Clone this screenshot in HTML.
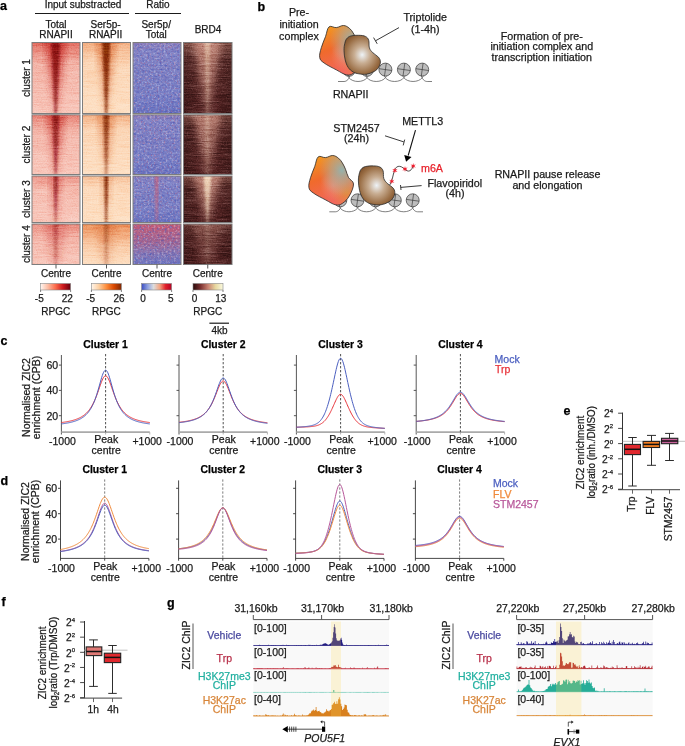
<!DOCTYPE html>
<html><head><meta charset="utf-8"><style>
html,body{margin:0;padding:0;background:#fff;}
svg{display:block;}
text{font-family:"Liberation Sans", sans-serif;stroke:#1a1a1a;stroke-width:0.25px;}
</style></head><body>
<svg width="685" height="746" viewBox="0 0 685 746" font-family='"Liberation Sans", sans-serif' font-size="10" fill="#1a1a1a">
<defs>
<filter id="noiseH" x="0" y="0" width="100%" height="100%">
  <feTurbulence type="fractalNoise" baseFrequency="0.35 1.6" numOctaves="2" seed="3" result="t"/>
  <feColorMatrix type="saturate" values="0"/>
  <feComponentTransfer><feFuncA type="linear" slope="0" intercept="1"/></feComponentTransfer>
</filter>
<filter id="blur1"><feGaussianBlur stdDeviation="1.2"/></filter>
<filter id="blur2"><feGaussianBlur stdDeviation="2"/></filter>
<filter id="blur3"><feGaussianBlur stdDeviation="3"/></filter>

<filter id="streak" x="0" y="0" width="100%" height="100%" color-interpolation-filters="sRGB">
  <feTurbulence type="fractalNoise" baseFrequency="0.06 0.9" numOctaves="3" seed="11"/>
  <feColorMatrix type="matrix" values="0.33 0.33 0.33 0 0  0.33 0.33 0.33 0 0  0.33 0.33 0.33 0 0  0 0 0 0 1"/>
  <feComponentTransfer><feFuncR type="linear" slope="3" intercept="-1"/><feFuncG type="linear" slope="3" intercept="-1"/><feFuncB type="linear" slope="3" intercept="-1"/></feComponentTransfer>
</filter>
<filter id="fine" x="0" y="0" width="100%" height="100%" color-interpolation-filters="sRGB">
  <feTurbulence type="fractalNoise" baseFrequency="0.8 0.9" numOctaves="1" seed="17"/>
  <feColorMatrix type="matrix" values="0.33 0.33 0.33 0 0  0.33 0.33 0.33 0 0  0.33 0.33 0.33 0 0  0 0 0 0 1"/>
  <feComponentTransfer><feFuncR type="linear" slope="2.6" intercept="-0.8"/><feFuncG type="linear" slope="2.6" intercept="-0.8"/><feFuncB type="linear" slope="2.6" intercept="-0.8"/></feComponentTransfer>
</filter>
<filter id="speck" x="0" y="0" width="100%" height="100%" color-interpolation-filters="sRGB">
  <feTurbulence type="fractalNoise" baseFrequency="0.7 0.6" numOctaves="2" seed="4"/>
  <feColorMatrix type="matrix" values="0 0 0 0 0.85  0 0 0 0 0.3  0 0 0 0 0.38  3.4 0 0 0 -1.9"/>
</filter>
<filter id="speck2" x="0" y="0" width="100%" height="100%" color-interpolation-filters="sRGB">
  <feTurbulence type="fractalNoise" baseFrequency="0.4 0.45" numOctaves="2" seed="9"/>
  <feColorMatrix type="matrix" values="0 0 0 0 0.3  0 0 0 0 0.35  0 0 0 0 0.72  0 3.0 0 0 -1.45"/>
</filter>
<filter id="speck3" x="0" y="0" width="100%" height="100%" color-interpolation-filters="sRGB">
  <feTurbulence type="fractalNoise" baseFrequency="0.5 0.55" numOctaves="2" seed="21"/>
  <feColorMatrix type="matrix" values="0 0 0 0 0.86  0 0 0 0 0.87  0 0 0 0 0.95  0 0 3.0 0 -1.45"/>
</filter>
<linearGradient id="ratioV" x1="0" y1="0" x2="0" y2="1"><stop offset="0" stop-color="#9aa0dc" stop-opacity="0.25"/><stop offset="0.5" stop-color="#9aa0dc" stop-opacity="0"/><stop offset="1" stop-color="#4050b0" stop-opacity="0.3"/></linearGradient>
<filter id="hb08"><feGaussianBlur stdDeviation="0.8 0.3"/></filter>
<filter id="hb3"><feGaussianBlur stdDeviation="3.2 1"/></filter>
<linearGradient id="hm00t" x1="0" y1="0" x2="0" y2="1"><stop offset="0" stop-color="#d9483a" stop-opacity="0.75"/><stop offset="0.075" stop-color="#d9483a" stop-opacity="0.525"/><stop offset="0.300" stop-color="#d9483a" stop-opacity="0.150"/><stop offset="1" stop-color="#d9483a" stop-opacity="0"/></linearGradient><linearGradient id="hm00h" x1="0" y1="0" x2="0" y2="1"><stop offset="0" stop-color="#c8302a" stop-opacity="0.75"/><stop offset="1" stop-color="#c8302a" stop-opacity="0.338"/></linearGradient><linearGradient id="hm00c" x1="0" y1="0" x2="0" y2="1"><stop offset="0" stop-color="#8c0a10" stop-opacity="0.95"/><stop offset="1" stop-color="#8c0a10" stop-opacity="0.665"/></linearGradient><linearGradient id="hm10t" x1="0" y1="0" x2="0" y2="1"><stop offset="0" stop-color="#ea8448" stop-opacity="0.55"/><stop offset="0.075" stop-color="#ea8448" stop-opacity="0.385"/><stop offset="0.300" stop-color="#ea8448" stop-opacity="0.110"/><stop offset="1" stop-color="#ea8448" stop-opacity="0"/></linearGradient><linearGradient id="hm10h" x1="0" y1="0" x2="0" y2="1"><stop offset="0" stop-color="#d86a30" stop-opacity="0.65"/><stop offset="1" stop-color="#d86a30" stop-opacity="0.293"/></linearGradient><linearGradient id="hm10c" x1="0" y1="0" x2="0" y2="1"><stop offset="0" stop-color="#862606" stop-opacity="0.95"/><stop offset="1" stop-color="#862606" stop-opacity="0.760"/></linearGradient><linearGradient id="hm20t" x1="0" y1="0" x2="0" y2="1"><stop offset="0" stop-color="#d8404e" stop-opacity="0.2"/><stop offset="0.030" stop-color="#d8404e" stop-opacity="0.140"/><stop offset="0.120" stop-color="#d8404e" stop-opacity="0.040"/><stop offset="1" stop-color="#d8404e" stop-opacity="0"/></linearGradient><linearGradient id="hm30t" x1="0" y1="0" x2="0" y2="1"><stop offset="0" stop-color="#b07868" stop-opacity="0.65"/><stop offset="0.062" stop-color="#b07868" stop-opacity="0.455"/><stop offset="0.250" stop-color="#b07868" stop-opacity="0.130"/><stop offset="1" stop-color="#b07868" stop-opacity="0"/></linearGradient><linearGradient id="hm30e" x1="0" y1="0" x2="1" y2="0"><stop offset="0" stop-color="#2a0e0e" stop-opacity="0.45"/><stop offset="0.35" stop-color="#2a0e0e" stop-opacity="0"/><stop offset="0.65" stop-color="#2a0e0e" stop-opacity="0"/><stop offset="1" stop-color="#2a0e0e" stop-opacity="0.45"/></linearGradient><linearGradient id="hm30h" x1="0" y1="0" x2="0" y2="1"><stop offset="0" stop-color="#c48a7c" stop-opacity="0.95"/><stop offset="1" stop-color="#c48a7c" stop-opacity="0.427"/></linearGradient><linearGradient id="hm30c" x1="0" y1="0" x2="0" y2="1"><stop offset="0" stop-color="#f4dcc0" stop-opacity="0.55"/><stop offset="1" stop-color="#f4dcc0" stop-opacity="0.220"/></linearGradient><linearGradient id="hm01t" x1="0" y1="0" x2="0" y2="1"><stop offset="0" stop-color="#d9483a" stop-opacity="0.6"/><stop offset="0.070" stop-color="#d9483a" stop-opacity="0.420"/><stop offset="0.280" stop-color="#d9483a" stop-opacity="0.120"/><stop offset="1" stop-color="#d9483a" stop-opacity="0"/></linearGradient><linearGradient id="hm01h" x1="0" y1="0" x2="0" y2="1"><stop offset="0" stop-color="#c8302a" stop-opacity="0.6"/><stop offset="1" stop-color="#c8302a" stop-opacity="0.270"/></linearGradient><linearGradient id="hm01c" x1="0" y1="0" x2="0" y2="1"><stop offset="0" stop-color="#8c0a10" stop-opacity="0.85"/><stop offset="1" stop-color="#8c0a10" stop-opacity="0.510"/></linearGradient><linearGradient id="hm11t" x1="0" y1="0" x2="0" y2="1"><stop offset="0" stop-color="#ea8448" stop-opacity="0.55"/><stop offset="0.062" stop-color="#ea8448" stop-opacity="0.385"/><stop offset="0.250" stop-color="#ea8448" stop-opacity="0.110"/><stop offset="1" stop-color="#ea8448" stop-opacity="0"/></linearGradient><linearGradient id="hm11h" x1="0" y1="0" x2="0" y2="1"><stop offset="0" stop-color="#d86a30" stop-opacity="0.5"/><stop offset="1" stop-color="#d86a30" stop-opacity="0.225"/></linearGradient><linearGradient id="hm11c" x1="0" y1="0" x2="0" y2="1"><stop offset="0" stop-color="#862606" stop-opacity="0.85"/><stop offset="1" stop-color="#862606" stop-opacity="0.510"/></linearGradient><linearGradient id="hm21t" x1="0" y1="0" x2="0" y2="1"><stop offset="0" stop-color="#d8404e" stop-opacity="0.25"/><stop offset="0.025" stop-color="#d8404e" stop-opacity="0.175"/><stop offset="0.100" stop-color="#d8404e" stop-opacity="0.050"/><stop offset="1" stop-color="#d8404e" stop-opacity="0"/></linearGradient><linearGradient id="hm21c" x1="0" y1="0" x2="0" y2="1"><stop offset="0" stop-color="#d8505e" stop-opacity="0.05"/><stop offset="1" stop-color="#d8505e" stop-opacity="0.050"/></linearGradient><linearGradient id="hm31t" x1="0" y1="0" x2="0" y2="1"><stop offset="0" stop-color="#b07868" stop-opacity="0.55"/><stop offset="0.062" stop-color="#b07868" stop-opacity="0.385"/><stop offset="0.250" stop-color="#b07868" stop-opacity="0.110"/><stop offset="1" stop-color="#b07868" stop-opacity="0"/></linearGradient><linearGradient id="hm31e" x1="0" y1="0" x2="1" y2="0"><stop offset="0" stop-color="#2a0e0e" stop-opacity="0.45"/><stop offset="0.35" stop-color="#2a0e0e" stop-opacity="0"/><stop offset="0.65" stop-color="#2a0e0e" stop-opacity="0"/><stop offset="1" stop-color="#2a0e0e" stop-opacity="0.45"/></linearGradient><linearGradient id="hm31h" x1="0" y1="0" x2="0" y2="1"><stop offset="0" stop-color="#c48a7c" stop-opacity="0.85"/><stop offset="1" stop-color="#c48a7c" stop-opacity="0.383"/></linearGradient><linearGradient id="hm31c" x1="0" y1="0" x2="0" y2="1"><stop offset="0" stop-color="#f4dcc0" stop-opacity="0.35"/><stop offset="1" stop-color="#f4dcc0" stop-opacity="0.140"/></linearGradient><linearGradient id="hm02t" x1="0" y1="0" x2="0" y2="1"><stop offset="0" stop-color="#d9483a" stop-opacity="0.4"/><stop offset="0.075" stop-color="#d9483a" stop-opacity="0.280"/><stop offset="0.300" stop-color="#d9483a" stop-opacity="0.080"/><stop offset="1" stop-color="#d9483a" stop-opacity="0"/></linearGradient><linearGradient id="hm02h" x1="0" y1="0" x2="0" y2="1"><stop offset="0" stop-color="#c8302a" stop-opacity="0.45"/><stop offset="1" stop-color="#c8302a" stop-opacity="0.203"/></linearGradient><linearGradient id="hm02c" x1="0" y1="0" x2="0" y2="1"><stop offset="0" stop-color="#8c0a10" stop-opacity="0.8"/><stop offset="1" stop-color="#8c0a10" stop-opacity="0.400"/></linearGradient><linearGradient id="hm12t" x1="0" y1="0" x2="0" y2="1"><stop offset="0" stop-color="#ea8448" stop-opacity="0.35"/><stop offset="0.062" stop-color="#ea8448" stop-opacity="0.245"/><stop offset="0.250" stop-color="#ea8448" stop-opacity="0.070"/><stop offset="1" stop-color="#ea8448" stop-opacity="0"/></linearGradient><linearGradient id="hm12h" x1="0" y1="0" x2="0" y2="1"><stop offset="0" stop-color="#d86a30" stop-opacity="0.35"/><stop offset="1" stop-color="#d86a30" stop-opacity="0.158"/></linearGradient><linearGradient id="hm12c" x1="0" y1="0" x2="0" y2="1"><stop offset="0" stop-color="#862606" stop-opacity="0.95"/><stop offset="1" stop-color="#862606" stop-opacity="0.807"/></linearGradient><linearGradient id="hm22t" x1="0" y1="0" x2="0" y2="1"><stop offset="0" stop-color="#d8404e" stop-opacity="0.15"/><stop offset="0.037" stop-color="#d8404e" stop-opacity="0.105"/><stop offset="0.150" stop-color="#d8404e" stop-opacity="0.030"/><stop offset="1" stop-color="#d8404e" stop-opacity="0"/></linearGradient><linearGradient id="hm22h" x1="0" y1="0" x2="0" y2="1"><stop offset="0" stop-color="#d86a78" stop-opacity="0.1"/><stop offset="1" stop-color="#d86a78" stop-opacity="0.045"/></linearGradient><linearGradient id="hm22c" x1="0" y1="0" x2="0" y2="1"><stop offset="0" stop-color="#d8505e" stop-opacity="0.65"/><stop offset="1" stop-color="#d8505e" stop-opacity="0.390"/></linearGradient><linearGradient id="hm32t" x1="0" y1="0" x2="0" y2="1"><stop offset="0" stop-color="#b07868" stop-opacity="0.6"/><stop offset="0.062" stop-color="#b07868" stop-opacity="0.420"/><stop offset="0.250" stop-color="#b07868" stop-opacity="0.120"/><stop offset="1" stop-color="#b07868" stop-opacity="0"/></linearGradient><linearGradient id="hm32e" x1="0" y1="0" x2="1" y2="0"><stop offset="0" stop-color="#2a0e0e" stop-opacity="0.45"/><stop offset="0.35" stop-color="#2a0e0e" stop-opacity="0"/><stop offset="0.65" stop-color="#2a0e0e" stop-opacity="0"/><stop offset="1" stop-color="#2a0e0e" stop-opacity="0.45"/></linearGradient><linearGradient id="hm32h" x1="0" y1="0" x2="0" y2="1"><stop offset="0" stop-color="#c48a7c" stop-opacity="0.9"/><stop offset="1" stop-color="#c48a7c" stop-opacity="0.405"/></linearGradient><linearGradient id="hm32c" x1="0" y1="0" x2="0" y2="1"><stop offset="0" stop-color="#f4dcc0" stop-opacity="0.95"/><stop offset="1" stop-color="#f4dcc0" stop-opacity="0.427"/></linearGradient><linearGradient id="hm03t" x1="0" y1="0" x2="0" y2="1"><stop offset="0" stop-color="#d9483a" stop-opacity="0.45"/><stop offset="0.113" stop-color="#d9483a" stop-opacity="0.315"/><stop offset="0.450" stop-color="#d9483a" stop-opacity="0.090"/><stop offset="1" stop-color="#d9483a" stop-opacity="0"/></linearGradient><linearGradient id="hm03h" x1="0" y1="0" x2="0" y2="1"><stop offset="0" stop-color="#c8302a" stop-opacity="0.35"/><stop offset="1" stop-color="#c8302a" stop-opacity="0.158"/></linearGradient><linearGradient id="hm03c" x1="0" y1="0" x2="0" y2="1"><stop offset="0" stop-color="#8c0a10" stop-opacity="0.4"/><stop offset="1" stop-color="#8c0a10" stop-opacity="0.200"/></linearGradient><linearGradient id="hm13t" x1="0" y1="0" x2="0" y2="1"><stop offset="0" stop-color="#ea8448" stop-opacity="0.95"/><stop offset="0.138" stop-color="#ea8448" stop-opacity="0.665"/><stop offset="0.550" stop-color="#ea8448" stop-opacity="0.190"/><stop offset="1" stop-color="#ea8448" stop-opacity="0"/></linearGradient><linearGradient id="hm13h" x1="0" y1="0" x2="0" y2="1"><stop offset="0" stop-color="#d86a30" stop-opacity="0.4"/><stop offset="1" stop-color="#d86a30" stop-opacity="0.180"/></linearGradient><linearGradient id="hm13c" x1="0" y1="0" x2="0" y2="1"><stop offset="0" stop-color="#862606" stop-opacity="0.4"/><stop offset="1" stop-color="#862606" stop-opacity="0.240"/></linearGradient><linearGradient id="hm23t" x1="0" y1="0" x2="0" y2="1"><stop offset="0" stop-color="#d8404e" stop-opacity="1.0"/><stop offset="0.175" stop-color="#d8404e" stop-opacity="0.700"/><stop offset="0.700" stop-color="#d8404e" stop-opacity="0.200"/><stop offset="1" stop-color="#d8404e" stop-opacity="0"/></linearGradient><linearGradient id="hm33t" x1="0" y1="0" x2="0" y2="1"><stop offset="0" stop-color="#b07868" stop-opacity="0.35"/><stop offset="0.075" stop-color="#b07868" stop-opacity="0.245"/><stop offset="0.300" stop-color="#b07868" stop-opacity="0.070"/><stop offset="1" stop-color="#b07868" stop-opacity="0"/></linearGradient><linearGradient id="hm33e" x1="0" y1="0" x2="1" y2="0"><stop offset="0" stop-color="#2a0e0e" stop-opacity="0.45"/><stop offset="0.35" stop-color="#2a0e0e" stop-opacity="0"/><stop offset="0.65" stop-color="#2a0e0e" stop-opacity="0"/><stop offset="1" stop-color="#2a0e0e" stop-opacity="0.45"/></linearGradient><linearGradient id="hm33h" x1="0" y1="0" x2="0" y2="1"><stop offset="0" stop-color="#c48a7c" stop-opacity="0.35"/><stop offset="1" stop-color="#c48a7c" stop-opacity="0.158"/></linearGradient><linearGradient id="hm33c" x1="0" y1="0" x2="0" y2="1"><stop offset="0" stop-color="#f4dcc0" stop-opacity="0.15"/><stop offset="1" stop-color="#f4dcc0" stop-opacity="0.075"/></linearGradient><linearGradient id="cb0" x1="0" y1="0" x2="1" y2="0"><stop offset="0.000" stop-color="#fff5f0"/><stop offset="0.250" stop-color="#fcbba1"/><stop offset="0.500" stop-color="#fb6a4a"/><stop offset="0.750" stop-color="#cb181d"/><stop offset="1.000" stop-color="#67000d"/></linearGradient><linearGradient id="cb1" x1="0" y1="0" x2="1" y2="0"><stop offset="0.000" stop-color="#fff5eb"/><stop offset="0.250" stop-color="#fdd0a2"/><stop offset="0.500" stop-color="#fd8d3c"/><stop offset="0.750" stop-color="#d94801"/><stop offset="1.000" stop-color="#7f2704"/></linearGradient><linearGradient id="cb2" x1="0" y1="0" x2="1" y2="0"><stop offset="0.000" stop-color="#3b4cc0"/><stop offset="0.200" stop-color="#8da0e0"/><stop offset="0.400" stop-color="#dddddd"/><stop offset="0.600" stop-color="#f4a582"/><stop offset="0.800" stop-color="#e0202a"/><stop offset="1.000" stop-color="#b40426"/></linearGradient><linearGradient id="cb3" x1="0" y1="0" x2="1" y2="0"><stop offset="0.000" stop-color="#2a0a0a"/><stop offset="0.250" stop-color="#7a3030"/><stop offset="0.500" stop-color="#c88070"/><stop offset="0.750" stop-color="#e8d8a0"/><stop offset="1.000" stop-color="#fafae0"/></linearGradient>
<linearGradient id="picG" x1="0" y1="0" x2="0.35" y2="1">
  <stop offset="0" stop-color="#f2a020"/><stop offset="0.5" stop-color="#f06a2c"/><stop offset="1" stop-color="#f2685e"/>
</linearGradient>
<radialGradient id="picT" cx="0.74" cy="0.3" r="0.52">
  <stop offset="0" stop-color="#90b6b4" stop-opacity="0.95"/><stop offset="0.5" stop-color="#a8b2a0" stop-opacity="0.55"/><stop offset="1" stop-color="#c0a890" stop-opacity="0"/>
</radialGradient>
<radialGradient id="picR" cx="0.85" cy="0.75" r="0.35">
  <stop offset="0" stop-color="#e0903c" stop-opacity="0.9"/><stop offset="1" stop-color="#e0903c" stop-opacity="0"/>
</radialGradient>
<radialGradient id="picC" cx="0.55" cy="0.6" r="0.3">
  <stop offset="0" stop-color="#e8a090" stop-opacity="0.6"/><stop offset="1" stop-color="#e8a090" stop-opacity="0"/>
</radialGradient>
<radialGradient id="polG" cx="0.5" cy="0.5" r="0.62" fx="0.5" fy="0.5">
  <stop offset="0" stop-color="#eef3f7"/><stop offset="0.35" stop-color="#c8ad92"/><stop offset="0.75" stop-color="#9a6e45"/><stop offset="1" stop-color="#7a4c26"/>
</radialGradient>
</defs>
<rect width="685" height="746" fill="#fff"/>
<g id="panelA">
<text x="0" y="10" font-weight="bold" fill="#000" style="stroke:#000" font-size="12.5">a</text>
<text x="83" y="8" text-anchor="middle">Input substracted</text>
<line x1="35" y1="13.5" x2="129" y2="13.5" stroke="#1a1a1a" stroke-width="1"/>
<text x="158" y="8" text-anchor="middle">Ratio</text>
<line x1="135" y1="13.5" x2="181" y2="13.5" stroke="#1a1a1a" stroke-width="1"/>
<text x="56" y="27.5" text-anchor="middle">Total</text>
<text x="56" y="37.5" text-anchor="middle">RNAPII</text>
<text x="105.6" y="27.5" text-anchor="middle">Ser5p-</text>
<text x="105.6" y="37.5" text-anchor="middle">RNAPII</text>
<text x="156.2" y="27.5" text-anchor="middle">Ser5p/</text>
<text x="156.2" y="37.5" text-anchor="middle">Total</text>
<text x="208" y="33" text-anchor="middle">BRD4</text>
<svg x="32" y="42.5" width="48" height="71.0" viewBox="32 42.5 48 71.0" overflow="hidden">
<rect x="32" y="42.5" width="48" height="71.0" fill="#f8c8bc"/>
<rect x="32" y="42.5" width="48" height="71.0" fill="url(#hm00t)"/>
<path d="M44.7,40.5 L66.7,40.5 L57.2,115.5 L54.2,115.5Z" fill="url(#hm00h)" filter="url(#hb3)"/>
<path d="M51.2,41.5 L60.2,41.5 L56.8,113.5 L54.6,113.5Z" fill="url(#hm00c)" filter="url(#hb08)"/>
<rect x="32" y="42.5" width="48" height="71.0" filter="url(#streak)" opacity="0.3" style="mix-blend-mode:soft-light"/>
<rect x="32" y="42.5" width="48" height="71.0" filter="url(#fine)" opacity="0.35" style="mix-blend-mode:soft-light"/>
</svg>
<rect x="32" y="42.5" width="48" height="71.0" fill="none" stroke="#7d7d7d" stroke-width="1"/>
<svg x="82.5" y="42.5" width="48.0" height="71.0" viewBox="82.5 42.5 48.0 71.0" overflow="hidden">
<rect x="82.5" y="42.5" width="48.0" height="71.0" fill="#fde0c4"/>
<rect x="82.5" y="42.5" width="48.0" height="71.0" fill="url(#hm10t)"/>
<path d="M96.2,40.5 L116.2,40.5 L107.7,115.5 L104.7,115.5Z" fill="url(#hm10h)" filter="url(#hb3)"/>
<path d="M102.2,41.5 L110.2,41.5 L107.2,113.5 L105.2,113.5Z" fill="url(#hm10c)" filter="url(#hb08)"/>
<rect x="82.5" y="42.5" width="48.0" height="71.0" filter="url(#streak)" opacity="0.3" style="mix-blend-mode:soft-light"/>
<rect x="82.5" y="42.5" width="48.0" height="71.0" filter="url(#fine)" opacity="0.3" style="mix-blend-mode:soft-light"/>
</svg>
<rect x="82.5" y="42.5" width="48.0" height="71.0" fill="none" stroke="#7d7d7d" stroke-width="1"/>
<svg x="133" y="42.5" width="48" height="71.0" viewBox="133 42.5 48 71.0" overflow="hidden">
<rect x="133" y="42.5" width="48" height="71.0" fill="#7880c6"/>
<rect x="133" y="42.5" width="48" height="71.0" fill="url(#hm20t)"/>
<rect x="133" y="42.5" width="48" height="71.0" fill="url(#ratioV)"/>
<rect x="133" y="42.5" width="48" height="71.0" filter="url(#speck2)" opacity="0.65"/>
<rect x="133" y="42.5" width="48" height="71.0" filter="url(#speck3)" opacity="0.45"/>
<rect x="133" y="42.5" width="48" height="71.0" filter="url(#speck)" opacity="0.35"/>
<rect x="133" y="42.5" width="48" height="71.0" filter="url(#streak)" opacity="0.1" style="mix-blend-mode:soft-light"/>
</svg>
<rect x="133" y="42.5" width="48" height="71.0" fill="none" stroke="#7d7d7d" stroke-width="1"/>
<svg x="183.5" y="42.5" width="48.5" height="71.0" viewBox="183.5 42.5 48.5 71.0" overflow="hidden">
<rect x="183.5" y="42.5" width="48.5" height="71.0" fill="#532222"/>
<rect x="183.5" y="42.5" width="48.5" height="71.0" fill="url(#hm30e)"/>
<rect x="183.5" y="42.5" width="48.5" height="71.0" fill="url(#hm30t)"/>
<path d="M193.4,40.5 L221.4,40.5 L208.9,115.5 L205.9,115.5Z" fill="url(#hm30h)" filter="url(#hb3)"/>
<path d="M204.4,41.5 L210.4,41.5 L208.1,113.5 L206.8,113.5Z" fill="url(#hm30c)" filter="url(#hb08)"/>
<rect x="183.5" y="42.5" width="48.5" height="71.0" filter="url(#streak)" opacity="0.4" style="mix-blend-mode:soft-light"/>
<rect x="183.5" y="42.5" width="48.5" height="71.0" filter="url(#fine)" opacity="0.35" style="mix-blend-mode:soft-light"/>
</svg>
<rect x="183.5" y="42.5" width="48.5" height="71.0" fill="none" stroke="#7d7d7d" stroke-width="1"/>
<svg x="32" y="114.8" width="48" height="59.7" viewBox="32 114.8 48 59.7" overflow="hidden">
<rect x="32" y="114.8" width="48" height="59.7" fill="#f8c8bc"/>
<rect x="32" y="114.8" width="48" height="59.7" fill="url(#hm01t)"/>
<path d="M45.7,112.8 L65.7,112.8 L57.2,176.5 L54.2,176.5Z" fill="url(#hm01h)" filter="url(#hb3)"/>
<path d="M52.2,113.8 L59.2,113.8 L56.7,174.5 L54.7,174.5Z" fill="url(#hm01c)" filter="url(#hb08)"/>
<rect x="32" y="114.8" width="48" height="59.7" filter="url(#streak)" opacity="0.3" style="mix-blend-mode:soft-light"/>
<rect x="32" y="114.8" width="48" height="59.7" filter="url(#fine)" opacity="0.35" style="mix-blend-mode:soft-light"/>
</svg>
<rect x="32" y="114.8" width="48" height="59.7" fill="none" stroke="#7d7d7d" stroke-width="1"/>
<svg x="82.5" y="114.8" width="48.0" height="59.7" viewBox="82.5 114.8 48.0 59.7" overflow="hidden">
<rect x="82.5" y="114.8" width="48.0" height="59.7" fill="#fde0c4"/>
<rect x="82.5" y="114.8" width="48.0" height="59.7" fill="url(#hm11t)"/>
<path d="M97.2,112.8 L115.2,112.8 L107.7,176.5 L104.7,176.5Z" fill="url(#hm11h)" filter="url(#hb3)"/>
<path d="M103.2,113.8 L109.2,113.8 L107.1,174.5 L105.3,174.5Z" fill="url(#hm11c)" filter="url(#hb08)"/>
<rect x="82.5" y="114.8" width="48.0" height="59.7" filter="url(#streak)" opacity="0.3" style="mix-blend-mode:soft-light"/>
<rect x="82.5" y="114.8" width="48.0" height="59.7" filter="url(#fine)" opacity="0.3" style="mix-blend-mode:soft-light"/>
</svg>
<rect x="82.5" y="114.8" width="48.0" height="59.7" fill="none" stroke="#7d7d7d" stroke-width="1"/>
<svg x="133" y="114.8" width="48" height="59.7" viewBox="133 114.8 48 59.7" overflow="hidden">
<rect x="133" y="114.8" width="48" height="59.7" fill="#7880c6"/>
<rect x="133" y="114.8" width="48" height="59.7" fill="url(#hm21t)"/>
<rect x="133" y="114.8" width="48" height="59.7" fill="url(#ratioV)"/>
<rect x="133" y="114.8" width="48" height="59.7" filter="url(#speck2)" opacity="0.65"/>
<rect x="133" y="114.8" width="48" height="59.7" filter="url(#speck3)" opacity="0.45"/>
<rect x="133" y="114.8" width="48" height="59.7" filter="url(#speck)" opacity="0.35"/>
<path d="M155.7,113.8 L157.7,113.8 L157.7,174.5 L155.7,174.5Z" fill="url(#hm21c)" filter="url(#hb08)"/>
<rect x="133" y="114.8" width="48" height="59.7" filter="url(#streak)" opacity="0.1" style="mix-blend-mode:soft-light"/>
</svg>
<rect x="133" y="114.8" width="48" height="59.7" fill="none" stroke="#7d7d7d" stroke-width="1"/>
<svg x="183.5" y="114.8" width="48.5" height="59.7" viewBox="183.5 114.8 48.5 59.7" overflow="hidden">
<rect x="183.5" y="114.8" width="48.5" height="59.7" fill="#532222"/>
<rect x="183.5" y="114.8" width="48.5" height="59.7" fill="url(#hm31e)"/>
<rect x="183.5" y="114.8" width="48.5" height="59.7" fill="url(#hm31t)"/>
<path d="M193.4,112.8 L221.4,112.8 L208.9,176.5 L205.9,176.5Z" fill="url(#hm31h)" filter="url(#hb3)"/>
<path d="M204.9,113.8 L209.9,113.8 L208.1,174.5 L206.8,174.5Z" fill="url(#hm31c)" filter="url(#hb08)"/>
<rect x="183.5" y="114.8" width="48.5" height="59.7" filter="url(#streak)" opacity="0.4" style="mix-blend-mode:soft-light"/>
<rect x="183.5" y="114.8" width="48.5" height="59.7" filter="url(#fine)" opacity="0.35" style="mix-blend-mode:soft-light"/>
</svg>
<rect x="183.5" y="114.8" width="48.5" height="59.7" fill="none" stroke="#7d7d7d" stroke-width="1"/>
<svg x="32" y="176" width="48" height="46.5" viewBox="32 176 48 46.5" overflow="hidden">
<rect x="32" y="176" width="48" height="46.5" fill="#f8c8bc"/>
<rect x="32" y="176" width="48" height="46.5" fill="url(#hm02t)"/>
<path d="M48.7,174 L62.7,174 L57.2,224.5 L54.2,224.5Z" fill="url(#hm02h)" filter="url(#hb3)"/>
<path d="M53.5,175 L58.0,175 L56.5,222.5 L54.9,222.5Z" fill="url(#hm02c)" filter="url(#hb08)"/>
<rect x="32" y="176" width="48" height="46.5" filter="url(#streak)" opacity="0.3" style="mix-blend-mode:soft-light"/>
<rect x="32" y="176" width="48" height="46.5" filter="url(#fine)" opacity="0.35" style="mix-blend-mode:soft-light"/>
</svg>
<rect x="32" y="176" width="48" height="46.5" fill="none" stroke="#7d7d7d" stroke-width="1"/>
<svg x="82.5" y="176" width="48.0" height="46.5" viewBox="82.5 176 48.0 46.5" overflow="hidden">
<rect x="82.5" y="176" width="48.0" height="46.5" fill="#fde0c4"/>
<rect x="82.5" y="176" width="48.0" height="46.5" fill="url(#hm12t)"/>
<path d="M100.2,174 L112.2,174 L107.7,224.5 L104.7,224.5Z" fill="url(#hm12h)" filter="url(#hb3)"/>
<path d="M104.2,175 L108.2,175 L107.0,222.5 L105.4,222.5Z" fill="url(#hm12c)" filter="url(#hb08)"/>
<rect x="82.5" y="176" width="48.0" height="46.5" filter="url(#streak)" opacity="0.3" style="mix-blend-mode:soft-light"/>
<rect x="82.5" y="176" width="48.0" height="46.5" filter="url(#fine)" opacity="0.3" style="mix-blend-mode:soft-light"/>
</svg>
<rect x="82.5" y="176" width="48.0" height="46.5" fill="none" stroke="#7d7d7d" stroke-width="1"/>
<svg x="133" y="176" width="48" height="46.5" viewBox="133 176 48 46.5" overflow="hidden">
<rect x="133" y="176" width="48" height="46.5" fill="#7880c6"/>
<rect x="133" y="176" width="48" height="46.5" fill="url(#hm22t)"/>
<path d="M152.7,174 L160.7,174 L159.7,224.5 L153.7,224.5Z" fill="url(#hm22h)" filter="url(#hb3)"/>
<rect x="133" y="176" width="48" height="46.5" fill="url(#ratioV)"/>
<rect x="133" y="176" width="48" height="46.5" filter="url(#speck2)" opacity="0.65"/>
<rect x="133" y="176" width="48" height="46.5" filter="url(#speck3)" opacity="0.45"/>
<rect x="133" y="176" width="48" height="46.5" filter="url(#speck)" opacity="0.35"/>
<path d="M155.2,175 L158.2,175 L157.7,222.5 L155.7,222.5Z" fill="url(#hm22c)" filter="url(#hb08)"/>
<rect x="133" y="176" width="48" height="46.5" filter="url(#streak)" opacity="0.1" style="mix-blend-mode:soft-light"/>
</svg>
<rect x="133" y="176" width="48" height="46.5" fill="none" stroke="#7d7d7d" stroke-width="1"/>
<svg x="183.5" y="176" width="48.5" height="46.5" viewBox="183.5 176 48.5 46.5" overflow="hidden">
<rect x="183.5" y="176" width="48.5" height="46.5" fill="#532222"/>
<rect x="183.5" y="176" width="48.5" height="46.5" fill="url(#hm32e)"/>
<rect x="183.5" y="176" width="48.5" height="46.5" fill="url(#hm32t)"/>
<path d="M193.4,174 L221.4,174 L208.9,224.5 L205.9,224.5Z" fill="url(#hm32h)" filter="url(#hb3)"/>
<path d="M203.4,175 L211.4,175 L208.1,222.5 L206.8,222.5Z" fill="url(#hm32c)" filter="url(#hb08)"/>
<rect x="183.5" y="176" width="48.5" height="46.5" filter="url(#streak)" opacity="0.4" style="mix-blend-mode:soft-light"/>
<rect x="183.5" y="176" width="48.5" height="46.5" filter="url(#fine)" opacity="0.35" style="mix-blend-mode:soft-light"/>
</svg>
<rect x="183.5" y="176" width="48.5" height="46.5" fill="none" stroke="#7d7d7d" stroke-width="1"/>
<svg x="32" y="224" width="48" height="40.5" viewBox="32 224 48 40.5" overflow="hidden">
<rect x="32" y="224" width="48" height="40.5" fill="#f8c8bc"/>
<rect x="32" y="224" width="48" height="40.5" fill="url(#hm03t)"/>
<path d="M44.7,222 L66.7,222 L59.7,266.5 L51.7,266.5Z" fill="url(#hm03h)" filter="url(#hb3)"/>
<path d="M53.2,223 L58.2,223 L57.0,264.5 L54.5,264.5Z" fill="url(#hm03c)" filter="url(#hb08)"/>
<rect x="32" y="224" width="48" height="40.5" filter="url(#streak)" opacity="0.3" style="mix-blend-mode:soft-light"/>
<rect x="32" y="224" width="48" height="40.5" filter="url(#fine)" opacity="0.35" style="mix-blend-mode:soft-light"/>
</svg>
<rect x="32" y="224" width="48" height="40.5" fill="none" stroke="#7d7d7d" stroke-width="1"/>
<svg x="82.5" y="224" width="48.0" height="40.5" viewBox="82.5 224 48.0 40.5" overflow="hidden">
<rect x="82.5" y="224" width="48.0" height="40.5" fill="#fde0c4"/>
<rect x="82.5" y="224" width="48.0" height="40.5" fill="url(#hm13t)"/>
<path d="M95.2,222 L117.2,222 L110.2,266.5 L102.2,266.5Z" fill="url(#hm13h)" filter="url(#hb3)"/>
<path d="M103.7,223 L108.7,223 L107.5,264.5 L105.0,264.5Z" fill="url(#hm13c)" filter="url(#hb08)"/>
<rect x="82.5" y="224" width="48.0" height="40.5" filter="url(#streak)" opacity="0.3" style="mix-blend-mode:soft-light"/>
<rect x="82.5" y="224" width="48.0" height="40.5" filter="url(#fine)" opacity="0.3" style="mix-blend-mode:soft-light"/>
</svg>
<rect x="82.5" y="224" width="48.0" height="40.5" fill="none" stroke="#7d7d7d" stroke-width="1"/>
<svg x="133" y="224" width="48" height="40.5" viewBox="133 224 48 40.5" overflow="hidden">
<rect x="133" y="224" width="48" height="40.5" fill="#7880c6"/>
<rect x="133" y="224" width="48" height="40.5" fill="url(#hm23t)"/>
<rect x="133" y="224" width="48" height="40.5" fill="url(#ratioV)"/>
<rect x="133" y="224" width="48" height="40.5" filter="url(#speck2)" opacity="0.65"/>
<rect x="133" y="224" width="48" height="40.5" filter="url(#speck3)" opacity="0.45"/>
<rect x="133" y="224" width="48" height="40.5" filter="url(#speck)" opacity="0.35"/>
<rect x="133" y="224" width="48" height="40.5" filter="url(#streak)" opacity="0.1" style="mix-blend-mode:soft-light"/>
</svg>
<rect x="133" y="224" width="48" height="40.5" fill="none" stroke="#7d7d7d" stroke-width="1"/>
<svg x="183.5" y="224" width="48.5" height="40.5" viewBox="183.5 224 48.5 40.5" overflow="hidden">
<rect x="183.5" y="224" width="48.5" height="40.5" fill="#532222"/>
<rect x="183.5" y="224" width="48.5" height="40.5" fill="url(#hm33e)"/>
<rect x="183.5" y="224" width="48.5" height="40.5" fill="url(#hm33t)"/>
<path d="M192.4,222 L222.4,222 L212.4,266.5 L202.4,266.5Z" fill="url(#hm33h)" filter="url(#hb3)"/>
<path d="M204.4,223 L210.4,223 L208.9,264.5 L205.9,264.5Z" fill="url(#hm33c)" filter="url(#hb08)"/>
<rect x="183.5" y="224" width="48.5" height="40.5" filter="url(#streak)" opacity="0.4" style="mix-blend-mode:soft-light"/>
<rect x="183.5" y="224" width="48.5" height="40.5" filter="url(#fine)" opacity="0.35" style="mix-blend-mode:soft-light"/>
</svg>
<rect x="183.5" y="224" width="48.5" height="40.5" fill="none" stroke="#7d7d7d" stroke-width="1"/>
<text x="0" y="0" text-anchor="middle" transform="translate(29.5,78.0) rotate(-90)">cluster 1</text>
<text x="0" y="0" text-anchor="middle" transform="translate(29.5,144.7) rotate(-90)">cluster 2</text>
<text x="0" y="0" text-anchor="middle" transform="translate(29.5,199.2) rotate(-90)">cluster 3</text>
<text x="0" y="0" text-anchor="middle" transform="translate(29.5,244.2) rotate(-90)">cluster 4</text>
<line x1="56.0" y1="264.5" x2="56.0" y2="268.5" stroke="#555" stroke-width="1"/>
<text x="56.0" y="277" text-anchor="middle">Centre</text>
<line x1="106.5" y1="264.5" x2="106.5" y2="268.5" stroke="#555" stroke-width="1"/>
<text x="106.5" y="277" text-anchor="middle">Centre</text>
<line x1="157.0" y1="264.5" x2="157.0" y2="268.5" stroke="#555" stroke-width="1"/>
<text x="157.0" y="277" text-anchor="middle">Centre</text>
<line x1="207.75" y1="264.5" x2="207.75" y2="268.5" stroke="#555" stroke-width="1"/>
<text x="207.75" y="277" text-anchor="middle">Centre</text>
<rect x="40.6" y="283.5" width="30" height="6.5" fill="url(#cb0)" stroke="#888" stroke-width="0.6"/>
<line x1="40.6" y1="290" x2="40.6" y2="292" stroke="#555" stroke-width="0.7"/>
<line x1="70.6" y1="290" x2="70.6" y2="292" stroke="#555" stroke-width="0.7"/>
<text x="39.3" y="301.5" text-anchor="middle">-5</text>
<text x="67.2" y="301.5" text-anchor="middle">22</text>
<text x="55.8" y="314.5" text-anchor="middle">RPGC</text>
<rect x="91.4" y="283.5" width="30" height="6.5" fill="url(#cb1)" stroke="#888" stroke-width="0.6"/>
<line x1="91.4" y1="290" x2="91.4" y2="292" stroke="#555" stroke-width="0.7"/>
<line x1="121.4" y1="290" x2="121.4" y2="292" stroke="#555" stroke-width="0.7"/>
<text x="90.6" y="301.5" text-anchor="middle">-5</text>
<text x="119.0" y="301.5" text-anchor="middle">26</text>
<text x="106.4" y="314.5" text-anchor="middle">RPGC</text>
<rect x="141.6" y="283.5" width="30" height="6.5" fill="url(#cb2)" stroke="#888" stroke-width="0.6"/>
<line x1="141.6" y1="290" x2="141.6" y2="292" stroke="#555" stroke-width="0.7"/>
<line x1="171.6" y1="290" x2="171.6" y2="292" stroke="#555" stroke-width="0.7"/>
<text x="143.1" y="301.5" text-anchor="middle">0</text>
<text x="170.8" y="301.5" text-anchor="middle">5</text>
<rect x="193" y="283.5" width="30" height="6.5" fill="url(#cb3)" stroke="#888" stroke-width="0.6"/>
<line x1="193" y1="290" x2="193" y2="292" stroke="#555" stroke-width="0.7"/>
<line x1="223" y1="290" x2="223" y2="292" stroke="#555" stroke-width="0.7"/>
<text x="194.5" y="301.5" text-anchor="middle">0</text>
<text x="220.8" y="301.5" text-anchor="middle">13</text>
<text x="207.7" y="314.5" text-anchor="middle">RPGC</text>
<line x1="209.4" y1="323.2" x2="229" y2="323.2" stroke="#1a1a1a" stroke-width="1.2"/>
<text x="219.5" y="334" text-anchor="middle">4kb</text>
</g>
<g id="panelB" font-size="10.7">
<text x="257.5" y="11.0" font-weight="bold" fill="#000" style="stroke:#000" font-size="12.5">b</text>
<text x="299" y="16" text-anchor="middle" font-size="10.7">Pre-</text>
<text x="299" y="28" text-anchor="middle" font-size="10.7">initiation</text>
<text x="299" y="39.5" text-anchor="middle" font-size="10.7">complex</text>
<text x="350.7" y="97.6" text-anchor="middle" font-size="10.7">RNAPII</text>
<text x="425.2" y="21" text-anchor="middle" font-size="10.7">Triptolide</text>
<text x="425.2" y="32.5" text-anchor="middle" font-size="10.7">(1-4h)</text>
<text x="541.8" y="39.6" text-anchor="middle" font-size="10.7">Formation of pre-</text>
<text x="541.8" y="50.4" text-anchor="middle" font-size="10.7">initiation complex and</text>
<text x="541.8" y="61" text-anchor="middle" font-size="10.7">transcription initiation</text>
<text x="356.5" y="132.4" text-anchor="middle" font-size="10.7">STM2457</text>
<text x="356.5" y="142" text-anchor="middle" font-size="10.7">(24h)</text>
<text x="422.7" y="125" text-anchor="middle" font-size="10.7">METTL3</text>
<text x="421" y="171.6" fill="#e8222b" style="stroke:#e8222b" font-size="10.7">m6A</text>
<text x="454.8" y="187.4" text-anchor="middle" font-size="10.7">Flavopiridol</text>
<text x="455" y="197" text-anchor="middle" font-size="10.7">(4h)</text>
<text x="547.5" y="178.4" text-anchor="middle" font-size="10.7">RNAPII pause release</text>
<text x="547.5" y="188.6" text-anchor="middle" font-size="10.7">and elongation</text>
</g>
<path d="M338,81.5 L344,81.5 C346.5,81.5 349.5,79.5 350.5,73.0 M347.5,73.0 C347.0,84.3 369.0,84.3 368.5,73.0 M365.5,73.0 C365.0,84.3 387.4,84.3 386.9,73.0 M383.9,73.0 C383.4,84.3 405.9,84.3 405.4,73.0 M402.4,73.0 C401.9,84.3 424.2,84.3 423.7,73.0 M420.7,73.0 C421.7,79.5 424.7,81.5 427.2,81.5 L432,81.5" stroke="#555" fill="none" stroke-width="0.75"/>
<circle cx="349" cy="69.8" r="6.5" fill="#bdbdbd" stroke="#3a3a3a" stroke-width="0.7"/>
<line x1="342.56" y1="68.9" x2="355.44" y2="70.7" stroke="#333" stroke-width="0.65"/>
<line x1="349.9" y1="63.36" x2="348.1" y2="76.24" stroke="#333" stroke-width="0.65"/>
<circle cx="367" cy="69.8" r="6.5" fill="#bdbdbd" stroke="#3a3a3a" stroke-width="0.7"/>
<line x1="360.56" y1="68.9" x2="373.44" y2="70.7" stroke="#333" stroke-width="0.65"/>
<line x1="367.9" y1="63.36" x2="366.1" y2="76.24" stroke="#333" stroke-width="0.65"/>
<path d="M329.00,26.90 C330.98,25.25 333.64,27.86 336.30,27.60 C338.96,27.34 341.12,25.39 343.50,25.50 C345.88,25.61 347.52,26.82 349.30,28.20 C351.08,29.57 351.90,30.93 353.20,33.00 C354.50,35.07 355.28,36.84 356.40,39.50 C357.52,42.16 357.85,44.84 359.30,47.50 C360.75,50.16 364.13,50.64 364.30,54.00 C364.47,57.36 362.24,62.24 360.20,65.80 C358.16,69.36 355.75,71.75 353.20,73.40 C350.65,75.05 349.34,75.42 346.30,74.80 C343.26,74.18 340.67,72.16 336.60,70.00 C332.53,67.84 327.20,65.31 324.10,63.00 C321.00,60.69 320.21,60.21 319.70,57.40 C319.19,54.60 320.24,51.51 321.30,47.70 C322.36,43.89 324.09,40.41 325.50,36.60 C326.91,32.79 327.02,28.55 329.00,26.90Z" stroke="none" fill="url(#picG)" stroke-width="0.8"/>
<path d="M329.00,26.90 C330.98,25.25 333.64,27.86 336.30,27.60 C338.96,27.34 341.12,25.39 343.50,25.50 C345.88,25.61 347.52,26.82 349.30,28.20 C351.08,29.57 351.90,30.93 353.20,33.00 C354.50,35.07 355.28,36.84 356.40,39.50 C357.52,42.16 357.85,44.84 359.30,47.50 C360.75,50.16 364.13,50.64 364.30,54.00 C364.47,57.36 362.24,62.24 360.20,65.80 C358.16,69.36 355.75,71.75 353.20,73.40 C350.65,75.05 349.34,75.42 346.30,74.80 C343.26,74.18 340.67,72.16 336.60,70.00 C332.53,67.84 327.20,65.31 324.10,63.00 C321.00,60.69 320.21,60.21 319.70,57.40 C319.19,54.60 320.24,51.51 321.30,47.70 C322.36,43.89 324.09,40.41 325.50,36.60 C326.91,32.79 327.02,28.55 329.00,26.90Z" stroke="none" fill="url(#picR)" stroke-width="0.8"/>
<path d="M329.00,26.90 C330.98,25.25 333.64,27.86 336.30,27.60 C338.96,27.34 341.12,25.39 343.50,25.50 C345.88,25.61 347.52,26.82 349.30,28.20 C351.08,29.57 351.90,30.93 353.20,33.00 C354.50,35.07 355.28,36.84 356.40,39.50 C357.52,42.16 357.85,44.84 359.30,47.50 C360.75,50.16 364.13,50.64 364.30,54.00 C364.47,57.36 362.24,62.24 360.20,65.80 C358.16,69.36 355.75,71.75 353.20,73.40 C350.65,75.05 349.34,75.42 346.30,74.80 C343.26,74.18 340.67,72.16 336.60,70.00 C332.53,67.84 327.20,65.31 324.10,63.00 C321.00,60.69 320.21,60.21 319.70,57.40 C319.19,54.60 320.24,51.51 321.30,47.70 C322.36,43.89 324.09,40.41 325.50,36.60 C326.91,32.79 327.02,28.55 329.00,26.90Z" stroke="none" fill="url(#picC)" stroke-width="0.8"/>
<path d="M329.00,26.90 C330.98,25.25 333.64,27.86 336.30,27.60 C338.96,27.34 341.12,25.39 343.50,25.50 C345.88,25.61 347.52,26.82 349.30,28.20 C351.08,29.57 351.90,30.93 353.20,33.00 C354.50,35.07 355.28,36.84 356.40,39.50 C357.52,42.16 357.85,44.84 359.30,47.50 C360.75,50.16 364.13,50.64 364.30,54.00 C364.47,57.36 362.24,62.24 360.20,65.80 C358.16,69.36 355.75,71.75 353.20,73.40 C350.65,75.05 349.34,75.42 346.30,74.80 C343.26,74.18 340.67,72.16 336.60,70.00 C332.53,67.84 327.20,65.31 324.10,63.00 C321.00,60.69 320.21,60.21 319.70,57.40 C319.19,54.60 320.24,51.51 321.30,47.70 C322.36,43.89 324.09,40.41 325.50,36.60 C326.91,32.79 327.02,28.55 329.00,26.90Z" stroke="#2a2a2a" fill="url(#picT)" stroke-width="0.8"/>
<path d="M346.80,38.60 C347.96,37.22 348.90,36.51 351.10,35.90 C353.30,35.30 356.18,35.21 358.80,35.30 C361.42,35.39 363.59,35.48 365.40,36.40 C367.22,37.32 367.97,38.19 368.70,40.30 C369.43,42.41 368.61,45.59 369.40,47.90 C370.19,50.21 371.33,51.20 373.00,52.90 C374.67,54.61 377.14,55.55 378.50,57.20 C379.86,58.85 380.38,60.03 380.40,61.90 C380.42,63.77 379.76,65.64 378.60,67.40 C377.44,69.16 376.32,70.25 374.10,71.50 C371.88,72.75 369.31,73.78 366.50,74.20 C363.69,74.62 361.24,74.20 358.80,73.80 C356.36,73.40 355.14,73.17 353.20,72.00 C351.26,70.83 349.67,69.62 348.20,67.40 C346.73,65.18 345.97,63.02 345.20,59.90 C344.43,56.78 344.07,53.43 344.00,50.40 C343.93,47.38 344.29,45.56 344.80,43.40 C345.31,41.24 345.64,39.97 346.80,38.60Z" stroke="#2a2a2a" fill="url(#polG)" stroke-width="0.8"/>
<circle cx="385.4" cy="69.6" r="6.5" fill="#bdbdbd" stroke="#3a3a3a" stroke-width="0.7"/>
<line x1="378.96" y1="68.7" x2="391.84" y2="70.5" stroke="#333" stroke-width="0.65"/>
<line x1="386.3" y1="63.16" x2="384.5" y2="76.04" stroke="#333" stroke-width="0.65"/>
<circle cx="403.9" cy="69.6" r="6.5" fill="#bdbdbd" stroke="#3a3a3a" stroke-width="0.7"/>
<line x1="397.46" y1="68.7" x2="410.34" y2="70.5" stroke="#333" stroke-width="0.65"/>
<line x1="404.8" y1="63.16" x2="403" y2="76.04" stroke="#333" stroke-width="0.65"/>
<circle cx="422.2" cy="69.6" r="6.5" fill="#bdbdbd" stroke="#3a3a3a" stroke-width="0.7"/>
<line x1="415.76" y1="68.7" x2="428.64" y2="70.5" stroke="#333" stroke-width="0.65"/>
<line x1="423.1" y1="63.16" x2="421.3" y2="76.04" stroke="#333" stroke-width="0.65"/>
<line x1="399" y1="27.6" x2="375.5" y2="40.8" stroke="#222" stroke-width="0.9"/>
<line x1="373.6" y1="37.6" x2="377.2" y2="43.8" stroke="#222" stroke-width="0.9"/>
<path d="M329.3,211.8 L335.3,211.8 C337.8,211.8 340.8,209.8 341.8,203.3 M338.8,203.3 C338.3,214.60000000000002 359.5,214.60000000000002 359.0,203.3 M356.0,203.3 C355.5,214.60000000000002 377.6,214.60000000000002 377.1,203.3 M374.1,203.3 C373.6,214.60000000000002 396.8,214.60000000000002 396.3,203.3 M393.3,203.3 C392.8,214.60000000000002 414.7,214.60000000000002 414.2,203.3 M411.2,203.3 C412.2,209.8 415.2,211.8 417.7,211.8 L423,211.8" stroke="#555" fill="none" stroke-width="0.75"/>
<circle cx="340.3" cy="200.3" r="6.5" fill="#bdbdbd" stroke="#3a3a3a" stroke-width="0.7"/>
<line x1="333.86" y1="199.4" x2="346.74" y2="201.2" stroke="#333" stroke-width="0.65"/>
<line x1="341.2" y1="193.86" x2="339.4" y2="206.74" stroke="#333" stroke-width="0.65"/>
<circle cx="357.5" cy="200.3" r="6.5" fill="#bdbdbd" stroke="#3a3a3a" stroke-width="0.7"/>
<line x1="351.06" y1="199.4" x2="363.94" y2="201.2" stroke="#333" stroke-width="0.65"/>
<line x1="358.4" y1="193.86" x2="356.6" y2="206.74" stroke="#333" stroke-width="0.65"/>
<circle cx="375.6" cy="200.3" r="6.5" fill="#bdbdbd" stroke="#3a3a3a" stroke-width="0.7"/>
<line x1="369.16" y1="199.4" x2="382.04" y2="201.2" stroke="#333" stroke-width="0.65"/>
<line x1="376.5" y1="193.86" x2="374.7" y2="206.74" stroke="#333" stroke-width="0.65"/>
<path d="M318.20,156.90 C320.18,155.25 322.84,157.86 325.50,157.60 C328.16,157.34 330.32,155.39 332.70,155.50 C335.08,155.61 336.72,156.82 338.50,158.20 C340.28,159.57 341.10,160.93 342.40,163.00 C343.70,165.07 344.48,166.84 345.60,169.50 C346.72,172.16 347.05,174.84 348.50,177.50 C349.95,180.16 353.33,180.65 353.50,184.00 C353.67,187.35 351.44,192.24 349.40,195.80 C347.36,199.36 344.95,201.75 342.40,203.40 C339.85,205.05 338.54,205.42 335.50,204.80 C332.46,204.18 329.87,202.16 325.80,200.00 C321.73,197.84 316.40,195.31 313.30,193.00 C310.20,190.69 309.41,190.21 308.90,187.40 C308.39,184.59 309.44,181.51 310.50,177.70 C311.56,173.89 313.29,170.41 314.70,166.60 C316.11,162.79 316.22,158.55 318.20,156.90Z" stroke="none" fill="url(#picG)" stroke-width="0.8"/>
<path d="M318.20,156.90 C320.18,155.25 322.84,157.86 325.50,157.60 C328.16,157.34 330.32,155.39 332.70,155.50 C335.08,155.61 336.72,156.82 338.50,158.20 C340.28,159.57 341.10,160.93 342.40,163.00 C343.70,165.07 344.48,166.84 345.60,169.50 C346.72,172.16 347.05,174.84 348.50,177.50 C349.95,180.16 353.33,180.65 353.50,184.00 C353.67,187.35 351.44,192.24 349.40,195.80 C347.36,199.36 344.95,201.75 342.40,203.40 C339.85,205.05 338.54,205.42 335.50,204.80 C332.46,204.18 329.87,202.16 325.80,200.00 C321.73,197.84 316.40,195.31 313.30,193.00 C310.20,190.69 309.41,190.21 308.90,187.40 C308.39,184.59 309.44,181.51 310.50,177.70 C311.56,173.89 313.29,170.41 314.70,166.60 C316.11,162.79 316.22,158.55 318.20,156.90Z" stroke="none" fill="url(#picR)" stroke-width="0.8"/>
<path d="M318.20,156.90 C320.18,155.25 322.84,157.86 325.50,157.60 C328.16,157.34 330.32,155.39 332.70,155.50 C335.08,155.61 336.72,156.82 338.50,158.20 C340.28,159.57 341.10,160.93 342.40,163.00 C343.70,165.07 344.48,166.84 345.60,169.50 C346.72,172.16 347.05,174.84 348.50,177.50 C349.95,180.16 353.33,180.65 353.50,184.00 C353.67,187.35 351.44,192.24 349.40,195.80 C347.36,199.36 344.95,201.75 342.40,203.40 C339.85,205.05 338.54,205.42 335.50,204.80 C332.46,204.18 329.87,202.16 325.80,200.00 C321.73,197.84 316.40,195.31 313.30,193.00 C310.20,190.69 309.41,190.21 308.90,187.40 C308.39,184.59 309.44,181.51 310.50,177.70 C311.56,173.89 313.29,170.41 314.70,166.60 C316.11,162.79 316.22,158.55 318.20,156.90Z" stroke="none" fill="url(#picC)" stroke-width="0.8"/>
<path d="M318.20,156.90 C320.18,155.25 322.84,157.86 325.50,157.60 C328.16,157.34 330.32,155.39 332.70,155.50 C335.08,155.61 336.72,156.82 338.50,158.20 C340.28,159.57 341.10,160.93 342.40,163.00 C343.70,165.07 344.48,166.84 345.60,169.50 C346.72,172.16 347.05,174.84 348.50,177.50 C349.95,180.16 353.33,180.65 353.50,184.00 C353.67,187.35 351.44,192.24 349.40,195.80 C347.36,199.36 344.95,201.75 342.40,203.40 C339.85,205.05 338.54,205.42 335.50,204.80 C332.46,204.18 329.87,202.16 325.80,200.00 C321.73,197.84 316.40,195.31 313.30,193.00 C310.20,190.69 309.41,190.21 308.90,187.40 C308.39,184.59 309.44,181.51 310.50,177.70 C311.56,173.89 313.29,170.41 314.70,166.60 C316.11,162.79 316.22,158.55 318.20,156.90Z" stroke="#2a2a2a" fill="url(#picT)" stroke-width="0.8"/>
<circle cx="394.8" cy="200.3" r="6.5" fill="#bdbdbd" stroke="#3a3a3a" stroke-width="0.7"/>
<line x1="388.36" y1="199.4" x2="401.24" y2="201.2" stroke="#333" stroke-width="0.65"/>
<line x1="395.7" y1="193.86" x2="393.9" y2="206.74" stroke="#333" stroke-width="0.65"/>
<circle cx="412.7" cy="200.3" r="6.5" fill="#bdbdbd" stroke="#3a3a3a" stroke-width="0.7"/>
<line x1="406.26" y1="199.4" x2="419.14" y2="201.2" stroke="#333" stroke-width="0.65"/>
<line x1="413.6" y1="193.86" x2="411.8" y2="206.74" stroke="#333" stroke-width="0.65"/>
<path d="M361.20,169.20 C362.36,167.82 363.30,167.10 365.50,166.50 C367.70,165.90 370.58,165.81 373.20,165.90 C375.82,165.99 377.99,166.08 379.80,167.00 C381.62,167.92 382.37,168.79 383.10,170.90 C383.83,173.01 383.01,176.19 383.80,178.50 C384.59,180.81 385.73,181.79 387.40,183.50 C389.07,185.21 391.54,186.15 392.90,187.80 C394.26,189.45 394.78,190.63 394.80,192.50 C394.82,194.37 394.16,196.24 393.00,198.00 C391.84,199.76 390.72,200.85 388.50,202.10 C386.28,203.35 383.70,204.38 380.90,204.80 C378.09,205.22 375.64,204.80 373.20,204.40 C370.76,204.00 369.54,203.77 367.60,202.60 C365.66,201.43 364.07,200.22 362.60,198.00 C361.13,195.78 360.37,193.62 359.60,190.50 C358.83,187.38 358.47,184.03 358.40,181.00 C358.33,177.97 358.69,176.16 359.20,174.00 C359.71,171.84 360.04,170.57 361.20,169.20Z" stroke="#2a2a2a" fill="url(#polG)" stroke-width="0.8"/>
<line x1="385" y1="135.8" x2="403.8" y2="141.9" stroke="#222" stroke-width="0.9"/>
<line x1="404.7" y1="139.6" x2="403.2" y2="145.4" stroke="#222" stroke-width="0.9"/>
<line x1="415.5" y1="130.2" x2="408.2" y2="155.5" stroke="#111" stroke-width="1.1"/>
<path d="M404.2,155 L411.5,157 L406.1,161.8Z" stroke="none" fill="#000" stroke-width="1"/>
<path d="M389.7,185.1 C391,183 392.4,179 393.2,175 C393.9,171.5 395,168.5 396.5,167.2 C398.5,165.6 401,166.3 403,167.8 C405,169.5 406.5,171 408.5,171.1 C410.5,171.1 412,169 413.2,166.3" stroke="#222" fill="none" stroke-width="0.8"/>
<polygon points="391.80,178.30 392.32,180.39 394.40,179.80 392.85,181.30 394.40,182.80 392.32,182.21 391.80,184.30 391.28,182.21 389.20,182.80 390.75,181.30 389.20,179.80 391.28,180.39" fill="#ee2030"/>
<polygon points="394.90,167.50 395.42,169.59 397.50,169.00 395.95,170.50 397.50,172.00 395.42,171.41 394.90,173.50 394.38,171.41 392.30,172.00 393.85,170.50 392.30,169.00 394.38,169.59" fill="#ee2030"/>
<polygon points="405.00,166.00 405.52,168.09 407.60,167.50 406.05,169.00 407.60,170.50 405.52,169.91 405.00,172.00 404.48,169.91 402.40,170.50 403.95,169.00 402.40,167.50 404.48,168.09" fill="#ee2030"/>
<polygon points="413.20,163.00 413.72,165.09 415.80,164.50 414.25,166.00 415.80,167.50 413.72,166.91 413.20,169.00 412.68,166.91 410.60,167.50 412.15,166.00 410.60,164.50 412.68,165.09" fill="#ee2030"/>
<line x1="421.6" y1="185.6" x2="400.8" y2="187.4" stroke="#222" stroke-width="0.9"/>
<line x1="400.5" y1="185" x2="401" y2="190" stroke="#222" stroke-width="0.9"/>
<text x="0.5" y="344.5" font-weight="bold" fill="#000" style="stroke:#000" font-size="12.5">c</text>
<line x1="61.4" y1="355" x2="61.4" y2="434.5" stroke="#444" stroke-width="0.9"/>
<line x1="61.4" y1="432.2" x2="149.8" y2="432.2" stroke="#aaa" stroke-width="1.7"/>
<line x1="58.9" y1="415.7" x2="61.4" y2="415.7" stroke="#444" stroke-width="0.9"/>
<text x="58.1" y="419.5" text-anchor="end" font-size="10.5">20</text>
<line x1="58.9" y1="390.4" x2="61.4" y2="390.4" stroke="#444" stroke-width="0.9"/>
<text x="58.1" y="394.2" text-anchor="end" font-size="10.5">40</text>
<line x1="58.9" y1="365.1" x2="61.4" y2="365.1" stroke="#444" stroke-width="0.9"/>
<text x="58.1" y="368.90000000000003" text-anchor="end" font-size="10.5">60</text>
<line x1="105.6" y1="432.2" x2="105.6" y2="434.5" stroke="#aaa" stroke-width="0.9"/>
<line x1="149.8" y1="432.2" x2="149.8" y2="434.5" stroke="#aaa" stroke-width="0.9"/>
<line x1="105.6" y1="354" x2="105.6" y2="432.2" stroke="#333" stroke-width="0.85" stroke-dasharray="2.3,1.7"/>
<path d="M61.40,422.53 L61.95,422.46 L62.51,422.39 L63.06,422.31 L63.61,422.24 L64.16,422.16 L64.72,422.07 L65.27,421.99 L65.82,421.90 L66.37,421.80 L66.92,421.71 L67.48,421.60 L68.03,421.50 L68.58,421.39 L69.14,421.28 L69.69,421.16 L70.24,421.04 L70.79,420.91 L71.34,420.77 L71.90,420.63 L72.45,420.49 L73.00,420.34 L73.56,420.18 L74.11,420.01 L74.66,419.84 L75.21,419.66 L75.77,419.47 L76.32,419.27 L76.87,419.06 L77.42,418.84 L77.97,418.61 L78.53,418.37 L79.08,418.11 L79.63,417.84 L80.19,417.56 L80.74,417.27 L81.29,416.96 L81.84,416.63 L82.39,416.28 L82.95,415.92 L83.50,415.53 L84.05,415.12 L84.61,414.69 L85.16,414.23 L85.71,413.75 L86.26,413.24 L86.81,412.70 L87.37,412.13 L87.92,411.52 L88.47,410.87 L89.03,410.19 L89.58,409.46 L90.13,408.69 L90.68,407.88 L91.23,407.01 L91.79,406.09 L92.34,405.12 L92.89,404.09 L93.44,403.01 L94.00,401.86 L94.55,400.65 L95.10,399.38 L95.66,398.05 L96.21,396.66 L96.76,395.21 L97.31,393.71 L97.87,392.16 L98.42,390.58 L98.97,388.98 L99.52,387.37 L100.08,385.77 L100.63,384.20 L101.18,382.69 L101.73,381.26 L102.28,379.95 L102.84,378.77 L103.39,377.76 L103.94,376.94 L104.50,376.34 L105.05,375.98 L105.60,375.85 L106.15,375.98 L106.70,376.34 L107.26,376.94 L107.81,377.76 L108.36,378.77 L108.91,379.95 L109.47,381.26 L110.02,382.69 L110.57,384.20 L111.12,385.77 L111.68,387.37 L112.23,388.98 L112.78,390.58 L113.34,392.16 L113.89,393.71 L114.44,395.21 L114.99,396.66 L115.55,398.05 L116.10,399.38 L116.65,400.65 L117.20,401.86 L117.75,403.01 L118.31,404.09 L118.86,405.12 L119.41,406.09 L119.97,407.01 L120.52,407.88 L121.07,408.69 L121.62,409.46 L122.18,410.19 L122.73,410.87 L123.28,411.52 L123.83,412.13 L124.39,412.70 L124.94,413.24 L125.49,413.75 L126.04,414.23 L126.59,414.69 L127.15,415.12 L127.70,415.53 L128.25,415.92 L128.81,416.28 L129.36,416.63 L129.91,416.96 L130.46,417.27 L131.02,417.56 L131.57,417.84 L132.12,418.11 L132.67,418.37 L133.22,418.61 L133.78,418.84 L134.33,419.06 L134.88,419.27 L135.44,419.47 L135.99,419.66 L136.54,419.84 L137.09,420.01 L137.65,420.18 L138.20,420.34 L138.75,420.49 L139.30,420.63 L139.85,420.77 L140.41,420.91 L140.96,421.04 L141.51,421.16 L142.06,421.28 L142.62,421.39 L143.17,421.50 L143.72,421.60 L144.28,421.71 L144.83,421.80 L145.38,421.90 L145.93,421.99 L146.49,422.07 L147.04,422.16 L147.59,422.24 L148.14,422.31 L148.70,422.39 L149.25,422.46 L149.80,422.53" stroke="#e8333a" fill="none" stroke-width="1.0"/>
<path d="M61.40,423.92 L61.95,423.85 L62.51,423.78 L63.06,423.71 L63.61,423.63 L64.16,423.55 L64.72,423.47 L65.27,423.39 L65.82,423.30 L66.37,423.20 L66.92,423.11 L67.48,423.01 L68.03,422.90 L68.58,422.80 L69.14,422.68 L69.69,422.57 L70.24,422.44 L70.79,422.32 L71.34,422.18 L71.90,422.05 L72.45,421.90 L73.00,421.75 L73.56,421.59 L74.11,421.42 L74.66,421.25 L75.21,421.07 L75.77,420.88 L76.32,420.68 L76.87,420.47 L77.42,420.25 L77.97,420.01 L78.53,419.77 L79.08,419.51 L79.63,419.24 L80.19,418.96 L80.74,418.66 L81.29,418.34 L81.84,418.01 L82.39,417.65 L82.95,417.28 L83.50,416.88 L84.05,416.46 L84.61,416.02 L85.16,415.54 L85.71,415.04 L86.26,414.51 L86.81,413.94 L87.37,413.34 L87.92,412.70 L88.47,412.02 L89.03,411.29 L89.58,410.52 L90.13,409.69 L90.68,408.81 L91.23,407.88 L91.79,406.88 L92.34,405.81 L92.89,404.68 L93.44,403.47 L94.00,402.18 L94.55,400.82 L95.10,399.37 L95.66,397.84 L96.21,396.23 L96.76,394.53 L97.31,392.76 L97.87,390.92 L98.42,389.01 L98.97,387.05 L99.52,385.06 L100.08,383.07 L100.63,381.09 L101.18,379.16 L101.73,377.32 L102.28,375.60 L102.84,374.05 L103.39,372.71 L103.94,371.63 L104.50,370.82 L105.05,370.33 L105.60,370.16 L106.15,370.33 L106.70,370.82 L107.26,371.63 L107.81,372.71 L108.36,374.05 L108.91,375.60 L109.47,377.32 L110.02,379.16 L110.57,381.09 L111.12,383.07 L111.68,385.06 L112.23,387.05 L112.78,389.01 L113.34,390.92 L113.89,392.76 L114.44,394.53 L114.99,396.23 L115.55,397.84 L116.10,399.37 L116.65,400.82 L117.20,402.18 L117.75,403.47 L118.31,404.68 L118.86,405.81 L119.41,406.88 L119.97,407.88 L120.52,408.81 L121.07,409.69 L121.62,410.52 L122.18,411.29 L122.73,412.02 L123.28,412.70 L123.83,413.34 L124.39,413.94 L124.94,414.51 L125.49,415.04 L126.04,415.54 L126.59,416.02 L127.15,416.46 L127.70,416.88 L128.25,417.28 L128.81,417.65 L129.36,418.01 L129.91,418.34 L130.46,418.66 L131.02,418.96 L131.57,419.24 L132.12,419.51 L132.67,419.77 L133.22,420.01 L133.78,420.25 L134.33,420.47 L134.88,420.68 L135.44,420.88 L135.99,421.07 L136.54,421.25 L137.09,421.42 L137.65,421.59 L138.20,421.75 L138.75,421.90 L139.30,422.05 L139.85,422.18 L140.41,422.32 L140.96,422.44 L141.51,422.57 L142.06,422.68 L142.62,422.80 L143.17,422.90 L143.72,423.01 L144.28,423.11 L144.83,423.20 L145.38,423.30 L145.93,423.39 L146.49,423.47 L147.04,423.55 L147.59,423.63 L148.14,423.71 L148.70,423.78 L149.25,423.85 L149.80,423.92" stroke="#4b5fc0" fill="none" stroke-width="1.0"/>
<text x="62.4" y="444.8" text-anchor="middle" font-size="10.5">-1000</text>
<text x="147.20000000000002" y="444.8" text-anchor="middle" font-size="10.5">+1000</text>
<text x="106.19999999999999" y="443.3" text-anchor="middle" font-size="10.5">Peak</text>
<text x="106.19999999999999" y="454.3" text-anchor="middle" font-size="10.5">centre</text>
<text x="105.6" y="348" text-anchor="middle" font-weight="bold" fill="#000" style="stroke:#000" font-size="10.4">Cluster 1</text>
<line x1="179.0" y1="355" x2="179.0" y2="434.5" stroke="#444" stroke-width="0.9"/>
<line x1="179.0" y1="432.2" x2="267.4" y2="432.2" stroke="#aaa" stroke-width="1.7"/>
<line x1="176.5" y1="415.7" x2="179.0" y2="415.7" stroke="#444" stroke-width="0.9"/>
<line x1="176.5" y1="390.4" x2="179.0" y2="390.4" stroke="#444" stroke-width="0.9"/>
<line x1="176.5" y1="365.1" x2="179.0" y2="365.1" stroke="#444" stroke-width="0.9"/>
<line x1="223.2" y1="432.2" x2="223.2" y2="434.5" stroke="#aaa" stroke-width="0.9"/>
<line x1="267.4" y1="432.2" x2="267.4" y2="434.5" stroke="#aaa" stroke-width="0.9"/>
<line x1="223.2" y1="354" x2="223.2" y2="432.2" stroke="#333" stroke-width="0.85" stroke-dasharray="2.3,1.7"/>
<path d="M179.00,422.28 L179.55,422.22 L180.10,422.16 L180.66,422.09 L181.21,422.03 L181.76,421.96 L182.31,421.89 L182.87,421.82 L183.42,421.74 L183.97,421.66 L184.53,421.58 L185.08,421.49 L185.63,421.40 L186.18,421.31 L186.74,421.21 L187.29,421.11 L187.84,421.00 L188.39,420.89 L188.94,420.77 L189.50,420.65 L190.05,420.53 L190.60,420.39 L191.16,420.26 L191.71,420.11 L192.26,419.96 L192.81,419.80 L193.37,419.64 L193.92,419.46 L194.47,419.28 L195.02,419.09 L195.57,418.89 L196.13,418.67 L196.68,418.45 L197.23,418.22 L197.78,417.97 L198.34,417.71 L198.89,417.44 L199.44,417.15 L200.00,416.84 L200.55,416.52 L201.10,416.18 L201.65,415.82 L202.21,415.44 L202.76,415.04 L203.31,414.61 L203.86,414.16 L204.41,413.68 L204.97,413.18 L205.52,412.64 L206.07,412.07 L206.62,411.46 L207.18,410.82 L207.73,410.14 L208.28,409.42 L208.84,408.65 L209.39,407.84 L209.94,406.98 L210.49,406.07 L211.05,405.11 L211.60,404.09 L212.15,403.02 L212.70,401.89 L213.25,400.71 L213.81,399.48 L214.36,398.19 L214.91,396.86 L215.47,395.49 L216.02,394.09 L216.57,392.67 L217.12,391.24 L217.68,389.82 L218.23,388.43 L218.78,387.09 L219.33,385.83 L219.88,384.66 L220.44,383.62 L220.99,382.72 L221.54,382.00 L222.09,381.47 L222.65,381.15 L223.20,381.04 L223.75,381.15 L224.31,381.48 L224.86,382.02 L225.41,382.75 L225.96,383.65 L226.51,384.70 L227.07,385.87 L227.62,387.15 L228.17,388.49 L228.72,389.89 L229.28,391.31 L229.83,392.75 L230.38,394.17 L230.94,395.58 L231.49,396.96 L232.04,398.29 L232.59,399.58 L233.15,400.82 L233.70,402.01 L234.25,403.14 L234.80,404.22 L235.35,405.25 L235.91,406.22 L236.46,407.13 L237.01,408.00 L237.56,408.82 L238.12,409.59 L238.67,410.32 L239.22,411.01 L239.78,411.65 L240.33,412.27 L240.88,412.84 L241.43,413.39 L241.99,413.90 L242.54,414.38 L243.09,414.84 L243.64,415.27 L244.19,415.68 L244.75,416.07 L245.30,416.43 L245.85,416.78 L246.41,417.11 L246.96,417.42 L247.51,417.71 L248.06,417.99 L248.62,418.26 L249.17,418.51 L249.72,418.75 L250.27,418.98 L250.82,419.20 L251.38,419.41 L251.93,419.61 L252.48,419.80 L253.04,419.98 L253.59,420.15 L254.14,420.31 L254.69,420.47 L255.25,420.62 L255.80,420.77 L256.35,420.91 L256.90,421.04 L257.45,421.17 L258.01,421.29 L258.56,421.40 L259.11,421.52 L259.67,421.63 L260.22,421.73 L260.77,421.83 L261.32,421.93 L261.88,422.02 L262.43,422.11 L262.98,422.19 L263.53,422.28 L264.09,422.36 L264.64,422.43 L265.19,422.51 L265.74,422.58 L266.30,422.65 L266.85,422.72 L267.40,422.78" stroke="#e8333a" fill="none" stroke-width="1.0"/>
<path d="M179.00,422.66 L179.55,422.60 L180.10,422.54 L180.66,422.48 L181.21,422.41 L181.76,422.34 L182.31,422.27 L182.87,422.20 L183.42,422.12 L183.97,422.04 L184.53,421.96 L185.08,421.87 L185.63,421.78 L186.18,421.69 L186.74,421.59 L187.29,421.49 L187.84,421.38 L188.39,421.27 L188.94,421.16 L189.50,421.04 L190.05,420.91 L190.60,420.78 L191.16,420.64 L191.71,420.49 L192.26,420.34 L192.81,420.18 L193.37,420.01 L193.92,419.84 L194.47,419.65 L195.02,419.46 L195.57,419.25 L196.13,419.04 L196.68,418.81 L197.23,418.58 L197.78,418.33 L198.34,418.06 L198.89,417.78 L199.44,417.49 L200.00,417.18 L200.55,416.85 L201.10,416.50 L201.65,416.13 L202.21,415.74 L202.76,415.33 L203.31,414.89 L203.86,414.42 L204.41,413.93 L204.97,413.41 L205.52,412.85 L206.07,412.26 L206.62,411.63 L207.18,410.96 L207.73,410.24 L208.28,409.48 L208.84,408.68 L209.39,407.82 L209.94,406.91 L210.49,405.94 L211.05,404.91 L211.60,403.83 L212.15,402.67 L212.70,401.46 L213.25,400.18 L213.81,398.84 L214.36,397.43 L214.91,395.97 L215.47,394.46 L216.02,392.90 L216.57,391.32 L217.12,389.71 L217.68,388.11 L218.23,386.54 L218.78,385.01 L219.33,383.56 L219.88,382.21 L220.44,381.00 L220.99,379.97 L221.54,379.12 L222.09,378.51 L222.65,378.13 L223.20,378.00 L223.75,378.14 L224.31,378.52 L224.86,379.15 L225.41,380.00 L225.96,381.04 L226.51,382.26 L227.07,383.61 L227.62,385.07 L228.17,386.61 L228.72,388.19 L229.28,389.80 L229.83,391.41 L230.38,393.00 L230.94,394.57 L231.49,396.09 L232.04,397.56 L232.59,398.97 L233.15,400.32 L233.70,401.61 L234.25,402.83 L234.80,403.99 L235.35,405.09 L235.91,406.12 L236.46,407.10 L237.01,408.02 L237.56,408.88 L238.12,409.70 L238.67,410.46 L239.22,411.18 L239.78,411.86 L240.33,412.50 L240.88,413.10 L241.43,413.67 L241.99,414.20 L242.54,414.70 L243.09,415.17 L243.64,415.62 L244.19,416.04 L244.75,416.44 L245.30,416.82 L245.85,417.17 L246.41,417.51 L246.96,417.83 L247.51,418.13 L248.06,418.42 L248.62,418.69 L249.17,418.95 L249.72,419.19 L250.27,419.43 L250.82,419.65 L251.38,419.86 L251.93,420.06 L252.48,420.26 L253.04,420.44 L253.59,420.62 L254.14,420.78 L254.69,420.94 L255.25,421.10 L255.80,421.24 L256.35,421.38 L256.90,421.52 L257.45,421.65 L258.01,421.77 L258.56,421.89 L259.11,422.00 L259.67,422.11 L260.22,422.22 L260.77,422.32 L261.32,422.42 L261.88,422.51 L262.43,422.60 L262.98,422.69 L263.53,422.78 L264.09,422.86 L264.64,422.94 L265.19,423.01 L265.74,423.08 L266.30,423.16 L266.85,423.22 L267.40,423.29" stroke="#4b5fc0" fill="none" stroke-width="1.0"/>
<text x="180.0" y="444.8" text-anchor="middle" font-size="10.5">-1000</text>
<text x="264.79999999999995" y="444.8" text-anchor="middle" font-size="10.5">+1000</text>
<text x="223.79999999999998" y="443.3" text-anchor="middle" font-size="10.5">Peak</text>
<text x="223.79999999999998" y="454.3" text-anchor="middle" font-size="10.5">centre</text>
<text x="223.2" y="348" text-anchor="middle" font-weight="bold" fill="#000" style="stroke:#000" font-size="10.4">Cluster 2</text>
<line x1="296.4" y1="355" x2="296.4" y2="434.5" stroke="#444" stroke-width="0.9"/>
<line x1="296.4" y1="432.2" x2="384.79999999999995" y2="432.2" stroke="#aaa" stroke-width="1.7"/>
<line x1="293.9" y1="415.7" x2="296.4" y2="415.7" stroke="#444" stroke-width="0.9"/>
<line x1="293.9" y1="390.4" x2="296.4" y2="390.4" stroke="#444" stroke-width="0.9"/>
<line x1="293.9" y1="365.1" x2="296.4" y2="365.1" stroke="#444" stroke-width="0.9"/>
<line x1="340.59999999999997" y1="432.2" x2="340.59999999999997" y2="434.5" stroke="#aaa" stroke-width="0.9"/>
<line x1="384.79999999999995" y1="432.2" x2="384.79999999999995" y2="434.5" stroke="#aaa" stroke-width="0.9"/>
<line x1="340.59999999999997" y1="354" x2="340.59999999999997" y2="432.2" stroke="#333" stroke-width="0.85" stroke-dasharray="2.3,1.7"/>
<path d="M296.40,427.21 L296.95,427.20 L297.50,427.19 L298.06,427.18 L298.61,427.17 L299.16,427.16 L299.71,427.15 L300.27,427.14 L300.82,427.12 L301.37,427.11 L301.92,427.09 L302.48,427.07 L303.03,427.06 L303.58,427.04 L304.13,427.02 L304.69,427.00 L305.24,426.97 L305.79,426.95 L306.34,426.92 L306.90,426.89 L307.45,426.86 L308.00,426.83 L308.55,426.79 L309.11,426.76 L309.66,426.71 L310.21,426.67 L310.76,426.62 L311.32,426.56 L311.87,426.50 L312.42,426.44 L312.97,426.37 L313.53,426.29 L314.08,426.20 L314.63,426.10 L315.19,426.00 L315.74,425.88 L316.29,425.74 L316.84,425.60 L317.39,425.43 L317.95,425.25 L318.50,425.05 L319.05,424.83 L319.60,424.58 L320.16,424.31 L320.71,424.01 L321.26,423.68 L321.81,423.32 L322.37,422.92 L322.92,422.49 L323.47,422.02 L324.02,421.50 L324.58,420.95 L325.13,420.35 L325.68,419.70 L326.23,419.01 L326.79,418.27 L327.34,417.48 L327.89,416.64 L328.44,415.75 L329.00,414.81 L329.55,413.83 L330.10,412.80 L330.65,411.72 L331.21,410.60 L331.76,409.45 L332.31,408.26 L332.87,407.04 L333.42,405.81 L333.97,404.56 L334.52,403.31 L335.07,402.07 L335.63,400.85 L336.18,399.68 L336.73,398.57 L337.28,397.54 L337.84,396.62 L338.39,395.82 L338.94,395.18 L339.50,394.70 L340.05,394.41 L340.60,394.32 L341.15,394.43 L341.70,394.73 L342.26,395.22 L342.81,395.88 L343.36,396.69 L343.91,397.63 L344.47,398.67 L345.02,399.79 L345.57,400.98 L346.12,402.21 L346.68,403.46 L347.23,404.73 L347.78,405.99 L348.33,407.24 L348.89,408.47 L349.44,409.68 L349.99,410.85 L350.54,411.98 L351.10,413.07 L351.65,414.11 L352.20,415.11 L352.75,416.06 L353.31,416.97 L353.86,417.82 L354.41,418.63 L354.96,419.38 L355.52,420.09 L356.07,420.75 L356.62,421.36 L357.17,421.93 L357.73,422.46 L358.28,422.94 L358.83,423.39 L359.38,423.80 L359.94,424.18 L360.49,424.52 L361.04,424.84 L361.59,425.12 L362.15,425.38 L362.70,425.62 L363.25,425.83 L363.80,426.03 L364.36,426.21 L364.91,426.37 L365.46,426.52 L366.01,426.65 L366.57,426.77 L367.12,426.88 L367.67,426.99 L368.22,427.08 L368.78,427.17 L369.33,427.24 L369.88,427.32 L370.44,427.39 L370.99,427.45 L371.54,427.51 L372.09,427.57 L372.64,427.62 L373.20,427.67 L373.75,427.72 L374.30,427.76 L374.85,427.80 L375.41,427.84 L375.96,427.88 L376.51,427.92 L377.06,427.96 L377.62,427.99 L378.17,428.02 L378.72,428.06 L379.27,428.09 L379.83,428.12 L380.38,428.15 L380.93,428.17 L381.49,428.20 L382.04,428.23 L382.59,428.25 L383.14,428.28 L383.69,428.30 L384.25,428.33 L384.80,428.35" stroke="#e8333a" fill="none" stroke-width="1.0"/>
<path d="M296.40,427.21 L296.95,427.19 L297.50,427.16 L298.06,427.13 L298.61,427.10 L299.16,427.07 L299.71,427.03 L300.27,427.00 L300.82,426.96 L301.37,426.92 L301.92,426.88 L302.48,426.84 L303.03,426.80 L303.58,426.75 L304.13,426.70 L304.69,426.65 L305.24,426.59 L305.79,426.53 L306.34,426.47 L306.90,426.40 L307.45,426.33 L308.00,426.26 L308.55,426.18 L309.11,426.09 L309.66,425.99 L310.21,425.89 L310.76,425.78 L311.32,425.66 L311.87,425.53 L312.42,425.39 L312.97,425.23 L313.53,425.06 L314.08,424.86 L314.63,424.66 L315.19,424.42 L315.74,424.17 L316.29,423.88 L316.84,423.57 L317.39,423.22 L317.95,422.84 L318.50,422.41 L319.05,421.94 L319.60,421.43 L320.16,420.85 L320.71,420.22 L321.26,419.53 L321.81,418.77 L322.37,417.94 L322.92,417.03 L323.47,416.04 L324.02,414.97 L324.58,413.81 L325.13,412.56 L325.68,411.21 L326.23,409.76 L326.79,408.21 L327.34,406.56 L327.89,404.81 L328.44,402.96 L329.00,401.00 L329.55,398.95 L330.10,396.80 L330.65,394.55 L331.21,392.22 L331.76,389.82 L332.31,387.34 L332.87,384.81 L333.42,382.23 L333.97,379.63 L334.52,377.02 L335.07,374.44 L335.63,371.91 L336.18,369.46 L336.73,367.15 L337.28,365.00 L337.84,363.07 L338.39,361.42 L338.94,360.07 L339.50,359.08 L340.05,358.47 L340.60,358.27 L341.15,358.48 L341.70,359.10 L342.26,360.11 L342.81,361.47 L343.36,363.15 L343.91,365.09 L344.47,367.25 L345.02,369.58 L345.57,372.04 L346.12,374.58 L346.68,377.18 L347.23,379.80 L347.78,382.42 L348.33,385.01 L348.89,387.55 L349.44,390.05 L349.99,392.47 L350.54,394.81 L351.10,397.07 L351.65,399.23 L352.20,401.30 L352.75,403.27 L353.31,405.14 L353.86,406.91 L354.41,408.57 L354.96,410.13 L355.52,411.59 L356.07,412.96 L356.62,414.22 L357.17,415.40 L357.73,416.49 L358.28,417.49 L358.83,418.41 L359.38,419.25 L359.94,420.03 L360.49,420.74 L361.04,421.38 L361.59,421.97 L362.15,422.50 L362.70,422.98 L363.25,423.42 L363.80,423.82 L364.36,424.18 L364.91,424.51 L365.46,424.81 L366.01,425.08 L366.57,425.32 L367.12,425.55 L367.67,425.75 L368.22,425.94 L368.78,426.11 L369.33,426.27 L369.88,426.41 L370.44,426.55 L370.99,426.67 L371.54,426.79 L372.09,426.90 L372.64,427.00 L373.20,427.10 L373.75,427.19 L374.30,427.27 L374.85,427.35 L375.41,427.43 L375.96,427.50 L376.51,427.57 L377.06,427.64 L377.62,427.70 L378.17,427.76 L378.72,427.82 L379.27,427.88 L379.83,427.93 L380.38,427.99 L380.93,428.04 L381.49,428.09 L382.04,428.13 L382.59,428.18 L383.14,428.22 L383.69,428.27 L384.25,428.31 L384.80,428.35" stroke="#4b5fc0" fill="none" stroke-width="1.0"/>
<text x="297.4" y="444.8" text-anchor="middle" font-size="10.5">-1000</text>
<text x="382.19999999999993" y="444.8" text-anchor="middle" font-size="10.5">+1000</text>
<text x="341.2" y="443.3" text-anchor="middle" font-size="10.5">Peak</text>
<text x="341.2" y="454.3" text-anchor="middle" font-size="10.5">centre</text>
<text x="340.59999999999997" y="348" text-anchor="middle" font-weight="bold" fill="#000" style="stroke:#000" font-size="10.4">Cluster 3</text>
<line x1="416.2" y1="355" x2="416.2" y2="434.5" stroke="#444" stroke-width="0.9"/>
<line x1="416.2" y1="432.2" x2="504.6" y2="432.2" stroke="#aaa" stroke-width="1.7"/>
<line x1="413.7" y1="415.7" x2="416.2" y2="415.7" stroke="#444" stroke-width="0.9"/>
<line x1="413.7" y1="390.4" x2="416.2" y2="390.4" stroke="#444" stroke-width="0.9"/>
<line x1="413.7" y1="365.1" x2="416.2" y2="365.1" stroke="#444" stroke-width="0.9"/>
<line x1="460.4" y1="432.2" x2="460.4" y2="434.5" stroke="#aaa" stroke-width="0.9"/>
<line x1="504.6" y1="432.2" x2="504.6" y2="434.5" stroke="#aaa" stroke-width="0.9"/>
<line x1="460.4" y1="354" x2="460.4" y2="432.2" stroke="#333" stroke-width="0.85" stroke-dasharray="2.3,1.7"/>
<path d="M416.20,421.39 L416.75,421.35 L417.31,421.30 L417.86,421.26 L418.41,421.21 L418.96,421.16 L419.51,421.11 L420.07,421.05 L420.62,420.99 L421.17,420.94 L421.72,420.87 L422.28,420.81 L422.83,420.74 L423.38,420.68 L423.94,420.60 L424.49,420.53 L425.04,420.45 L425.59,420.37 L426.14,420.29 L426.70,420.20 L427.25,420.11 L427.80,420.01 L428.36,419.91 L428.91,419.80 L429.46,419.69 L430.01,419.58 L430.56,419.46 L431.12,419.33 L431.67,419.20 L432.22,419.06 L432.77,418.92 L433.33,418.76 L433.88,418.60 L434.43,418.43 L434.99,418.26 L435.54,418.07 L436.09,417.87 L436.64,417.66 L437.19,417.45 L437.75,417.22 L438.30,416.97 L438.85,416.72 L439.40,416.45 L439.96,416.16 L440.51,415.86 L441.06,415.54 L441.62,415.20 L442.17,414.84 L442.72,414.46 L443.27,414.06 L443.82,413.64 L444.38,413.19 L444.93,412.71 L445.48,412.21 L446.03,411.68 L446.59,411.11 L447.14,410.52 L447.69,409.89 L448.25,409.23 L448.80,408.54 L449.35,407.81 L449.90,407.04 L450.45,406.25 L451.01,405.42 L451.56,404.56 L452.11,403.67 L452.66,402.76 L453.22,401.84 L453.77,400.90 L454.32,399.97 L454.88,399.05 L455.43,398.15 L455.98,397.29 L456.53,396.48 L457.08,395.73 L457.64,395.07 L458.19,394.50 L458.74,394.04 L459.29,393.71 L459.85,393.50 L460.40,393.44 L460.95,393.51 L461.50,393.71 L462.06,394.05 L462.61,394.51 L463.16,395.08 L463.71,395.75 L464.27,396.50 L464.82,397.31 L465.37,398.18 L465.93,399.08 L466.48,400.01 L467.03,400.94 L467.58,401.88 L468.13,402.81 L468.69,403.72 L469.24,404.61 L469.79,405.47 L470.35,406.30 L470.90,407.10 L471.45,407.87 L472.00,408.60 L472.56,409.30 L473.11,409.97 L473.66,410.60 L474.21,411.19 L474.76,411.76 L475.32,412.29 L475.87,412.80 L476.42,413.28 L476.98,413.73 L477.53,414.16 L478.08,414.56 L478.63,414.95 L479.19,415.31 L479.74,415.65 L480.29,415.97 L480.84,416.28 L481.39,416.57 L481.95,416.84 L482.50,417.10 L483.05,417.35 L483.61,417.58 L484.16,417.80 L484.71,418.01 L485.26,418.21 L485.81,418.40 L486.37,418.58 L486.92,418.75 L487.47,418.92 L488.02,419.07 L488.58,419.22 L489.13,419.36 L489.68,419.50 L490.24,419.63 L490.79,419.75 L491.34,419.87 L491.89,419.98 L492.44,420.09 L493.00,420.20 L493.55,420.30 L494.10,420.39 L494.65,420.48 L495.21,420.57 L495.76,420.65 L496.31,420.74 L496.87,420.81 L497.42,420.89 L497.97,420.96 L498.52,421.03 L499.07,421.10 L499.63,421.16 L500.18,421.22 L500.73,421.28 L501.28,421.34 L501.84,421.39 L502.39,421.45 L502.94,421.50 L503.50,421.55 L504.05,421.60 L504.60,421.65" stroke="#e8333a" fill="none" stroke-width="1.0"/>
<path d="M416.20,421.39 L416.75,421.34 L417.31,421.29 L417.86,421.24 L418.41,421.18 L418.96,421.12 L419.51,421.06 L420.07,421.00 L420.62,420.93 L421.17,420.87 L421.72,420.80 L422.28,420.72 L422.83,420.65 L423.38,420.57 L423.94,420.49 L424.49,420.40 L425.04,420.32 L425.59,420.22 L426.14,420.13 L426.70,420.03 L427.25,419.93 L427.80,419.82 L428.36,419.70 L428.91,419.59 L429.46,419.46 L430.01,419.33 L430.56,419.20 L431.12,419.06 L431.67,418.91 L432.22,418.75 L432.77,418.59 L433.33,418.42 L433.88,418.24 L434.43,418.06 L434.99,417.86 L435.54,417.65 L436.09,417.43 L436.64,417.21 L437.19,416.96 L437.75,416.71 L438.30,416.44 L438.85,416.16 L439.40,415.87 L439.96,415.55 L440.51,415.22 L441.06,414.88 L441.62,414.51 L442.17,414.12 L442.72,413.71 L443.27,413.28 L443.82,412.82 L444.38,412.34 L444.93,411.83 L445.48,411.29 L446.03,410.72 L446.59,410.12 L447.14,409.49 L447.69,408.83 L448.25,408.13 L448.80,407.41 L449.35,406.64 L449.90,405.85 L450.45,405.02 L451.01,404.16 L451.56,403.28 L452.11,402.37 L452.66,401.45 L453.22,400.51 L453.77,399.57 L454.32,398.63 L454.88,397.70 L455.43,396.81 L455.98,395.95 L456.53,395.15 L457.08,394.42 L457.64,393.77 L458.19,393.21 L458.74,392.76 L459.29,392.44 L459.85,392.24 L460.40,392.17 L460.95,392.24 L461.50,392.44 L462.06,392.76 L462.61,393.21 L463.16,393.77 L463.71,394.42 L464.27,395.15 L464.82,395.95 L465.37,396.81 L465.93,397.70 L466.48,398.63 L467.03,399.57 L467.58,400.51 L468.13,401.45 L468.69,402.37 L469.24,403.28 L469.79,404.16 L470.35,405.02 L470.90,405.85 L471.45,406.64 L472.00,407.41 L472.56,408.13 L473.11,408.83 L473.66,409.49 L474.21,410.12 L474.76,410.72 L475.32,411.29 L475.87,411.83 L476.42,412.34 L476.98,412.82 L477.53,413.28 L478.08,413.71 L478.63,414.12 L479.19,414.51 L479.74,414.88 L480.29,415.22 L480.84,415.55 L481.39,415.87 L481.95,416.16 L482.50,416.44 L483.05,416.71 L483.61,416.96 L484.16,417.21 L484.71,417.43 L485.26,417.65 L485.81,417.86 L486.37,418.06 L486.92,418.24 L487.47,418.42 L488.02,418.59 L488.58,418.75 L489.13,418.91 L489.68,419.06 L490.24,419.20 L490.79,419.33 L491.34,419.46 L491.89,419.59 L492.44,419.70 L493.00,419.82 L493.55,419.93 L494.10,420.03 L494.65,420.13 L495.21,420.22 L495.76,420.32 L496.31,420.40 L496.87,420.49 L497.42,420.57 L497.97,420.65 L498.52,420.72 L499.07,420.80 L499.63,420.87 L500.18,420.93 L500.73,421.00 L501.28,421.06 L501.84,421.12 L502.39,421.18 L502.94,421.24 L503.50,421.29 L504.05,421.34 L504.60,421.39" stroke="#4b5fc0" fill="none" stroke-width="1.0"/>
<text x="417.2" y="444.8" text-anchor="middle" font-size="10.5">-1000</text>
<text x="502.0" y="444.8" text-anchor="middle" font-size="10.5">+1000</text>
<text x="461.0" y="443.3" text-anchor="middle" font-size="10.5">Peak</text>
<text x="461.0" y="454.3" text-anchor="middle" font-size="10.5">centre</text>
<text x="460.4" y="348" text-anchor="middle" font-weight="bold" fill="#000" style="stroke:#000" font-size="10.4">Cluster 4</text>
<text x="494.6" y="363" fill="#4b5fc0" style="stroke:#4b5fc0" font-size="10.5">Mock</text>
<text x="495" y="373" fill="#e8333a" style="stroke:#e8333a" font-size="10.5">Trp</text>
<text x="0" y="0" text-anchor="middle" font-size="10.5" transform="translate(29.8,397.5) rotate(-90)">Normalised ZIC2</text>
<text x="0" y="0" text-anchor="middle" font-size="10.5" transform="translate(39.8,397.5) rotate(-90)">enrichment (CPB)</text>
<text x="0.5" y="484.5" font-weight="bold" fill="#000" style="stroke:#000" font-size="12.5">d</text>
<line x1="60.5" y1="480.4" x2="60.5" y2="560.6999999999999" stroke="#333" stroke-width="0.9"/>
<line x1="60.5" y1="558.4" x2="148.9" y2="558.4" stroke="#333" stroke-width="0.9"/>
<line x1="58.0" y1="539.1" x2="60.5" y2="539.1" stroke="#333" stroke-width="0.9"/>
<text x="57.2" y="542.9" text-anchor="end" font-size="10.5">20</text>
<line x1="58.0" y1="513.7" x2="60.5" y2="513.7" stroke="#333" stroke-width="0.9"/>
<text x="57.2" y="517.5" text-anchor="end" font-size="10.5">40</text>
<line x1="58.0" y1="488.3" x2="60.5" y2="488.3" stroke="#333" stroke-width="0.9"/>
<text x="57.2" y="492.1" text-anchor="end" font-size="10.5">60</text>
<line x1="104.7" y1="558.4" x2="104.7" y2="560.6999999999999" stroke="#333" stroke-width="0.9"/>
<line x1="148.9" y1="558.4" x2="148.9" y2="560.6999999999999" stroke="#333" stroke-width="0.9"/>
<line x1="104.7" y1="479.4" x2="104.7" y2="558.4" stroke="#666" stroke-width="0.85" stroke-dasharray="2.3,1.7"/>
<path d="M60.50,551.29 L61.05,551.22 L61.61,551.14 L62.16,551.06 L62.71,550.97 L63.26,550.89 L63.81,550.80 L64.37,550.71 L64.92,550.61 L65.47,550.51 L66.03,550.41 L66.58,550.30 L67.13,550.19 L67.68,550.07 L68.23,549.95 L68.79,549.83 L69.34,549.70 L69.89,549.56 L70.44,549.42 L71.00,549.27 L71.55,549.12 L72.10,548.96 L72.66,548.79 L73.21,548.62 L73.76,548.44 L74.31,548.25 L74.86,548.05 L75.42,547.84 L75.97,547.62 L76.52,547.39 L77.08,547.15 L77.63,546.90 L78.18,546.64 L78.73,546.36 L79.28,546.07 L79.84,545.76 L80.39,545.44 L80.94,545.10 L81.50,544.74 L82.05,544.36 L82.60,543.96 L83.15,543.54 L83.70,543.09 L84.26,542.62 L84.81,542.12 L85.36,541.60 L85.91,541.04 L86.47,540.45 L87.02,539.82 L87.57,539.15 L88.12,538.45 L88.68,537.70 L89.23,536.91 L89.78,536.07 L90.34,535.18 L90.89,534.24 L91.44,533.24 L91.99,532.18 L92.55,531.06 L93.10,529.88 L93.65,528.64 L94.20,527.33 L94.75,525.97 L95.31,524.54 L95.86,523.05 L96.41,521.51 L96.97,519.92 L97.52,518.30 L98.07,516.65 L98.62,515.00 L99.18,513.36 L99.73,511.75 L100.28,510.20 L100.83,508.73 L101.39,507.38 L101.94,506.17 L102.49,505.13 L103.04,504.29 L103.59,503.67 L104.15,503.29 L104.70,503.16 L105.25,503.28 L105.81,503.65 L106.36,504.27 L106.91,505.10 L107.46,506.13 L108.02,507.33 L108.57,508.68 L109.12,510.13 L109.67,511.68 L110.22,513.28 L110.78,514.91 L111.33,516.56 L111.88,518.20 L112.44,519.81 L112.99,521.39 L113.54,522.92 L114.09,524.40 L114.65,525.82 L115.20,527.18 L115.75,528.48 L116.30,529.72 L116.85,530.89 L117.41,532.00 L117.96,533.05 L118.51,534.04 L119.06,534.97 L119.62,535.86 L120.17,536.69 L120.72,537.47 L121.28,538.21 L121.83,538.91 L122.38,539.57 L122.93,540.18 L123.49,540.77 L124.04,541.32 L124.59,541.84 L125.14,542.33 L125.70,542.79 L126.25,543.23 L126.80,543.64 L127.35,544.03 L127.91,544.41 L128.46,544.76 L129.01,545.09 L129.56,545.40 L130.12,545.70 L130.67,545.99 L131.22,546.26 L131.77,546.51 L132.32,546.76 L132.88,546.99 L133.43,547.21 L133.98,547.42 L134.54,547.62 L135.09,547.81 L135.64,547.99 L136.19,548.17 L136.75,548.33 L137.30,548.49 L137.85,548.64 L138.40,548.79 L138.95,548.93 L139.51,549.06 L140.06,549.19 L140.61,549.31 L141.17,549.43 L141.72,549.54 L142.27,549.65 L142.82,549.75 L143.38,549.85 L143.93,549.95 L144.48,550.04 L145.03,550.13 L145.59,550.21 L146.14,550.29 L146.69,550.37 L147.24,550.45 L147.80,550.52 L148.35,550.59 L148.90,550.66" stroke="#b8589a" fill="none" stroke-width="1.0"/>
<path d="M60.50,551.55 L61.05,551.47 L61.61,551.40 L62.16,551.32 L62.71,551.24 L63.26,551.16 L63.81,551.07 L64.37,550.98 L64.92,550.89 L65.47,550.79 L66.03,550.69 L66.58,550.59 L67.13,550.48 L67.68,550.37 L68.23,550.25 L68.79,550.13 L69.34,550.01 L69.89,549.88 L70.44,549.74 L71.00,549.60 L71.55,549.45 L72.10,549.30 L72.66,549.14 L73.21,548.97 L73.76,548.79 L74.31,548.61 L74.86,548.42 L75.42,548.22 L75.97,548.01 L76.52,547.79 L77.08,547.56 L77.63,547.31 L78.18,547.06 L78.73,546.79 L79.28,546.51 L79.84,546.22 L80.39,545.90 L80.94,545.58 L81.50,545.23 L82.05,544.87 L82.60,544.48 L83.15,544.08 L83.70,543.65 L84.26,543.19 L84.81,542.71 L85.36,542.20 L85.91,541.67 L86.47,541.10 L87.02,540.49 L87.57,539.85 L88.12,539.17 L88.68,538.45 L89.23,537.69 L89.78,536.88 L90.34,536.03 L90.89,535.12 L91.44,534.15 L91.99,533.14 L92.55,532.06 L93.10,530.92 L93.65,529.73 L94.20,528.47 L94.75,527.15 L95.31,525.78 L95.86,524.34 L96.41,522.86 L96.97,521.33 L97.52,519.77 L98.07,518.19 L98.62,516.59 L99.18,515.01 L99.73,513.46 L100.28,511.97 L100.83,510.56 L101.39,509.25 L101.94,508.09 L102.49,507.09 L103.04,506.28 L103.59,505.68 L104.15,505.32 L104.70,505.19 L105.25,505.31 L105.81,505.67 L106.36,506.26 L106.91,507.06 L107.46,508.05 L108.02,509.21 L108.57,510.50 L109.12,511.91 L109.67,513.39 L110.22,514.93 L110.78,516.51 L111.33,518.09 L111.88,519.67 L112.44,521.22 L112.99,522.74 L113.54,524.22 L114.09,525.64 L114.65,527.01 L115.20,528.32 L115.75,529.57 L116.30,530.76 L116.85,531.89 L117.41,532.95 L117.96,533.96 L118.51,534.92 L119.06,535.82 L119.62,536.67 L120.17,537.47 L120.72,538.22 L121.28,538.94 L121.83,539.61 L122.38,540.24 L122.93,540.83 L123.49,541.40 L124.04,541.93 L124.59,542.43 L125.14,542.90 L125.70,543.34 L126.25,543.77 L126.80,544.16 L127.35,544.54 L127.91,544.90 L128.46,545.24 L129.01,545.56 L129.56,545.86 L130.12,546.15 L130.67,546.42 L131.22,546.68 L131.77,546.93 L132.32,547.16 L132.88,547.38 L133.43,547.60 L133.98,547.80 L134.54,547.99 L135.09,548.17 L135.64,548.35 L136.19,548.52 L136.75,548.68 L137.30,548.83 L137.85,548.98 L138.40,549.12 L138.95,549.25 L139.51,549.38 L140.06,549.50 L140.61,549.62 L141.17,549.73 L141.72,549.84 L142.27,549.94 L142.82,550.04 L143.38,550.14 L143.93,550.23 L144.48,550.32 L145.03,550.40 L145.59,550.48 L146.14,550.56 L146.69,550.64 L147.24,550.71 L147.80,550.78 L148.35,550.85 L148.90,550.91" stroke="#4b5fc0" fill="none" stroke-width="1.0"/>
<path d="M60.50,549.51 L61.05,549.41 L61.61,549.31 L62.16,549.20 L62.71,549.09 L63.26,548.97 L63.81,548.85 L64.37,548.73 L64.92,548.60 L65.47,548.47 L66.03,548.33 L66.58,548.19 L67.13,548.04 L67.68,547.88 L68.23,547.72 L68.79,547.56 L69.34,547.39 L69.89,547.21 L70.44,547.02 L71.00,546.83 L71.55,546.63 L72.10,546.42 L72.66,546.20 L73.21,545.97 L73.76,545.73 L74.31,545.48 L74.86,545.22 L75.42,544.95 L75.97,544.67 L76.52,544.37 L77.08,544.06 L77.63,543.74 L78.18,543.40 L78.73,543.04 L79.28,542.67 L79.84,542.28 L80.39,541.87 L80.94,541.43 L81.50,540.98 L82.05,540.50 L82.60,540.00 L83.15,539.48 L83.70,538.92 L84.26,538.34 L84.81,537.72 L85.36,537.07 L85.91,536.39 L86.47,535.67 L87.02,534.92 L87.57,534.12 L88.12,533.28 L88.68,532.39 L89.23,531.46 L89.78,530.48 L90.34,529.45 L90.89,528.36 L91.44,527.22 L91.99,526.03 L92.55,524.78 L93.10,523.48 L93.65,522.12 L94.20,520.71 L94.75,519.24 L95.31,517.73 L95.86,516.18 L96.41,514.59 L96.97,512.98 L97.52,511.36 L98.07,509.73 L98.62,508.12 L99.18,506.54 L99.73,505.02 L100.28,503.56 L100.83,502.21 L101.39,500.97 L101.94,499.87 L102.49,498.94 L103.04,498.19 L103.59,497.64 L104.15,497.31 L104.70,497.19 L105.25,497.30 L105.81,497.62 L106.36,498.16 L106.91,498.90 L107.46,499.82 L108.02,500.90 L108.57,502.13 L109.12,503.47 L109.67,504.92 L110.22,506.43 L110.78,508.00 L111.33,509.60 L111.88,511.21 L112.44,512.83 L112.99,514.43 L113.54,516.00 L114.09,517.54 L114.65,519.04 L115.20,520.49 L115.75,521.90 L116.30,523.24 L116.85,524.54 L117.41,525.77 L117.96,526.96 L118.51,528.08 L119.06,529.16 L119.62,530.18 L120.17,531.15 L120.72,532.07 L121.28,532.94 L121.83,533.77 L122.38,534.56 L122.93,535.31 L123.49,536.01 L124.04,536.69 L124.59,537.32 L125.14,537.93 L125.70,538.50 L126.25,539.04 L126.80,539.56 L127.35,540.05 L127.91,540.51 L128.46,540.96 L129.01,541.38 L129.56,541.78 L130.12,542.16 L130.67,542.52 L131.22,542.87 L131.77,543.19 L132.32,543.51 L132.88,543.81 L133.43,544.09 L133.98,544.36 L134.54,544.62 L135.09,544.87 L135.64,545.11 L136.19,545.34 L136.75,545.55 L137.30,545.76 L137.85,545.96 L138.40,546.15 L138.95,546.33 L139.51,546.51 L140.06,546.68 L140.61,546.84 L141.17,546.99 L141.72,547.14 L142.27,547.28 L142.82,547.42 L143.38,547.55 L143.93,547.68 L144.48,547.80 L145.03,547.92 L145.59,548.03 L146.14,548.14 L146.69,548.24 L147.24,548.34 L147.80,548.44 L148.35,548.53 L148.90,548.62" stroke="#f08a3c" fill="none" stroke-width="1.0"/>
<text x="61.5" y="571.5" text-anchor="middle" font-size="10.5">-1000</text>
<text x="146.3" y="571.5" text-anchor="middle" font-size="10.5">+1000</text>
<text x="105.3" y="569.9" text-anchor="middle" font-size="10.5">Peak</text>
<text x="105.3" y="580.9" text-anchor="middle" font-size="10.5">centre</text>
<text x="104.7" y="473" text-anchor="middle" font-weight="bold" fill="#000" style="stroke:#000" font-size="10.4">Cluster 1</text>
<line x1="178.6" y1="480.4" x2="178.6" y2="560.6999999999999" stroke="#333" stroke-width="0.9"/>
<line x1="178.6" y1="558.4" x2="267.0" y2="558.4" stroke="#333" stroke-width="0.9"/>
<line x1="176.1" y1="539.1" x2="178.6" y2="539.1" stroke="#333" stroke-width="0.9"/>
<line x1="176.1" y1="513.7" x2="178.6" y2="513.7" stroke="#333" stroke-width="0.9"/>
<line x1="176.1" y1="488.3" x2="178.6" y2="488.3" stroke="#333" stroke-width="0.9"/>
<line x1="222.8" y1="558.4" x2="222.8" y2="560.6999999999999" stroke="#333" stroke-width="0.9"/>
<line x1="267.0" y1="558.4" x2="267.0" y2="560.6999999999999" stroke="#333" stroke-width="0.9"/>
<line x1="222.8" y1="479.4" x2="222.8" y2="558.4" stroke="#666" stroke-width="0.85" stroke-dasharray="2.3,1.7"/>
<path d="M178.60,548.75 L179.15,548.70 L179.70,548.64 L180.26,548.58 L180.81,548.52 L181.36,548.46 L181.91,548.40 L182.47,548.33 L183.02,548.26 L183.57,548.18 L184.12,548.10 L184.68,548.02 L185.23,547.94 L185.78,547.85 L186.34,547.76 L186.89,547.66 L187.44,547.56 L187.99,547.45 L188.54,547.34 L189.10,547.23 L189.65,547.11 L190.20,546.98 L190.75,546.85 L191.31,546.71 L191.86,546.56 L192.41,546.41 L192.97,546.25 L193.52,546.08 L194.07,545.90 L194.62,545.71 L195.18,545.52 L195.73,545.31 L196.28,545.09 L196.83,544.86 L197.38,544.62 L197.94,544.37 L198.49,544.10 L199.04,543.81 L199.59,543.51 L200.15,543.20 L200.70,542.86 L201.25,542.51 L201.81,542.13 L202.36,541.73 L202.91,541.31 L203.46,540.87 L204.01,540.39 L204.57,539.89 L205.12,539.36 L205.67,538.79 L206.22,538.19 L206.78,537.55 L207.33,536.88 L207.88,536.16 L208.44,535.39 L208.99,534.59 L209.54,533.73 L210.09,532.82 L210.64,531.86 L211.20,530.85 L211.75,529.78 L212.30,528.66 L212.85,527.48 L213.41,526.25 L213.96,524.96 L214.51,523.64 L215.06,522.27 L215.62,520.87 L216.17,519.45 L216.72,518.03 L217.28,516.61 L217.83,515.22 L218.38,513.88 L218.93,512.62 L219.49,511.45 L220.04,510.41 L220.59,509.52 L221.14,508.80 L221.69,508.28 L222.25,507.96 L222.80,507.86 L223.35,507.98 L223.91,508.31 L224.46,508.86 L225.01,509.59 L225.56,510.50 L226.12,511.56 L226.67,512.74 L227.22,514.02 L227.77,515.38 L228.32,516.78 L228.88,518.22 L229.43,519.66 L229.98,521.10 L230.53,522.51 L231.09,523.90 L231.64,525.24 L232.19,526.54 L232.75,527.79 L233.30,528.99 L233.85,530.13 L234.40,531.21 L234.95,532.25 L235.51,533.22 L236.06,534.15 L236.61,535.02 L237.16,535.85 L237.72,536.63 L238.27,537.36 L238.82,538.06 L239.38,538.71 L239.93,539.33 L240.48,539.92 L241.03,540.47 L241.59,540.99 L242.14,541.48 L242.69,541.94 L243.24,542.38 L243.80,542.80 L244.35,543.19 L244.90,543.56 L245.45,543.91 L246.00,544.25 L246.56,544.57 L247.11,544.87 L247.66,545.15 L248.22,545.43 L248.77,545.69 L249.32,545.93 L249.87,546.17 L250.43,546.39 L250.98,546.61 L251.53,546.81 L252.08,547.00 L252.63,547.19 L253.19,547.37 L253.74,547.54 L254.29,547.70 L254.84,547.86 L255.40,548.01 L255.95,548.15 L256.50,548.29 L257.06,548.43 L257.61,548.55 L258.16,548.68 L258.71,548.80 L259.26,548.91 L259.82,549.02 L260.37,549.13 L260.92,549.23 L261.48,549.33 L262.03,549.42 L262.58,549.51 L263.13,549.60 L263.69,549.69 L264.24,549.77 L264.79,549.85 L265.34,549.93 L265.89,550.00 L266.45,550.08 L267.00,550.15" stroke="#4b5fc0" fill="none" stroke-width="1.0"/>
<path d="M178.60,548.75 L179.15,548.69 L179.70,548.62 L180.26,548.55 L180.81,548.48 L181.36,548.40 L181.91,548.32 L182.47,548.24 L183.02,548.16 L183.57,548.07 L184.12,547.98 L184.68,547.88 L185.23,547.78 L185.78,547.68 L186.34,547.57 L186.89,547.46 L187.44,547.34 L187.99,547.22 L188.54,547.09 L189.10,546.95 L189.65,546.81 L190.20,546.67 L190.75,546.51 L191.31,546.35 L191.86,546.18 L192.41,546.01 L192.97,545.82 L193.52,545.63 L194.07,545.43 L194.62,545.22 L195.18,544.99 L195.73,544.76 L196.28,544.51 L196.83,544.25 L197.38,543.98 L197.94,543.69 L198.49,543.39 L199.04,543.08 L199.59,542.74 L200.15,542.39 L200.70,542.02 L201.25,541.62 L201.81,541.21 L202.36,540.77 L202.91,540.31 L203.46,539.83 L204.01,539.31 L204.57,538.77 L205.12,538.19 L205.67,537.59 L206.22,536.94 L206.78,536.26 L207.33,535.55 L207.88,534.79 L208.44,533.99 L208.99,533.15 L209.54,532.27 L210.09,531.33 L210.64,530.35 L211.20,529.33 L211.75,528.25 L212.30,527.13 L212.85,525.96 L213.41,524.75 L213.96,523.51 L214.51,522.23 L215.06,520.92 L215.62,519.59 L216.17,518.26 L216.72,516.94 L217.28,515.64 L217.83,514.37 L218.38,513.17 L218.93,512.04 L219.49,511.00 L220.04,510.08 L220.59,509.30 L221.14,508.68 L221.69,508.22 L222.25,507.95 L222.80,507.86 L223.35,507.96 L223.91,508.25 L224.46,508.72 L225.01,509.36 L225.56,510.16 L226.12,511.09 L226.67,512.14 L227.22,513.28 L227.77,514.50 L228.32,515.78 L228.88,517.10 L229.43,518.44 L229.98,519.78 L230.53,521.12 L231.09,522.44 L231.64,523.73 L232.19,525.00 L232.75,526.22 L233.30,527.40 L233.85,528.54 L234.40,529.63 L234.95,530.67 L235.51,531.66 L236.06,532.61 L236.61,533.51 L237.16,534.37 L237.72,535.18 L238.27,535.95 L238.82,536.68 L239.38,537.37 L239.93,538.03 L240.48,538.65 L241.03,539.24 L241.59,539.80 L242.14,540.33 L242.69,540.83 L243.24,541.30 L243.80,541.75 L244.35,542.18 L244.90,542.59 L245.45,542.97 L246.00,543.34 L246.56,543.69 L247.11,544.02 L247.66,544.34 L248.22,544.64 L248.77,544.92 L249.32,545.20 L249.87,545.46 L250.43,545.71 L250.98,545.94 L251.53,546.17 L252.08,546.39 L252.63,546.60 L253.19,546.79 L253.74,546.98 L254.29,547.17 L254.84,547.34 L255.40,547.51 L255.95,547.67 L256.50,547.83 L257.06,547.97 L257.61,548.12 L258.16,548.25 L258.71,548.39 L259.26,548.51 L259.82,548.64 L260.37,548.75 L260.92,548.87 L261.48,548.98 L262.03,549.08 L262.58,549.19 L263.13,549.29 L263.69,549.38 L264.24,549.47 L264.79,549.56 L265.34,549.65 L265.89,549.73 L266.45,549.82 L267.00,549.89" stroke="#f08a3c" fill="none" stroke-width="1.0"/>
<path d="M178.60,549.26 L179.15,549.21 L179.70,549.16 L180.26,549.10 L180.81,549.05 L181.36,548.99 L181.91,548.92 L182.47,548.86 L183.02,548.79 L183.57,548.72 L184.12,548.65 L184.68,548.57 L185.23,548.49 L185.78,548.41 L186.34,548.32 L186.89,548.23 L187.44,548.14 L187.99,548.04 L188.54,547.93 L189.10,547.82 L189.65,547.71 L190.20,547.59 L190.75,547.47 L191.31,547.33 L191.86,547.20 L192.41,547.05 L192.97,546.90 L193.52,546.74 L194.07,546.57 L194.62,546.39 L195.18,546.21 L195.73,546.01 L196.28,545.80 L196.83,545.59 L197.38,545.36 L197.94,545.11 L198.49,544.86 L199.04,544.58 L199.59,544.30 L200.15,543.99 L200.70,543.67 L201.25,543.33 L201.81,542.97 L202.36,542.59 L202.91,542.19 L203.46,541.75 L204.01,541.30 L204.57,540.81 L205.12,540.29 L205.67,539.74 L206.22,539.16 L206.78,538.54 L207.33,537.88 L207.88,537.17 L208.44,536.42 L208.99,535.62 L209.54,534.78 L210.09,533.88 L210.64,532.92 L211.20,531.91 L211.75,530.84 L212.30,529.70 L212.85,528.51 L213.41,527.26 L213.96,525.95 L214.51,524.59 L215.06,523.18 L215.62,521.73 L216.17,520.25 L216.72,518.76 L217.28,517.27 L217.83,515.80 L218.38,514.37 L218.93,513.02 L219.49,511.77 L220.04,510.64 L220.59,509.68 L221.14,508.89 L221.69,508.32 L222.25,507.97 L222.80,507.86 L223.35,507.99 L223.91,508.35 L224.46,508.94 L225.01,509.74 L225.56,510.72 L226.12,511.86 L226.67,513.13 L227.22,514.50 L227.77,515.94 L228.32,517.42 L228.88,518.93 L229.43,520.44 L229.98,521.94 L230.53,523.40 L231.09,524.83 L231.64,526.21 L232.19,527.53 L232.75,528.80 L233.30,530.01 L233.85,531.15 L234.40,532.24 L234.95,533.27 L235.51,534.24 L236.06,535.16 L236.61,536.02 L237.16,536.83 L237.72,537.60 L238.27,538.32 L238.82,539.00 L239.38,539.64 L239.93,540.24 L240.48,540.80 L241.03,541.33 L241.59,541.84 L242.14,542.31 L242.69,542.76 L243.24,543.18 L243.80,543.58 L244.35,543.95 L244.90,544.31 L245.45,544.65 L246.00,544.96 L246.56,545.27 L247.11,545.55 L247.66,545.83 L248.22,546.09 L248.77,546.33 L249.32,546.57 L249.87,546.79 L250.43,547.00 L250.98,547.20 L251.53,547.40 L252.08,547.58 L252.63,547.76 L253.19,547.92 L253.74,548.08 L254.29,548.24 L254.84,548.39 L255.40,548.53 L255.95,548.66 L256.50,548.79 L257.06,548.92 L257.61,549.04 L258.16,549.15 L258.71,549.26 L259.26,549.37 L259.82,549.47 L260.37,549.57 L260.92,549.67 L261.48,549.76 L262.03,549.85 L262.58,549.94 L263.13,550.02 L263.69,550.10 L264.24,550.18 L264.79,550.25 L265.34,550.33 L265.89,550.40 L266.45,550.46 L267.00,550.53" stroke="#b8589a" fill="none" stroke-width="1.0"/>
<text x="179.6" y="571.5" text-anchor="middle" font-size="10.5">-1000</text>
<text x="264.4" y="571.5" text-anchor="middle" font-size="10.5">+1000</text>
<text x="223.4" y="569.9" text-anchor="middle" font-size="10.5">Peak</text>
<text x="223.4" y="580.9" text-anchor="middle" font-size="10.5">centre</text>
<text x="222.8" y="473" text-anchor="middle" font-weight="bold" fill="#000" style="stroke:#000" font-size="10.4">Cluster 2</text>
<line x1="295.6" y1="480.4" x2="295.6" y2="560.6999999999999" stroke="#333" stroke-width="0.9"/>
<line x1="295.6" y1="558.4" x2="384.0" y2="558.4" stroke="#333" stroke-width="0.9"/>
<line x1="293.1" y1="539.1" x2="295.6" y2="539.1" stroke="#333" stroke-width="0.9"/>
<line x1="293.1" y1="513.7" x2="295.6" y2="513.7" stroke="#333" stroke-width="0.9"/>
<line x1="293.1" y1="488.3" x2="295.6" y2="488.3" stroke="#333" stroke-width="0.9"/>
<line x1="339.8" y1="558.4" x2="339.8" y2="560.6999999999999" stroke="#333" stroke-width="0.9"/>
<line x1="384.0" y1="558.4" x2="384.0" y2="560.6999999999999" stroke="#333" stroke-width="0.9"/>
<line x1="339.8" y1="479.4" x2="339.8" y2="558.4" stroke="#666" stroke-width="0.85" stroke-dasharray="2.3,1.7"/>
<path d="M295.60,553.07 L296.15,553.05 L296.71,553.03 L297.26,553.01 L297.81,552.99 L298.36,552.97 L298.92,552.95 L299.47,552.93 L300.02,552.90 L300.57,552.87 L301.12,552.85 L301.68,552.82 L302.23,552.79 L302.78,552.75 L303.34,552.72 L303.89,552.68 L304.44,552.64 L304.99,552.60 L305.55,552.55 L306.10,552.51 L306.65,552.45 L307.20,552.40 L307.75,552.34 L308.31,552.28 L308.86,552.21 L309.41,552.13 L309.97,552.05 L310.52,551.96 L311.07,551.87 L311.62,551.76 L312.18,551.64 L312.73,551.51 L313.28,551.37 L313.83,551.22 L314.39,551.04 L314.94,550.85 L315.49,550.64 L316.04,550.40 L316.60,550.14 L317.15,549.85 L317.70,549.53 L318.25,549.18 L318.81,548.79 L319.36,548.36 L319.91,547.88 L320.46,547.36 L321.02,546.79 L321.57,546.16 L322.12,545.47 L322.67,544.73 L323.23,543.92 L323.78,543.04 L324.33,542.09 L324.88,541.07 L325.44,539.98 L325.99,538.81 L326.54,537.56 L327.09,536.23 L327.65,534.83 L328.20,533.35 L328.75,531.79 L329.30,530.16 L329.86,528.47 L330.41,526.70 L330.96,524.88 L331.51,523.00 L332.07,521.09 L332.62,519.14 L333.17,517.16 L333.72,515.19 L334.28,513.24 L334.83,511.32 L335.38,509.47 L335.93,507.71 L336.49,506.09 L337.04,504.63 L337.59,503.38 L338.14,502.36 L338.70,501.61 L339.25,501.15 L339.80,501.00 L340.35,501.16 L340.91,501.64 L341.46,502.40 L342.01,503.44 L342.56,504.71 L343.12,506.18 L343.67,507.82 L344.22,509.59 L344.77,511.46 L345.33,513.39 L345.88,515.37 L346.43,517.36 L346.98,519.34 L347.54,521.31 L348.09,523.24 L348.64,525.13 L349.19,526.97 L349.75,528.75 L350.30,530.47 L350.85,532.11 L351.40,533.68 L351.96,535.18 L352.51,536.60 L353.06,537.94 L353.61,539.20 L354.17,540.39 L354.72,541.50 L355.27,542.54 L355.82,543.50 L356.38,544.39 L356.93,545.22 L357.48,545.98 L358.03,546.68 L358.59,547.33 L359.14,547.92 L359.69,548.45 L360.24,548.95 L360.80,549.39 L361.35,549.80 L361.90,550.17 L362.45,550.51 L363.00,550.81 L363.56,551.09 L364.11,551.34 L364.66,551.57 L365.22,551.77 L365.77,551.96 L366.32,552.13 L366.87,552.29 L367.43,552.44 L367.98,552.57 L368.53,552.69 L369.08,552.80 L369.64,552.91 L370.19,553.01 L370.74,553.10 L371.29,553.18 L371.85,553.26 L372.40,553.34 L372.95,553.41 L373.50,553.47 L374.06,553.54 L374.61,553.60 L375.16,553.66 L375.71,553.71 L376.27,553.77 L376.82,553.82 L377.37,553.87 L377.92,553.91 L378.48,553.96 L379.03,554.00 L379.58,554.04 L380.13,554.09 L380.69,554.13 L381.24,554.16 L381.79,554.20 L382.34,554.24 L382.90,554.27 L383.45,554.31 L384.00,554.34" stroke="#4b5fc0" fill="none" stroke-width="1.0"/>
<path d="M295.60,553.07 L296.15,553.05 L296.71,553.04 L297.26,553.02 L297.81,553.00 L298.36,552.98 L298.92,552.96 L299.47,552.94 L300.02,552.92 L300.57,552.90 L301.12,552.87 L301.68,552.84 L302.23,552.82 L302.78,552.79 L303.34,552.75 L303.89,552.72 L304.44,552.69 L304.99,552.65 L305.55,552.61 L306.10,552.56 L306.65,552.52 L307.20,552.47 L307.75,552.41 L308.31,552.35 L308.86,552.29 L309.41,552.22 L309.97,552.15 L310.52,552.07 L311.07,551.98 L311.62,551.88 L312.18,551.77 L312.73,551.66 L313.28,551.53 L313.83,551.38 L314.39,551.23 L314.94,551.05 L315.49,550.85 L316.04,550.64 L316.60,550.40 L317.15,550.13 L317.70,549.84 L318.25,549.52 L318.81,549.16 L319.36,548.76 L319.91,548.32 L320.46,547.84 L321.02,547.32 L321.57,546.74 L322.12,546.11 L322.67,545.42 L323.23,544.68 L323.78,543.87 L324.33,543.00 L324.88,542.06 L325.44,541.05 L325.99,539.97 L326.54,538.83 L327.09,537.61 L327.65,536.32 L328.20,534.95 L328.75,533.52 L329.30,532.02 L329.86,530.46 L330.41,528.84 L330.96,527.16 L331.51,525.44 L332.07,523.67 L332.62,521.88 L333.17,520.06 L333.72,518.25 L334.28,516.45 L334.83,514.68 L335.38,512.98 L335.93,511.37 L336.49,509.87 L337.04,508.53 L337.59,507.38 L338.14,506.44 L338.70,505.75 L339.25,505.33 L339.80,505.19 L340.35,505.34 L340.91,505.78 L341.46,506.49 L342.01,507.44 L342.56,508.61 L343.12,509.97 L343.67,511.48 L344.22,513.11 L344.77,514.83 L345.33,516.61 L345.88,518.42 L346.43,520.25 L346.98,522.08 L347.54,523.89 L348.09,525.67 L348.64,527.42 L349.19,529.11 L349.75,530.75 L350.30,532.33 L350.85,533.84 L351.40,535.29 L351.96,536.66 L352.51,537.97 L353.06,539.21 L353.61,540.37 L354.17,541.46 L354.72,542.49 L355.27,543.44 L355.82,544.33 L356.38,545.15 L356.93,545.91 L357.48,546.62 L358.03,547.26 L358.59,547.86 L359.14,548.40 L359.69,548.89 L360.24,549.35 L360.80,549.76 L361.35,550.13 L361.90,550.48 L362.45,550.79 L363.00,551.07 L363.56,551.32 L364.11,551.55 L364.66,551.76 L365.22,551.96 L365.77,552.13 L366.32,552.29 L366.87,552.43 L367.43,552.57 L367.98,552.69 L368.53,552.80 L369.08,552.91 L369.64,553.01 L370.19,553.10 L370.74,553.18 L371.29,553.26 L371.85,553.33 L372.40,553.40 L372.95,553.47 L373.50,553.53 L374.06,553.59 L374.61,553.65 L375.16,553.70 L375.71,553.75 L376.27,553.80 L376.82,553.85 L377.37,553.90 L377.92,553.94 L378.48,553.98 L379.03,554.02 L379.58,554.06 L380.13,554.10 L380.69,554.14 L381.24,554.17 L381.79,554.21 L382.34,554.24 L382.90,554.28 L383.45,554.31 L384.00,554.34" stroke="#f08a3c" fill="none" stroke-width="1.0"/>
<path d="M295.60,553.58 L296.15,553.55 L296.71,553.53 L297.26,553.50 L297.81,553.47 L298.36,553.44 L298.92,553.41 L299.47,553.37 L300.02,553.34 L300.57,553.30 L301.12,553.26 L301.68,553.22 L302.23,553.18 L302.78,553.14 L303.34,553.09 L303.89,553.04 L304.44,552.99 L304.99,552.94 L305.55,552.88 L306.10,552.82 L306.65,552.76 L307.20,552.69 L307.75,552.62 L308.31,552.54 L308.86,552.46 L309.41,552.37 L309.97,552.27 L310.52,552.17 L311.07,552.06 L311.62,551.94 L312.18,551.80 L312.73,551.66 L313.28,551.50 L313.83,551.32 L314.39,551.13 L314.94,550.91 L315.49,550.68 L316.04,550.41 L316.60,550.12 L317.15,549.79 L317.70,549.43 L318.25,549.03 L318.81,548.58 L319.36,548.08 L319.91,547.53 L320.46,546.92 L321.02,546.24 L321.57,545.50 L322.12,544.68 L322.67,543.77 L323.23,542.79 L323.78,541.71 L324.33,540.53 L324.88,539.26 L325.44,537.88 L325.99,536.39 L326.54,534.79 L327.09,533.08 L327.65,531.26 L328.20,529.33 L328.75,527.28 L329.30,525.12 L329.86,522.86 L330.41,520.49 L330.96,518.03 L331.51,515.49 L332.07,512.87 L332.62,510.19 L333.17,507.47 L333.72,504.73 L334.28,502.00 L334.83,499.31 L335.38,496.69 L335.93,494.20 L336.49,491.88 L337.04,489.78 L337.59,487.96 L338.14,486.48 L338.70,485.39 L339.25,484.71 L339.80,484.49 L340.35,484.72 L340.91,485.41 L341.46,486.51 L342.01,488.00 L342.56,489.83 L343.12,491.93 L343.67,494.27 L344.22,496.77 L344.77,499.39 L345.33,502.10 L345.88,504.84 L346.43,507.59 L346.98,510.31 L347.54,513.00 L348.09,515.63 L348.64,518.18 L349.19,520.65 L349.75,523.03 L350.30,525.30 L350.85,527.47 L351.40,529.53 L351.96,531.47 L352.51,533.30 L353.06,535.02 L353.61,536.63 L354.17,538.12 L354.72,539.51 L355.27,540.80 L355.82,541.98 L356.38,543.07 L356.93,544.07 L357.48,544.98 L358.03,545.81 L358.59,546.57 L359.14,547.25 L359.69,547.87 L360.24,548.44 L360.80,548.94 L361.35,549.40 L361.90,549.81 L362.45,550.18 L363.00,550.52 L363.56,550.82 L364.11,551.10 L364.66,551.34 L365.22,551.57 L365.77,551.77 L366.32,551.96 L366.87,552.13 L367.43,552.28 L367.98,552.42 L368.53,552.55 L369.08,552.68 L369.64,552.79 L370.19,552.89 L370.74,552.99 L371.29,553.08 L371.85,553.17 L372.40,553.25 L372.95,553.33 L373.50,553.40 L374.06,553.47 L374.61,553.54 L375.16,553.60 L375.71,553.66 L376.27,553.72 L376.82,553.78 L377.37,553.83 L377.92,553.88 L378.48,553.93 L379.03,553.98 L379.58,554.02 L380.13,554.07 L380.69,554.11 L381.24,554.15 L381.79,554.19 L382.34,554.23 L382.90,554.27 L383.45,554.30 L384.00,554.34" stroke="#b8589a" fill="none" stroke-width="1.0"/>
<text x="296.6" y="571.5" text-anchor="middle" font-size="10.5">-1000</text>
<text x="381.4" y="571.5" text-anchor="middle" font-size="10.5">+1000</text>
<text x="340.40000000000003" y="569.9" text-anchor="middle" font-size="10.5">Peak</text>
<text x="340.40000000000003" y="580.9" text-anchor="middle" font-size="10.5">centre</text>
<text x="339.8" y="473" text-anchor="middle" font-weight="bold" fill="#000" style="stroke:#000" font-size="10.4">Cluster 3</text>
<line x1="415.4" y1="480.4" x2="415.4" y2="560.6999999999999" stroke="#333" stroke-width="0.9"/>
<line x1="415.4" y1="558.4" x2="503.79999999999995" y2="558.4" stroke="#333" stroke-width="0.9"/>
<line x1="412.9" y1="539.1" x2="415.4" y2="539.1" stroke="#333" stroke-width="0.9"/>
<line x1="412.9" y1="513.7" x2="415.4" y2="513.7" stroke="#333" stroke-width="0.9"/>
<line x1="412.9" y1="488.3" x2="415.4" y2="488.3" stroke="#333" stroke-width="0.9"/>
<line x1="459.59999999999997" y1="558.4" x2="459.59999999999997" y2="560.6999999999999" stroke="#333" stroke-width="0.9"/>
<line x1="503.79999999999995" y1="558.4" x2="503.79999999999995" y2="560.6999999999999" stroke="#333" stroke-width="0.9"/>
<line x1="459.59999999999997" y1="479.4" x2="459.59999999999997" y2="558.4" stroke="#666" stroke-width="0.85" stroke-dasharray="2.3,1.7"/>
<path d="M415.40,545.45 L415.95,545.40 L416.50,545.36 L417.06,545.31 L417.61,545.26 L418.16,545.21 L418.71,545.15 L419.27,545.09 L419.82,545.03 L420.37,544.97 L420.92,544.91 L421.48,544.84 L422.03,544.77 L422.58,544.70 L423.13,544.62 L423.69,544.54 L424.24,544.46 L424.79,544.37 L425.34,544.28 L425.90,544.18 L426.45,544.09 L427.00,543.98 L427.55,543.87 L428.11,543.76 L428.66,543.64 L429.21,543.51 L429.76,543.38 L430.32,543.25 L430.87,543.10 L431.42,542.95 L431.97,542.79 L432.53,542.63 L433.08,542.45 L433.63,542.27 L434.19,542.07 L434.74,541.87 L435.29,541.65 L435.84,541.43 L436.39,541.19 L436.95,540.94 L437.50,540.67 L438.05,540.39 L438.60,540.10 L439.16,539.79 L439.71,539.46 L440.26,539.11 L440.81,538.74 L441.37,538.35 L441.92,537.94 L442.47,537.51 L443.02,537.05 L443.58,536.56 L444.13,536.05 L444.68,535.51 L445.23,534.94 L445.79,534.34 L446.34,533.70 L446.89,533.04 L447.44,532.34 L448.00,531.60 L448.55,530.83 L449.10,530.03 L449.65,529.19 L450.21,528.33 L450.76,527.43 L451.31,526.52 L451.87,525.58 L452.42,524.64 L452.97,523.68 L453.52,522.74 L454.07,521.80 L454.63,520.90 L455.18,520.04 L455.73,519.23 L456.28,518.49 L456.84,517.83 L457.39,517.27 L457.94,516.82 L458.50,516.50 L459.05,516.30 L459.60,516.24 L460.15,516.31 L460.70,516.52 L461.26,516.86 L461.81,517.32 L462.36,517.89 L462.91,518.56 L463.47,519.31 L464.02,520.14 L464.57,521.01 L465.12,521.93 L465.68,522.88 L466.23,523.84 L466.78,524.80 L467.33,525.76 L467.89,526.71 L468.44,527.64 L468.99,528.54 L469.54,529.42 L470.10,530.27 L470.65,531.08 L471.20,531.87 L471.75,532.61 L472.31,533.33 L472.86,534.01 L473.41,534.65 L473.96,535.27 L474.52,535.85 L475.07,536.41 L475.62,536.93 L476.17,537.43 L476.73,537.90 L477.28,538.35 L477.83,538.77 L478.38,539.17 L478.94,539.55 L479.49,539.91 L480.04,540.26 L480.59,540.58 L481.15,540.89 L481.70,541.18 L482.25,541.46 L482.80,541.72 L483.36,541.97 L483.91,542.21 L484.46,542.44 L485.01,542.66 L485.57,542.86 L486.12,543.06 L486.67,543.25 L487.22,543.43 L487.78,543.60 L488.33,543.76 L488.88,543.92 L489.44,544.07 L489.99,544.21 L490.54,544.35 L491.09,544.48 L491.64,544.61 L492.20,544.73 L492.75,544.85 L493.30,544.96 L493.85,545.07 L494.41,545.17 L494.96,545.27 L495.51,545.37 L496.06,545.46 L496.62,545.55 L497.17,545.63 L497.72,545.72 L498.27,545.80 L498.83,545.87 L499.38,545.95 L499.93,546.02 L500.49,546.09 L501.04,546.16 L501.59,546.22 L502.14,546.29 L502.69,546.35 L503.25,546.41 L503.80,546.47" stroke="#4b5fc0" fill="none" stroke-width="1.0"/>
<path d="M415.40,546.72 L415.95,546.67 L416.50,546.62 L417.06,546.57 L417.61,546.52 L418.16,546.47 L418.71,546.41 L419.27,546.35 L419.82,546.29 L420.37,546.23 L420.92,546.16 L421.48,546.10 L422.03,546.02 L422.58,545.95 L423.13,545.87 L423.69,545.79 L424.24,545.71 L424.79,545.62 L425.34,545.53 L425.90,545.44 L426.45,545.34 L427.00,545.23 L427.55,545.12 L428.11,545.01 L428.66,544.89 L429.21,544.77 L429.76,544.64 L430.32,544.50 L430.87,544.36 L431.42,544.21 L431.97,544.05 L432.53,543.89 L433.08,543.71 L433.63,543.53 L434.19,543.34 L434.74,543.14 L435.29,542.93 L435.84,542.71 L436.39,542.47 L436.95,542.23 L437.50,541.97 L438.05,541.69 L438.60,541.40 L439.16,541.10 L439.71,540.77 L440.26,540.43 L440.81,540.07 L441.37,539.69 L441.92,539.29 L442.47,538.87 L443.02,538.42 L443.58,537.95 L444.13,537.45 L444.68,536.92 L445.23,536.36 L445.79,535.78 L446.34,535.16 L446.89,534.51 L447.44,533.82 L448.00,533.11 L448.55,532.36 L449.10,531.58 L449.65,530.76 L450.21,529.92 L450.76,529.05 L451.31,528.16 L451.87,527.25 L452.42,526.33 L452.97,525.40 L453.52,524.48 L454.07,523.57 L454.63,522.69 L455.18,521.85 L455.73,521.06 L456.28,520.34 L456.84,519.70 L457.39,519.16 L457.94,518.72 L458.50,518.40 L459.05,518.21 L459.60,518.14 L460.15,518.21 L460.70,518.41 L461.26,518.74 L461.81,519.18 L462.36,519.73 L462.91,520.38 L463.47,521.11 L464.02,521.90 L464.57,522.75 L465.12,523.64 L465.68,524.55 L466.23,525.48 L466.78,526.41 L467.33,527.34 L467.89,528.26 L468.44,529.15 L468.99,530.03 L469.54,530.88 L470.10,531.70 L470.65,532.49 L471.20,533.24 L471.75,533.96 L472.31,534.65 L472.86,535.31 L473.41,535.93 L473.96,536.53 L474.52,537.09 L475.07,537.62 L475.62,538.13 L476.17,538.61 L476.73,539.07 L477.28,539.50 L477.83,539.90 L478.38,540.29 L478.94,540.66 L479.49,541.00 L480.04,541.33 L480.59,541.64 L481.15,541.94 L481.70,542.22 L482.25,542.49 L482.80,542.74 L483.36,542.98 L483.91,543.21 L484.46,543.43 L485.01,543.63 L485.57,543.83 L486.12,544.02 L486.67,544.20 L487.22,544.37 L487.78,544.53 L488.33,544.69 L488.88,544.84 L489.44,544.98 L489.99,545.12 L490.54,545.25 L491.09,545.37 L491.64,545.49 L492.20,545.61 L492.75,545.72 L493.30,545.82 L493.85,545.92 L494.41,546.02 L494.96,546.12 L495.51,546.21 L496.06,546.29 L496.62,546.38 L497.17,546.46 L497.72,546.53 L498.27,546.61 L498.83,546.68 L499.38,546.75 L499.93,546.82 L500.49,546.88 L501.04,546.94 L501.59,547.01 L502.14,547.06 L502.69,547.12 L503.25,547.18 L503.80,547.23" stroke="#f08a3c" fill="none" stroke-width="1.0"/>
<path d="M415.40,546.09 L415.95,546.04 L416.50,545.99 L417.06,545.94 L417.61,545.89 L418.16,545.83 L418.71,545.78 L419.27,545.72 L419.82,545.66 L420.37,545.59 L420.92,545.53 L421.48,545.46 L422.03,545.38 L422.58,545.31 L423.13,545.23 L423.69,545.15 L424.24,545.07 L424.79,544.98 L425.34,544.89 L425.90,544.79 L426.45,544.69 L427.00,544.58 L427.55,544.47 L428.11,544.36 L428.66,544.24 L429.21,544.11 L429.76,543.98 L430.32,543.84 L430.87,543.70 L431.42,543.55 L431.97,543.39 L432.53,543.22 L433.08,543.04 L433.63,542.86 L434.19,542.66 L434.74,542.46 L435.29,542.25 L435.84,542.02 L436.39,541.78 L436.95,541.53 L437.50,541.27 L438.05,540.99 L438.60,540.69 L439.16,540.38 L439.71,540.05 L440.26,539.71 L440.81,539.34 L441.37,538.95 L441.92,538.55 L442.47,538.11 L443.02,537.66 L443.58,537.18 L444.13,536.67 L444.68,536.13 L445.23,535.56 L445.79,534.96 L446.34,534.33 L446.89,533.67 L447.44,532.98 L448.00,532.25 L448.55,531.48 L449.10,530.69 L449.65,529.86 L450.21,529.00 L450.76,528.11 L451.31,527.21 L451.87,526.28 L452.42,525.34 L452.97,524.39 L453.52,523.45 L454.07,522.53 L454.63,521.63 L455.18,520.78 L455.73,519.97 L456.28,519.24 L456.84,518.59 L457.39,518.03 L457.94,517.59 L458.50,517.26 L459.05,517.07 L459.60,517.00 L460.15,517.07 L460.70,517.28 L461.26,517.61 L461.81,518.06 L462.36,518.63 L462.91,519.29 L463.47,520.03 L464.02,520.84 L464.57,521.70 L465.12,522.61 L465.68,523.54 L466.23,524.49 L466.78,525.44 L467.33,526.39 L467.89,527.32 L468.44,528.24 L468.99,529.13 L469.54,530.00 L470.10,530.84 L470.65,531.64 L471.20,532.41 L471.75,533.15 L472.31,533.85 L472.86,534.52 L473.41,535.16 L473.96,535.77 L474.52,536.34 L475.07,536.89 L475.62,537.41 L476.17,537.90 L476.73,538.36 L477.28,538.80 L477.83,539.22 L478.38,539.61 L478.94,539.98 L479.49,540.34 L480.04,540.67 L480.59,540.99 L481.15,541.30 L481.70,541.58 L482.25,541.86 L482.80,542.11 L483.36,542.36 L483.91,542.59 L484.46,542.82 L485.01,543.03 L485.57,543.23 L486.12,543.42 L486.67,543.61 L487.22,543.78 L487.78,543.95 L488.33,544.11 L488.88,544.26 L489.44,544.41 L489.99,544.55 L490.54,544.68 L491.09,544.81 L491.64,544.93 L492.20,545.05 L492.75,545.16 L493.30,545.27 L493.85,545.38 L494.41,545.48 L494.96,545.57 L495.51,545.67 L496.06,545.76 L496.62,545.84 L497.17,545.92 L497.72,546.00 L498.27,546.08 L498.83,546.16 L499.38,546.23 L499.93,546.30 L500.49,546.36 L501.04,546.43 L501.59,546.49 L502.14,546.55 L502.69,546.61 L503.25,546.67 L503.80,546.72" stroke="#b8589a" fill="none" stroke-width="1.0"/>
<text x="416.4" y="571.5" text-anchor="middle" font-size="10.5">-1000</text>
<text x="501.19999999999993" y="571.5" text-anchor="middle" font-size="10.5">+1000</text>
<text x="460.2" y="569.9" text-anchor="middle" font-size="10.5">Peak</text>
<text x="460.2" y="580.9" text-anchor="middle" font-size="10.5">centre</text>
<text x="459.59999999999997" y="473" text-anchor="middle" font-weight="bold" fill="#000" style="stroke:#000" font-size="10.4">Cluster 4</text>
<text x="493" y="487" fill="#4b5fc0" style="stroke:#4b5fc0" font-size="10.5">Mock</text>
<text x="493" y="497.6" fill="#f08a3c" style="stroke:#f08a3c" font-size="10.5">FLV</text>
<text x="493" y="508.4" fill="#b8589a" style="stroke:#b8589a" font-size="10.5">STM2457</text>
<text x="0" y="0" text-anchor="middle" font-size="10.5" transform="translate(28.8,521.5) rotate(-90)">Normalised ZIC2</text>
<text x="0" y="0" text-anchor="middle" font-size="10.5" transform="translate(38.8,521.5) rotate(-90)">enrichment (CPB)</text>
<text x="563.5" y="414.5" font-weight="bold" fill="#000" style="stroke:#000" font-size="12.5">e</text>
<line x1="622.5" y1="412.6" x2="622.5" y2="489.7" stroke="#333" stroke-width="1.0"/>
<line x1="618.1" y1="489.7" x2="680" y2="489.7" stroke="#666" stroke-width="1.3"/>
<line x1="622.7" y1="441.3" x2="685" y2="441.3" stroke="#b0b0b0" stroke-width="0.8"/>
<line x1="618.1" y1="413.20000000000005" x2="622.5" y2="413.20000000000005" stroke="#333" stroke-width="0.9"/>
<text x="613.1" y="417.40000000000003" text-anchor="end" font-size="10.3">2<tspan font-size="6" dy="-4.2">4</tspan></text>
<line x1="618.1" y1="428.40000000000003" x2="622.5" y2="428.40000000000003" stroke="#333" stroke-width="0.9"/>
<text x="613.1" y="432.6" text-anchor="end" font-size="10.3">2<tspan font-size="6" dy="-4.2">2</tspan></text>
<line x1="618.1" y1="443.6" x2="622.5" y2="443.6" stroke="#333" stroke-width="0.9"/>
<text x="613.1" y="447.8" text-anchor="end" font-size="10.3">2<tspan font-size="6" dy="-4.2">0</tspan></text>
<line x1="618.1" y1="458.8" x2="622.5" y2="458.8" stroke="#333" stroke-width="0.9"/>
<text x="613.1" y="463.0" text-anchor="end" font-size="10.3">2<tspan font-size="6" dy="-4.2">-2</tspan></text>
<line x1="618.1" y1="474.0" x2="622.5" y2="474.0" stroke="#333" stroke-width="0.9"/>
<text x="613.1" y="478.2" text-anchor="end" font-size="10.3">2<tspan font-size="6" dy="-4.2">-4</tspan></text>
<line x1="618.1" y1="489.20000000000005" x2="622.5" y2="489.20000000000005" stroke="#333" stroke-width="0.9"/>
<text x="613.1" y="493.40000000000003" text-anchor="end" font-size="10.3">2<tspan font-size="6" dy="-4.2">-6</tspan></text>
<line x1="632.5" y1="437.5" x2="632.5" y2="444.4" stroke="#222" stroke-width="0.95"/>
<line x1="632.5" y1="454.6" x2="632.5" y2="486.0" stroke="#222" stroke-width="0.95"/>
<line x1="628.25" y1="437.5" x2="636.75" y2="437.5" stroke="#222" stroke-width="0.95"/>
<line x1="628.25" y1="486.0" x2="636.75" y2="486.0" stroke="#222" stroke-width="0.95"/>
<rect x="624.4" y="444.4" width="16.10" height="10.20" fill="#e0282e" stroke="#222" stroke-width="1.1"/>
<line x1="624.4" y1="449.3" x2="640.5" y2="449.3" stroke="#111" stroke-width="1.5"/>
<line x1="632.5" y1="489.7" x2="632.5" y2="493.7" stroke="#555" stroke-width="0.9"/>
<line x1="651.5" y1="435.4" x2="651.5" y2="441.4" stroke="#222" stroke-width="0.95"/>
<line x1="651.5" y1="447.5" x2="651.5" y2="465.3" stroke="#222" stroke-width="0.95"/>
<line x1="647.0" y1="435.4" x2="656.0" y2="435.4" stroke="#222" stroke-width="0.95"/>
<line x1="647.0" y1="465.3" x2="656.0" y2="465.3" stroke="#222" stroke-width="0.95"/>
<rect x="643.1" y="441.4" width="16.50" height="6.10" fill="#f47f22" stroke="#222" stroke-width="1.1"/>
<line x1="643.1" y1="444.4" x2="659.6" y2="444.4" stroke="#111" stroke-width="1.5"/>
<line x1="651.5" y1="489.7" x2="651.5" y2="493.7" stroke="#555" stroke-width="0.9"/>
<line x1="669.5" y1="433.4" x2="669.5" y2="438.3" stroke="#222" stroke-width="0.95"/>
<line x1="669.5" y1="443.7" x2="669.5" y2="460.5" stroke="#222" stroke-width="0.95"/>
<line x1="665.1" y1="433.4" x2="673.9" y2="433.4" stroke="#222" stroke-width="0.95"/>
<line x1="665.1" y1="460.5" x2="673.9" y2="460.5" stroke="#222" stroke-width="0.95"/>
<rect x="661.5" y="438.3" width="16.30" height="5.40" fill="#c8609a" stroke="#222" stroke-width="1.1"/>
<line x1="661.5" y1="441.0" x2="677.8" y2="441.0" stroke="#111" stroke-width="1.5"/>
<line x1="669.5" y1="489.7" x2="669.5" y2="493.7" stroke="#555" stroke-width="0.9"/>
<text x="0" y="0" text-anchor="middle" font-size="10.8" textLength="73.3" lengthAdjust="spacingAndGlyphs" transform="translate(583.9,452.5) rotate(-90)">ZIC2 enrichment</text>
<text x="0" y="0" text-anchor="middle" font-size="10.8" textLength="92.5" lengthAdjust="spacingAndGlyphs" transform="translate(594.9,452.3) rotate(-90)">log<tspan font-size="6.8" dy="2.4">2</tspan><tspan dy="-2.4">ratio (inh./DMSO)</tspan></text>
<text x="0" y="0" text-anchor="end" font-size="10.3" transform="translate(634.8,496.6) rotate(-90)">Trp</text>
<text x="0" y="0" text-anchor="end" font-size="10.3" transform="translate(653.7,496.6) rotate(-90)">FLV</text>
<text x="0" y="0" text-anchor="end" font-size="10.3" transform="translate(672.3,496.6) rotate(-90)">STM2457</text>
<text x="1.5" y="606" font-weight="bold" fill="#000" style="stroke:#000" font-size="12.5">f</text>
<line x1="84.5" y1="621.0" x2="84.5" y2="698.1" stroke="#333" stroke-width="1.0"/>
<line x1="80.1" y1="698.1" x2="122.1" y2="698.1" stroke="#666" stroke-width="1.3"/>
<line x1="84.1" y1="650.2" x2="127.5" y2="650.2" stroke="#b0b0b0" stroke-width="0.8"/>
<line x1="80.1" y1="622.02" x2="84.5" y2="622.02" stroke="#333" stroke-width="0.9"/>
<text x="75.1" y="626.22" text-anchor="end" font-size="10.3">2<tspan font-size="6" dy="-4.2">4</tspan></text>
<line x1="80.1" y1="637.16" x2="84.5" y2="637.16" stroke="#333" stroke-width="0.9"/>
<text x="75.1" y="641.36" text-anchor="end" font-size="10.3">2<tspan font-size="6" dy="-4.2">2</tspan></text>
<line x1="80.1" y1="652.3" x2="84.5" y2="652.3" stroke="#333" stroke-width="0.9"/>
<text x="75.1" y="656.5" text-anchor="end" font-size="10.3">2<tspan font-size="6" dy="-4.2">0</tspan></text>
<line x1="80.1" y1="667.4399999999999" x2="84.5" y2="667.4399999999999" stroke="#333" stroke-width="0.9"/>
<text x="75.1" y="671.64" text-anchor="end" font-size="10.3">2<tspan font-size="6" dy="-4.2">-2</tspan></text>
<line x1="80.1" y1="682.5799999999999" x2="84.5" y2="682.5799999999999" stroke="#333" stroke-width="0.9"/>
<text x="75.1" y="686.78" text-anchor="end" font-size="10.3">2<tspan font-size="6" dy="-4.2">-4</tspan></text>
<line x1="80.1" y1="697.7199999999999" x2="84.5" y2="697.7199999999999" stroke="#333" stroke-width="0.9"/>
<text x="75.1" y="701.92" text-anchor="end" font-size="10.3">2<tspan font-size="6" dy="-4.2">-6</tspan></text>
<line x1="93.5" y1="639.9" x2="93.5" y2="646.9" stroke="#222" stroke-width="0.95"/>
<line x1="93.5" y1="655.6" x2="93.5" y2="686.4" stroke="#222" stroke-width="0.95"/>
<line x1="89.15" y1="639.9" x2="97.85" y2="639.9" stroke="#222" stroke-width="0.95"/>
<line x1="89.15" y1="686.4" x2="97.85" y2="686.4" stroke="#222" stroke-width="0.95"/>
<rect x="86.2" y="646.9" width="15.60" height="8.70" fill="#e07a76" stroke="#222" stroke-width="1.1"/>
<line x1="86.2" y1="651.5" x2="101.8" y2="651.5" stroke="#111" stroke-width="1.5"/>
<line x1="93.5" y1="698.1" x2="93.5" y2="702.1" stroke="#555" stroke-width="0.9"/>
<line x1="112.5" y1="645.5" x2="112.5" y2="653.2" stroke="#222" stroke-width="0.95"/>
<line x1="112.5" y1="662.6" x2="112.5" y2="693.4" stroke="#222" stroke-width="0.95"/>
<line x1="108.25" y1="645.5" x2="116.75" y2="645.5" stroke="#222" stroke-width="0.95"/>
<line x1="108.25" y1="693.4" x2="116.75" y2="693.4" stroke="#222" stroke-width="0.95"/>
<rect x="104.3" y="653.2" width="16.40" height="9.40" fill="#e0282e" stroke="#222" stroke-width="1.1"/>
<line x1="104.3" y1="657.4" x2="120.7" y2="657.4" stroke="#111" stroke-width="1.5"/>
<line x1="112.5" y1="698.1" x2="112.5" y2="702.1" stroke="#555" stroke-width="0.9"/>
<text x="0" y="0" text-anchor="middle" font-size="10.8" textLength="72.7" lengthAdjust="spacingAndGlyphs" transform="translate(45.8,662.9) rotate(-90)">ZIC2 enrichment</text>
<text x="0" y="0" text-anchor="middle" font-size="10.8" textLength="91.9" lengthAdjust="spacingAndGlyphs" transform="translate(56.6,662.6) rotate(-90)">log<tspan font-size="6.8" dy="2.4">2</tspan><tspan dy="-2.4">ratio (Trp/DMSO)</tspan></text>
<text x="93.2" y="713.1" text-anchor="middle" font-size="10.3">1h</text>
<text x="113.0" y="713.1" text-anchor="middle" font-size="10.3">4h</text>
<text x="167" y="607" font-weight="bold" fill="#000" style="stroke:#000" font-size="12.5">g</text>
<text x="224.3" y="639" text-anchor="middle" fill="#4a4aa0" style="stroke:#4a4aa0" font-size="10.5">Vehicle</text>
<text x="224.3" y="662" text-anchor="middle" fill="#b8304a" style="stroke:#b8304a" font-size="10.5">Trp</text>
<text x="224.3" y="680.4" text-anchor="middle" fill="#22b0a0" style="stroke:#22b0a0" font-size="10.5">H3K27me3</text>
<text x="224.3" y="689" text-anchor="middle" fill="#22b0a0" style="stroke:#22b0a0" font-size="10.5">ChIP</text>
<text x="224.3" y="704" text-anchor="middle" fill="#d8863a" style="stroke:#d8863a" font-size="10.5">H3K27ac</text>
<text x="224.3" y="712.5" text-anchor="middle" fill="#d8863a" style="stroke:#d8863a" font-size="10.5">ChIP</text>
<text x="0" y="0" text-anchor="middle" font-size="10.5" transform="translate(190,645) rotate(-90)">ZIC2 ChIP</text>
<line x1="193" y1="623.5" x2="193" y2="669" stroke="#444" stroke-width="0.9"/>
<rect x="253.3" y="621.5" width="135.7" height="95" fill="#f9f9f9"/>
<line x1="253.3" y1="619.6" x2="389" y2="619.6" stroke="#555" stroke-width="1"/>
<line x1="253.3" y1="615" x2="253.3" y2="619.6" stroke="#555" stroke-width="1"/>
<text x="256.0" y="611.6" text-anchor="middle" font-size="10.5">31,160kb</text>
<line x1="321.6" y1="615" x2="321.6" y2="619.6" stroke="#555" stroke-width="1"/>
<text x="322.5" y="611.6" text-anchor="middle" font-size="10.5">31,170kb</text>
<line x1="389" y1="615" x2="389" y2="619.6" stroke="#555" stroke-width="1"/>
<text x="391.2" y="611.6" text-anchor="middle" font-size="10.5">31,180kb</text>
<path d="M253.3,645.5 V645.41 H253.90 V645.27 H254.50 V645.33 H255.10 V645.49 H255.70 V645.49 H256.30 V645.48 H256.90 V645.38 H257.50 V645.47 H258.10 V645.28 H258.70 V645.31 H259.30 V644.68 H259.90 V645.07 H260.50 V645.47 H261.10 V645.42 H261.70 V645.46 H262.30 V645.28 H262.90 V645.33 H263.50 V645.49 H264.10 V645.25 H264.70 V645.42 H265.30 V645.37 H265.90 V645.15 H266.50 V645.44 H267.10 V645.34 H267.70 V645.21 H268.30 V644.64 H268.90 V645.38 H269.50 V645.46 H270.10 V645.49 H270.70 V645.18 H271.30 V645.04 H271.90 V645.24 H272.50 V645.31 H273.10 V645.10 H273.70 V645.36 H274.30 V645.49 H274.90 V645.27 H275.50 V645.12 H276.10 V645.39 H276.70 V645.49 H277.30 V645.46 H277.90 V645.49 H278.50 V645.47 H279.10 V645.39 H279.70 V645.48 H280.30 V645.32 H280.90 V645.12 H281.50 V645.43 H282.10 V645.40 H282.70 V644.80 H283.30 V645.46 H283.90 V645.44 H284.50 V645.30 H285.10 V645.50 H285.70 V645.40 H286.30 V644.83 H286.90 V645.34 H287.50 V645.25 H288.10 V644.99 H288.70 V645.04 H289.30 V645.39 H289.90 V645.48 H290.50 V645.49 H291.10 V645.45 H291.70 V645.41 H292.30 V645.50 H292.90 V645.48 H293.50 V645.49 H294.10 V645.29 H294.70 V645.44 H295.30 V645.40 H295.90 V645.08 H296.50 V645.36 H297.10 V645.48 H297.70 V645.41 H298.30 V645.11 H298.90 V645.49 H299.50 V645.33 H300.10 V645.33 H300.70 V645.33 H301.30 V645.06 H301.90 V645.43 H302.50 V645.46 H303.10 V645.33 H303.70 V645.41 H304.30 V645.13 H304.90 V645.08 H305.50 V645.12 H306.10 V645.44 H306.70 V645.40 H307.30 V645.49 H307.90 V645.43 H308.50 V644.81 H309.10 V644.89 H309.70 V644.82 H310.30 V645.45 H310.90 V645.45 H311.50 V645.28 H312.10 V645.10 H312.70 V645.27 H313.30 V645.48 H313.90 V644.97 H314.50 V645.19 H315.10 V645.46 H315.70 V645.41 H316.30 V644.72 H316.90 V645.39 H317.50 V645.22 H318.10 V645.47 H318.70 V644.97 H319.30 V645.44 H319.90 V644.57 H320.50 V645.26 H321.10 V645.19 H321.70 V644.17 H322.30 V644.39 H322.90 V643.99 H323.50 V643.40 H324.10 V643.40 H324.70 V643.22 H325.30 V643.37 H325.90 V643.62 H326.50 V644.05 H327.10 V644.30 H327.70 V644.65 H328.30 V644.70 H328.90 V644.50 H329.50 V644.06 H330.10 V643.57 H330.70 V643.16 H331.30 V642.35 H331.90 V641.20 H332.50 V637.66 H333.10 V632.32 H333.70 V626.88 H334.30 V624.19 H334.90 V627.47 H335.50 V633.62 H336.10 V638.35 H336.70 V640.24 H337.30 V640.78 H337.90 V640.67 H338.50 V640.80 H339.10 V640.75 H339.70 V639.95 H340.30 V638.41 H340.90 V637.85 H341.50 V639.75 H342.10 V642.45 H342.70 V644.15 H343.30 V645.25 H343.90 V645.23 H344.50 V645.03 H345.10 V645.45 H345.70 V645.39 H346.30 V644.49 H346.90 V645.46 H347.50 V645.34 H348.10 V645.45 H348.70 V645.22 H349.30 V645.32 H349.90 V645.50 H350.50 V645.28 H351.10 V645.49 H351.70 V645.16 H352.30 V645.48 H352.90 V645.49 H353.50 V645.43 H354.10 V645.38 H354.70 V645.12 H355.30 V645.46 H355.90 V645.31 H356.50 V645.48 H357.10 V645.24 H357.70 V645.48 H358.30 V645.28 H358.90 V645.48 H359.50 V645.48 H360.10 V645.37 H360.70 V645.32 H361.30 V645.43 H361.90 V645.34 H362.50 V645.47 H363.10 V645.49 H363.70 V645.42 H364.30 V645.19 H364.90 V645.35 H365.50 V645.41 H366.10 V645.44 H366.70 V645.21 H367.30 V645.45 H367.90 V644.90 H368.50 V645.12 H369.10 V645.35 H369.70 V645.39 H370.30 V645.24 H370.90 V645.41 H371.50 V645.23 H372.10 V645.39 H372.70 V645.49 H373.30 V645.48 H373.90 V645.44 H374.50 V645.48 H375.10 V645.05 H375.70 V645.43 H376.30 V645.42 H376.90 V645.46 H377.50 V645.43 H378.10 V644.71 H378.70 V645.44 H379.30 V645.42 H379.90 V645.50 H380.50 V645.36 H381.10 V645.45 H381.70 V645.50 H382.30 V645.48 H382.90 V645.49 H383.50 V645.42 H384.10 V645.31 H384.70 V645.19 H385.30 V645.22 H385.90 V645.39 H386.50 V644.58 H387.10 V645.22 H387.70 V645.49 H388.30 V645.01 H388.90 V645.5Z" stroke="none" fill="#231d82" stroke-width="1"/>
<line x1="253.3" y1="645.5" x2="389" y2="645.5" stroke="#231d82" stroke-width="0.8"/>
<path d="M253.3,668.8 V668.27 H254.10 V668.13 H254.90 V668.74 H255.70 V668.50 H256.50 V668.52 H257.30 V668.08 H258.10 V668.15 H258.90 V668.10 H259.70 V668.45 H260.50 V667.91 H261.30 V668.34 H262.10 V668.33 H262.90 V668.70 H263.70 V668.79 H264.50 V668.74 H265.30 V668.62 H266.10 V668.76 H266.90 V668.08 H267.70 V668.47 H268.50 V668.40 H269.30 V668.41 H270.10 V668.34 H270.90 V668.53 H271.70 V668.80 H272.50 V668.16 H273.30 V668.25 H274.10 V668.52 H274.90 V668.49 H275.70 V668.37 H276.50 V668.77 H277.30 V668.27 H278.10 V668.68 H278.90 V668.77 H279.70 V668.68 H280.50 V668.28 H281.30 V668.71 H282.10 V668.26 H282.90 V667.31 H283.70 V668.53 H284.50 V668.61 H285.30 V668.54 H286.10 V668.34 H286.90 V668.22 H287.70 V668.42 H288.50 V668.39 H289.30 V668.77 H290.10 V668.74 H290.90 V668.68 H291.70 V668.26 H292.50 V668.65 H293.30 V668.46 H294.10 V668.79 H294.90 V668.77 H295.70 V668.67 H296.50 V668.35 H297.30 V668.33 H298.10 V668.35 H298.90 V668.66 H299.70 V668.51 H300.50 V668.55 H301.30 V668.55 H302.10 V668.75 H302.90 V667.90 H303.70 V668.71 H304.50 V667.27 H305.30 V667.70 H306.10 V668.79 H306.90 V668.55 H307.70 V668.11 H308.50 V667.42 H309.30 V668.56 H310.10 V668.67 H310.90 V668.71 H311.70 V667.64 H312.50 V668.71 H313.30 V668.45 H314.10 V668.74 H314.90 V668.50 H315.70 V667.58 H316.50 V668.74 H317.30 V668.11 H318.10 V668.52 H318.90 V667.93 H319.70 V668.31 H320.50 V668.69 H321.30 V667.89 H322.10 V668.53 H322.90 V668.79 H323.70 V668.80 H324.50 V668.53 H325.30 V668.56 H326.10 V668.66 H326.90 V668.74 H327.70 V668.63 H328.50 V668.61 H329.30 V667.90 H330.10 V668.31 H330.90 V667.27 H331.70 V666.64 H332.50 V666.94 H333.30 V665.47 H334.10 V665.53 H334.90 V665.08 H335.70 V666.41 H336.50 V667.02 H337.30 V667.32 H338.10 V664.73 H338.90 V666.91 H339.70 V667.23 H340.50 V667.60 H341.30 V668.16 H342.10 V668.58 H342.90 V668.70 H343.70 V668.07 H344.50 V668.66 H345.30 V667.70 H346.10 V668.69 H346.90 V668.68 H347.70 V668.51 H348.50 V668.72 H349.30 V668.61 H350.10 V667.55 H350.90 V667.94 H351.70 V668.13 H352.50 V668.40 H353.30 V667.82 H354.10 V667.67 H354.90 V668.48 H355.70 V668.29 H356.50 V668.78 H357.30 V668.27 H358.10 V668.56 H358.90 V668.24 H359.70 V668.39 H360.50 V668.67 H361.30 V668.78 H362.10 V667.75 H362.90 V668.75 H363.70 V668.54 H364.50 V668.63 H365.30 V668.66 H366.10 V668.26 H366.90 V667.30 H367.70 V668.68 H368.50 V668.37 H369.30 V668.66 H370.10 V668.47 H370.90 V668.60 H371.70 V668.73 H372.50 V668.73 H373.30 V668.71 H374.10 V667.85 H374.90 V668.53 H375.70 V668.70 H376.50 V667.85 H377.30 V666.54 H378.10 V668.56 H378.90 V668.74 H379.70 V668.71 H380.50 V668.76 H381.30 V668.63 H382.10 V668.76 H382.90 V668.69 H383.70 V668.68 H384.50 V668.46 H385.30 V667.93 H386.10 V668.25 H386.90 V668.59 H387.70 V668.59 H388.50 V668.8Z" stroke="none" fill="#b3262e" stroke-width="1"/>
<line x1="253.3" y1="668.8" x2="389" y2="668.8" stroke="#c84050" stroke-width="1.1"/>
<path d="M253.3,692.4 V692.34 H254.30 V692.37 H255.30 V692.37 H256.30 V692.39 H257.30 V692.32 H258.30 V692.38 H259.30 V692.38 H260.30 V692.35 H261.30 V692.25 H262.30 V692.40 H263.30 V692.30 H264.30 V692.35 H265.30 V692.40 H266.30 V692.19 H267.30 V692.25 H268.30 V692.38 H269.30 V692.39 H270.30 V692.31 H271.30 V692.30 H272.30 V692.28 H273.30 V692.34 H274.30 V692.28 H275.30 V692.20 H276.30 V692.37 H277.30 V692.38 H278.30 V692.30 H279.30 V692.39 H280.30 V692.33 H281.30 V692.38 H282.30 V692.40 H283.30 V692.35 H284.30 V692.32 H285.30 V692.35 H286.30 V692.38 H287.30 V692.30 H288.30 V692.40 H289.30 V692.31 H290.30 V692.38 H291.30 V692.19 H292.30 V692.40 H293.30 V692.36 H294.30 V692.38 H295.30 V692.29 H296.30 V692.38 H297.30 V692.37 H298.30 V692.38 H299.30 V692.29 H300.30 V692.16 H301.30 V692.38 H302.30 V692.36 H303.30 V692.16 H304.30 V692.36 H305.30 V692.11 H306.30 V692.40 H307.30 V692.36 H308.30 V692.23 H309.30 V691.92 H310.30 V692.37 H311.30 V692.18 H312.30 V692.40 H313.30 V692.36 H314.30 V692.37 H315.30 V692.40 H316.30 V692.37 H317.30 V692.39 H318.30 V692.38 H319.30 V692.26 H320.30 V692.35 H321.30 V692.35 H322.30 V692.20 H323.30 V692.36 H324.30 V692.40 H325.30 V692.27 H326.30 V692.40 H327.30 V692.39 H328.30 V692.38 H329.30 V692.22 H330.30 V692.37 H331.30 V692.32 H332.30 V692.30 H333.30 V689.91 H334.30 V692.20 H335.30 V692.17 H336.30 V692.38 H337.30 V692.15 H338.30 V692.36 H339.30 V692.36 H340.30 V692.19 H341.30 V692.27 H342.30 V692.26 H343.30 V692.33 H344.30 V692.37 H345.30 V692.28 H346.30 V692.38 H347.30 V692.38 H348.30 V692.40 H349.30 V692.37 H350.30 V692.23 H351.30 V692.38 H352.30 V692.39 H353.30 V692.30 H354.30 V692.38 H355.30 V692.32 H356.30 V692.29 H357.30 V692.31 H358.30 V692.25 H359.30 V692.33 H360.30 V692.29 H361.30 V692.38 H362.30 V692.39 H363.30 V692.33 H364.30 V692.36 H365.30 V692.34 H366.30 V692.27 H367.30 V692.02 H368.30 V692.35 H369.30 V692.25 H370.30 V692.40 H371.30 V692.39 H372.30 V692.11 H373.30 V692.19 H374.30 V692.24 H375.30 V692.38 H376.30 V692.17 H377.30 V692.33 H378.30 V692.38 H379.30 V692.39 H380.30 V692.38 H381.30 V692.32 H382.30 V692.40 H383.30 V692.31 H384.30 V692.37 H385.30 V692.27 H386.30 V692.39 H387.30 V692.36 H388.30 V692.4Z" stroke="none" fill="#26ad98" stroke-width="1"/>
<line x1="253.3" y1="692.4" x2="389" y2="692.4" stroke="#7ccfc0" stroke-width="0.6"/>
<path d="M253.3,716 V715.54 H254.10 V715.47 H254.90 V715.83 H255.70 V715.62 H256.50 V715.10 H257.30 V715.90 H258.10 V716.00 H258.90 V715.23 H259.70 V715.72 H260.50 V715.64 H261.30 V715.96 H262.10 V715.68 H262.90 V715.67 H263.70 V715.70 H264.50 V715.90 H265.30 V714.33 H266.10 V714.83 H266.90 V715.56 H267.70 V715.31 H268.50 V715.16 H269.30 V715.89 H270.10 V715.78 H270.90 V715.42 H271.70 V715.63 H272.50 V715.18 H273.30 V715.64 H274.10 V715.75 H274.90 V715.52 H275.70 V715.99 H276.50 V715.88 H277.30 V715.72 H278.10 V715.95 H278.90 V715.96 H279.70 V715.98 H280.50 V715.40 H281.30 V715.97 H282.10 V714.64 H282.90 V713.50 H283.70 V715.90 H284.50 V714.59 H285.30 V715.30 H286.10 V715.81 H286.90 V714.98 H287.70 V715.93 H288.50 V715.89 H289.30 V715.83 H290.10 V715.92 H290.90 V714.98 H291.70 V715.94 H292.50 V715.80 H293.30 V715.61 H294.10 V713.77 H294.90 V715.28 H295.70 V715.61 H296.50 V715.74 H297.30 V715.98 H298.10 V715.54 H298.90 V715.51 H299.70 V715.98 H300.50 V715.75 H301.30 V715.94 H302.10 V714.41 H302.90 V715.80 H303.70 V715.60 H304.50 V715.70 H305.30 V715.85 H306.10 V715.46 H306.90 V715.59 H307.70 V715.06 H308.50 V714.33 H309.30 V713.29 H310.10 V713.20 H310.90 V711.58 H311.70 V710.47 H312.50 V710.39 H313.30 V709.48 H314.10 V710.70 H314.90 V709.98 H315.70 V707.11 H316.50 V710.84 H317.30 V711.57 H318.10 V710.96 H318.90 V710.70 H319.70 V711.90 H320.50 V712.17 H321.30 V713.14 H322.10 V713.13 H322.90 V713.60 H323.70 V712.71 H324.50 V712.28 H325.30 V711.46 H326.10 V709.31 H326.90 V710.84 H327.70 V710.85 H328.50 V711.60 H329.30 V710.45 H330.10 V709.94 H330.90 V709.10 H331.70 V705.05 H332.50 V704.31 H333.30 V703.12 H334.10 V701.73 H334.90 V703.73 H335.70 V704.00 H336.50 V701.26 H337.30 V703.65 H338.10 V699.20 H338.90 V697.37 H339.70 V699.38 H340.50 V703.84 H341.30 V706.36 H342.10 V709.96 H342.90 V709.01 H343.70 V707.44 H344.50 V704.51 H345.30 V705.11 H346.10 V705.21 H346.90 V709.77 H347.70 V712.28 H348.50 V712.63 H349.30 V714.49 H350.10 V715.07 H350.90 V715.33 H351.70 V715.78 H352.50 V715.00 H353.30 V715.99 H354.10 V714.96 H354.90 V715.03 H355.70 V715.66 H356.50 V715.53 H357.30 V715.92 H358.10 V715.39 H358.90 V715.33 H359.70 V715.72 H360.50 V715.90 H361.30 V715.16 H362.10 V715.87 H362.90 V715.92 H363.70 V714.34 H364.50 V714.52 H365.30 V714.14 H366.10 V715.74 H366.90 V715.95 H367.70 V715.98 H368.50 V715.47 H369.30 V715.72 H370.10 V715.77 H370.90 V715.75 H371.70 V715.75 H372.50 V715.05 H373.30 V715.14 H374.10 V715.73 H374.90 V715.95 H375.70 V715.44 H376.50 V715.75 H377.30 V715.76 H378.10 V715.91 H378.90 V715.78 H379.70 V715.98 H380.50 V715.31 H381.30 V715.95 H382.10 V715.43 H382.90 V715.21 H383.70 V714.67 H384.50 V715.78 H385.30 V714.13 H386.10 V715.86 H386.90 V715.76 H387.70 V715.80 H388.50 V716Z" stroke="none" fill="#d8801e" stroke-width="1"/>
<line x1="253.3" y1="716" x2="389" y2="716" stroke="#d8801e" stroke-width="0.8"/>
<rect x="331" y="621.5" width="10" height="95" fill="#ffda56" opacity="0.22"/>
<text x="254.10000000000002" y="631.6" font-size="10.5">[0-100]</text>
<text x="254.10000000000002" y="655.5" font-size="10.5">[0-100]</text>
<text x="254.10000000000002" y="679.3" font-size="10.5">[0-100]</text>
<text x="254.10000000000002" y="702.6" font-size="10.5">[0-40]</text>
<line x1="284" y1="729.2" x2="324" y2="729.2" stroke="#222" stroke-width="0.8"/>
<path d="M282.3,729.2 L287.8,725.9 L287.8,732.5Z" stroke="none" fill="#000" stroke-width="1" stroke="#000" stroke-width="0.6" stroke-linejoin="round"/>
<line x1="289.6" y1="726.6" x2="289.6" y2="731.8" stroke="#111" stroke-width="0.75"/>
<line x1="291.7" y1="726.6" x2="291.7" y2="731.8" stroke="#111" stroke-width="0.75"/>
<line x1="293.8" y1="726.6" x2="293.8" y2="731.8" stroke="#111" stroke-width="0.75"/>
<line x1="295.9" y1="726.6" x2="295.9" y2="731.8" stroke="#111" stroke-width="0.75"/>
<rect x="322" y="726.6" width="3.2" height="5.2" fill="#000"/>
<path d="M324.6,726.5 L324.6,721.8 L321.6,721.8" stroke="#222" fill="none" stroke-width="0.75"/>
<path d="M320.3,721.8 L322.3,720.2 L322.3,723.4Z" stroke="none" fill="#222" stroke-width="1"/>
<text x="324.8" y="741.6" text-anchor="middle" font-style="italic" font-size="10.5">POU5F1</text>
<text x="484.2" y="639" text-anchor="middle" fill="#4a4aa0" style="stroke:#4a4aa0" font-size="10.5">Vehicle</text>
<text x="484.2" y="662" text-anchor="middle" fill="#b8304a" style="stroke:#b8304a" font-size="10.5">Trp</text>
<text x="484.2" y="680.4" text-anchor="middle" fill="#22b0a0" style="stroke:#22b0a0" font-size="10.5">H3K27me3</text>
<text x="484.2" y="689" text-anchor="middle" fill="#22b0a0" style="stroke:#22b0a0" font-size="10.5">ChIP</text>
<text x="484.2" y="704" text-anchor="middle" fill="#d8863a" style="stroke:#d8863a" font-size="10.5">H3K27ac</text>
<text x="484.2" y="712.5" text-anchor="middle" fill="#d8863a" style="stroke:#d8863a" font-size="10.5">ChIP</text>
<text x="0" y="0" text-anchor="middle" font-size="10.5" transform="translate(450,645) rotate(-90)">ZIC2 ChIP</text>
<line x1="453" y1="623.5" x2="453" y2="669" stroke="#444" stroke-width="0.9"/>
<rect x="516.6" y="621.5" width="136.0" height="95" fill="#f9f9f9"/>
<line x1="516.6" y1="619.6" x2="652.6" y2="619.6" stroke="#555" stroke-width="1"/>
<line x1="516.6" y1="615" x2="516.6" y2="619.6" stroke="#555" stroke-width="1"/>
<text x="517.8" y="611.6" text-anchor="middle" font-size="10.5">27,220kb</text>
<line x1="584.6" y1="615" x2="584.6" y2="619.6" stroke="#555" stroke-width="1"/>
<text x="584.6" y="611.6" text-anchor="middle" font-size="10.5">27,250kb</text>
<line x1="652.6" y1="615" x2="652.6" y2="619.6" stroke="#555" stroke-width="1"/>
<text x="653.2" y="611.6" text-anchor="middle" font-size="10.5">27,280kb</text>
<path d="M516.6,644.7 V643.96 H517.30 V644.56 H518.00 V642.06 H518.70 V644.15 H519.40 V644.56 H520.10 V644.14 H520.80 V642.35 H521.50 V643.71 H522.20 V644.53 H522.90 V643.59 H523.60 V643.05 H524.30 V644.39 H525.00 V644.45 H525.70 V644.67 H526.40 V641.23 H527.10 V641.80 H527.80 V643.43 H528.50 V643.88 H529.20 V643.41 H529.90 V643.48 H530.60 V644.09 H531.30 V641.37 H532.00 V643.96 H532.70 V642.94 H533.40 V642.50 H534.10 V644.33 H534.80 V640.96 H535.50 V644.25 H536.20 V644.44 H536.90 V644.66 H537.60 V644.68 H538.30 V643.23 H539.00 V644.31 H539.70 V644.68 H540.40 V644.47 H541.10 V644.35 H541.80 V644.57 H542.50 V644.26 H543.20 V643.73 H543.90 V644.53 H544.60 V644.12 H545.30 V642.40 H546.00 V641.46 H546.70 V642.80 H547.40 V644.56 H548.10 V644.06 H548.80 V644.08 H549.50 V643.84 H550.20 V644.22 H550.90 V642.20 H551.60 V642.93 H552.30 V643.03 H553.00 V641.09 H553.70 V642.29 H554.40 V639.10 H555.10 V642.07 H555.80 V641.26 H556.50 V641.99 H557.20 V640.78 H557.90 V643.10 H558.60 V640.16 H559.30 V637.07 H560.00 V623.41 H560.70 V627.03 H561.40 V631.00 H562.10 V638.15 H562.80 V642.91 H563.50 V639.49 H564.20 V640.61 H564.90 V641.54 H565.60 V640.87 H566.30 V640.37 H567.00 V639.68 H567.70 V636.48 H568.40 V636.25 H569.10 V634.25 H569.80 V631.95 H570.50 V634.44 H571.20 V634.27 H571.90 V636.94 H572.60 V637.39 H573.30 V635.84 H574.00 V636.57 H574.70 V641.61 H575.40 V642.91 H576.10 V641.73 H576.80 V641.94 H577.50 V642.65 H578.20 V644.03 H578.90 V643.90 H579.60 V644.18 H580.30 V642.12 H581.00 V641.79 H581.70 V644.55 H582.40 V643.51 H583.10 V642.99 H583.80 V644.04 H584.50 V644.42 H585.20 V644.67 H585.90 V644.64 H586.60 V644.61 H587.30 V643.42 H588.00 V643.59 H588.70 V644.53 H589.40 V643.09 H590.10 V642.00 H590.80 V643.68 H591.50 V643.58 H592.20 V641.26 H592.90 V644.63 H593.60 V644.24 H594.30 V644.09 H595.00 V644.60 H595.70 V643.20 H596.40 V643.42 H597.10 V644.67 H597.80 V644.13 H598.50 V644.61 H599.20 V641.98 H599.90 V644.64 H600.60 V644.63 H601.30 V642.26 H602.00 V643.13 H602.70 V644.56 H603.40 V641.71 H604.10 V643.25 H604.80 V644.37 H605.50 V644.34 H606.20 V642.19 H606.90 V644.61 H607.60 V643.01 H608.30 V642.60 H609.00 V640.46 H609.70 V643.46 H610.40 V642.98 H611.10 V644.45 H611.80 V641.84 H612.50 V644.67 H613.20 V640.01 H613.90 V641.99 H614.60 V644.59 H615.30 V644.56 H616.00 V644.59 H616.70 V643.59 H617.40 V643.07 H618.10 V644.02 H618.80 V642.16 H619.50 V641.41 H620.20 V643.69 H620.90 V644.69 H621.60 V642.36 H622.30 V642.83 H623.00 V644.70 H623.70 V641.93 H624.40 V643.60 H625.10 V644.44 H625.80 V643.57 H626.50 V644.30 H627.20 V644.69 H627.90 V643.24 H628.60 V642.35 H629.30 V644.69 H630.00 V644.29 H630.70 V643.58 H631.40 V644.63 H632.10 V642.83 H632.80 V644.21 H633.50 V644.23 H634.20 V643.74 H634.90 V644.40 H635.60 V644.42 H636.30 V642.94 H637.00 V642.51 H637.70 V643.77 H638.40 V644.30 H639.10 V644.54 H639.80 V644.45 H640.50 V644.39 H641.20 V644.62 H641.90 V643.18 H642.60 V643.51 H643.30 V641.84 H644.00 V644.27 H644.70 V644.54 H645.40 V641.57 H646.10 V644.63 H646.80 V642.48 H647.50 V643.52 H648.20 V643.08 H648.90 V644.27 H649.60 V644.24 H650.30 V644.02 H651.00 V644.18 H651.70 V642.62 H652.40 V644.7Z" stroke="none" fill="#231d82" stroke-width="1"/>
<line x1="516.6" y1="644.7" x2="652.6" y2="644.7" stroke="#231d82" stroke-width="0.9"/>
<path d="M516.6,668.6 V666.58 H517.30 V668.46 H518.00 V668.43 H518.70 V666.91 H519.40 V666.66 H520.10 V666.64 H520.80 V666.39 H521.50 V668.04 H522.20 V667.74 H522.90 V667.92 H523.60 V667.83 H524.30 V668.53 H525.00 V667.87 H525.70 V666.96 H526.40 V667.83 H527.10 V668.36 H527.80 V667.96 H528.50 V668.19 H529.20 V667.83 H529.90 V666.84 H530.60 V668.17 H531.30 V667.34 H532.00 V667.69 H532.70 V668.32 H533.40 V668.58 H534.10 V667.34 H534.80 V665.40 H535.50 V668.02 H536.20 V668.15 H536.90 V668.04 H537.60 V668.37 H538.30 V668.17 H539.00 V668.27 H539.70 V665.82 H540.40 V666.25 H541.10 V667.73 H541.80 V667.48 H542.50 V666.28 H543.20 V668.51 H543.90 V667.05 H544.60 V668.14 H545.30 V666.39 H546.00 V668.42 H546.70 V668.42 H547.40 V666.15 H548.10 V668.45 H548.80 V665.68 H549.50 V666.06 H550.20 V666.60 H550.90 V668.13 H551.60 V668.59 H552.30 V667.97 H553.00 V665.66 H553.70 V668.39 H554.40 V668.57 H555.10 V667.00 H555.80 V665.61 H556.50 V668.41 H557.20 V668.42 H557.90 V668.25 H558.60 V668.13 H559.30 V664.75 H560.00 V652.75 H560.70 V653.18 H561.40 V656.46 H562.10 V661.18 H562.80 V665.92 H563.50 V665.10 H564.20 V666.05 H564.90 V664.94 H565.60 V663.54 H566.30 V663.11 H567.00 V664.03 H567.70 V664.31 H568.40 V663.62 H569.10 V662.27 H569.80 V662.18 H570.50 V662.25 H571.20 V667.83 H571.90 V667.38 H572.60 V662.78 H573.30 V663.06 H574.00 V664.74 H574.70 V664.00 H575.40 V665.41 H576.10 V666.47 H576.80 V667.16 H577.50 V666.09 H578.20 V668.38 H578.90 V665.34 H579.60 V667.05 H580.30 V667.94 H581.00 V667.34 H581.70 V666.88 H582.40 V668.50 H583.10 V666.21 H583.80 V665.75 H584.50 V665.75 H585.20 V667.53 H585.90 V668.48 H586.60 V668.55 H587.30 V667.91 H588.00 V668.55 H588.70 V667.27 H589.40 V667.71 H590.10 V668.57 H590.80 V668.24 H591.50 V665.54 H592.20 V668.45 H592.90 V668.09 H593.60 V668.57 H594.30 V668.49 H595.00 V667.99 H595.70 V668.46 H596.40 V667.23 H597.10 V665.48 H597.80 V667.76 H598.50 V668.51 H599.20 V668.29 H599.90 V668.54 H600.60 V667.07 H601.30 V668.00 H602.00 V668.40 H602.70 V667.68 H603.40 V665.53 H604.10 V666.31 H604.80 V668.49 H605.50 V667.34 H606.20 V667.23 H606.90 V667.60 H607.60 V667.69 H608.30 V668.09 H609.00 V668.51 H609.70 V667.92 H610.40 V667.73 H611.10 V668.20 H611.80 V666.42 H612.50 V667.74 H613.20 V667.15 H613.90 V668.51 H614.60 V668.56 H615.30 V668.31 H616.00 V668.58 H616.70 V665.31 H617.40 V667.83 H618.10 V668.06 H618.80 V668.39 H619.50 V667.73 H620.20 V668.42 H620.90 V667.40 H621.60 V668.29 H622.30 V667.60 H623.00 V668.12 H623.70 V668.04 H624.40 V668.18 H625.10 V668.08 H625.80 V666.30 H626.50 V666.05 H627.20 V668.17 H627.90 V668.18 H628.60 V668.50 H629.30 V668.54 H630.00 V668.55 H630.70 V668.26 H631.40 V666.25 H632.10 V668.56 H632.80 V668.31 H633.50 V667.97 H634.20 V666.26 H634.90 V667.71 H635.60 V666.99 H636.30 V668.53 H637.00 V668.46 H637.70 V666.69 H638.40 V668.32 H639.10 V667.57 H639.80 V665.14 H640.50 V667.88 H641.20 V668.53 H641.90 V667.12 H642.60 V666.13 H643.30 V668.54 H644.00 V666.67 H644.70 V667.32 H645.40 V665.77 H646.10 V668.02 H646.80 V667.56 H647.50 V667.77 H648.20 V666.49 H648.90 V666.59 H649.60 V668.03 H650.30 V668.51 H651.00 V667.57 H651.70 V665.63 H652.40 V668.6Z" stroke="none" fill="#b3262e" stroke-width="1"/>
<line x1="516.6" y1="668.6" x2="652.6" y2="668.6" stroke="#b3262e" stroke-width="0.9"/>
<path d="M516.6,691.7 V691.69 H517.40 V691.54 H518.20 V689.50 H519.00 V691.61 H519.80 V691.47 H520.60 V691.15 H521.40 V690.64 H522.20 V689.65 H523.00 V688.43 H523.80 V687.82 H524.60 V687.27 H525.40 V686.61 H526.20 V685.58 H527.00 V684.67 H527.80 V684.46 H528.60 V680.01 H529.40 V685.33 H530.20 V687.53 H531.00 V688.21 H531.80 V689.48 H532.60 V690.54 H533.40 V691.07 H534.20 V690.80 H535.00 V691.45 H535.80 V691.48 H536.60 V691.33 H537.40 V691.68 H538.20 V691.62 H539.00 V691.65 H539.80 V691.63 H540.60 V691.44 H541.40 V691.56 H542.20 V691.27 H543.00 V690.89 H543.80 V690.79 H544.60 V690.38 H545.40 V689.43 H546.20 V688.92 H547.00 V688.80 H547.80 V686.78 H548.60 V686.26 H549.40 V685.73 H550.20 V684.12 H551.00 V686.37 H551.80 V683.80 H552.60 V684.73 H553.40 V683.76 H554.20 V684.55 H555.00 V683.02 H555.80 V684.79 H556.60 V684.24 H557.40 V682.37 H558.20 V681.39 H559.00 V680.98 H559.80 V685.05 H560.60 V685.06 H561.40 V684.17 H562.20 V683.66 H563.00 V680.19 H563.80 V680.63 H564.60 V681.83 H565.40 V679.85 H566.20 V679.38 H567.00 V684.19 H567.80 V679.83 H568.60 V682.60 H569.40 V680.89 H570.20 V683.34 H571.00 V683.56 H571.80 V682.88 H572.60 V680.67 H573.40 V680.60 H574.20 V681.00 H575.00 V682.75 H575.80 V681.31 H576.60 V682.09 H577.40 V680.23 H578.20 V680.77 H579.00 V680.26 H579.80 V684.62 H580.60 V680.80 H581.40 V684.07 H582.20 V683.25 H583.00 V680.29 H583.80 V683.22 H584.60 V684.81 H585.40 V683.00 H586.20 V680.24 H587.00 V681.06 H587.80 V682.81 H588.60 V679.38 H589.40 V682.52 H590.20 V683.61 H591.00 V682.50 H591.80 V686.06 H592.60 V687.87 H593.40 V688.16 H594.20 V687.45 H595.00 V690.76 H595.80 V690.46 H596.60 V691.53 H597.40 V690.79 H598.20 V691.57 H599.00 V691.70 H599.80 V691.63 H600.60 V691.63 H601.40 V691.24 H602.20 V691.69 H603.00 V691.44 H603.80 V688.37 H604.60 V691.52 H605.40 V691.63 H606.20 V691.58 H607.00 V691.51 H607.80 V691.60 H608.60 V691.64 H609.40 V691.10 H610.20 V691.52 H611.00 V691.66 H611.80 V691.51 H612.60 V691.63 H613.40 V691.55 H614.20 V691.14 H615.00 V691.58 H615.80 V691.67 H616.60 V691.67 H617.40 V691.52 H618.20 V691.57 H619.00 V691.55 H619.80 V691.34 H620.60 V691.59 H621.40 V691.58 H622.20 V691.70 H623.00 V691.69 H623.80 V691.62 H624.60 V691.25 H625.40 V691.21 H626.20 V691.31 H627.00 V691.69 H627.80 V691.39 H628.60 V691.44 H629.40 V691.58 H630.20 V691.65 H631.00 V691.58 H631.80 V691.68 H632.60 V691.51 H633.40 V691.35 H634.20 V691.54 H635.00 V691.57 H635.80 V691.56 H636.60 V691.26 H637.40 V691.57 H638.20 V691.50 H639.00 V691.67 H639.80 V691.27 H640.60 V691.35 H641.40 V691.41 H642.20 V691.69 H643.00 V691.48 H643.80 V691.19 H644.60 V688.54 H645.40 V691.62 H646.20 V691.21 H647.00 V691.56 H647.80 V691.20 H648.60 V691.63 H649.40 V691.51 H650.20 V691.53 H651.00 V691.30 H651.80 V691.50 H652.60 V691.7Z" stroke="none" fill="#26ad98" stroke-width="1"/>
<line x1="516.6" y1="691.7" x2="652.6" y2="691.7" stroke="#26ad98" stroke-width="0.7"/>
<path d="M516.6,715.6 V715.45 H517.50 V715.49 H518.40 V715.43 H519.30 V715.52 H520.20 V715.54 H521.10 V715.28 H522.00 V715.53 H522.90 V715.35 H523.80 V715.28 H524.70 V715.42 H525.60 V715.48 H526.50 V715.05 H527.40 V715.48 H528.30 V715.18 H529.20 V715.59 H530.10 V715.49 H531.00 V715.40 H531.90 V715.59 H532.80 V715.20 H533.70 V715.59 H534.60 V715.42 H535.50 V715.56 H536.40 V715.09 H537.30 V715.44 H538.20 V715.28 H539.10 V715.46 H540.00 V715.38 H540.90 V715.38 H541.80 V715.53 H542.70 V715.55 H543.60 V715.24 H544.50 V715.57 H545.40 V715.10 H546.30 V715.55 H547.20 V715.58 H548.10 V715.58 H549.00 V715.29 H549.90 V715.00 H550.80 V715.49 H551.70 V715.38 H552.60 V715.54 H553.50 V715.13 H554.40 V715.37 H555.30 V715.57 H556.20 V715.59 H557.10 V715.36 H558.00 V715.59 H558.90 V715.24 H559.80 V715.53 H560.70 V715.55 H561.60 V715.43 H562.50 V715.52 H563.40 V715.44 H564.30 V715.57 H565.20 V715.11 H566.10 V715.52 H567.00 V715.23 H567.90 V715.57 H568.80 V715.28 H569.70 V714.82 H570.60 V715.50 H571.50 V715.59 H572.40 V715.50 H573.30 V715.40 H574.20 V715.55 H575.10 V715.44 H576.00 V715.58 H576.90 V715.48 H577.80 V715.34 H578.70 V715.49 H579.60 V715.37 H580.50 V715.58 H581.40 V715.25 H582.30 V715.57 H583.20 V715.09 H584.10 V714.49 H585.00 V715.04 H585.90 V715.45 H586.80 V715.53 H587.70 V715.51 H588.60 V715.32 H589.50 V715.46 H590.40 V715.07 H591.30 V715.58 H592.20 V715.47 H593.10 V715.20 H594.00 V715.42 H594.90 V715.44 H595.80 V715.58 H596.70 V715.57 H597.60 V715.54 H598.50 V715.15 H599.40 V715.23 H600.30 V715.55 H601.20 V715.08 H602.10 V715.59 H603.00 V715.42 H603.90 V714.92 H604.80 V715.52 H605.70 V715.02 H606.60 V715.39 H607.50 V715.59 H608.40 V715.52 H609.30 V715.48 H610.20 V715.54 H611.10 V715.33 H612.00 V715.56 H612.90 V715.29 H613.80 V715.53 H614.70 V715.59 H615.60 V715.44 H616.50 V715.58 H617.40 V715.44 H618.30 V715.29 H619.20 V715.42 H620.10 V715.48 H621.00 V715.59 H621.90 V715.46 H622.80 V715.58 H623.70 V715.39 H624.60 V715.57 H625.50 V715.43 H626.40 V715.51 H627.30 V715.51 H628.20 V715.38 H629.10 V715.56 H630.00 V715.56 H630.90 V715.03 H631.80 V715.52 H632.70 V715.23 H633.60 V715.19 H634.50 V715.47 H635.40 V715.57 H636.30 V715.58 H637.20 V715.18 H638.10 V715.58 H639.00 V715.46 H639.90 V715.45 H640.80 V715.57 H641.70 V715.47 H642.60 V715.56 H643.50 V715.45 H644.40 V715.46 H645.30 V715.51 H646.20 V715.56 H647.10 V715.50 H648.00 V715.55 H648.90 V715.57 H649.80 V715.55 H650.70 V715.19 H651.60 V715.46 H652.50 V715.6Z" stroke="none" fill="#d8801e" stroke-width="1"/>
<line x1="516.6" y1="715.6" x2="652.6" y2="715.6" stroke="#d8801e" stroke-width="0.8"/>
<rect x="556.0" y="621.5" width="25.399999999999977" height="95" fill="#ffda56" opacity="0.22"/>
<text x="517.4" y="631.6" font-size="10.5">[0-35]</text>
<text x="517.4" y="655.5" font-size="10.5">[0-35]</text>
<text x="517.4" y="679.3" font-size="10.5">[0-100]</text>
<text x="517.4" y="702.6" font-size="10.5">[0-40]</text>
<line x1="568.2" y1="731.6" x2="576.5" y2="731.6" stroke="#222" stroke-width="0.8"/>
<rect x="567.5" y="728.9" width="1.6" height="5.8" rx="0.7" fill="#000"/>
<line x1="573.9" y1="729.6" x2="573.9" y2="733.6" stroke="#777" stroke-width="0.6"/>
<line x1="575.0" y1="729.6" x2="575.0" y2="733.6" stroke="#777" stroke-width="0.6"/>
<rect x="576" y="729.6" width="3.3" height="4.0" fill="#000"/>
<path d="M568.3,726.6 L568.3,722.1 L571.2,722.1" stroke="#222" fill="none" stroke-width="0.75"/>
<path d="M573.6,722.1 L571.2,720.4 L571.2,723.8Z" stroke="none" fill="#222" stroke-width="1"/>
<text x="566.9" y="745.8" text-anchor="middle" font-style="italic" font-size="10.5">EVX1</text>
</svg>
</body></html>
